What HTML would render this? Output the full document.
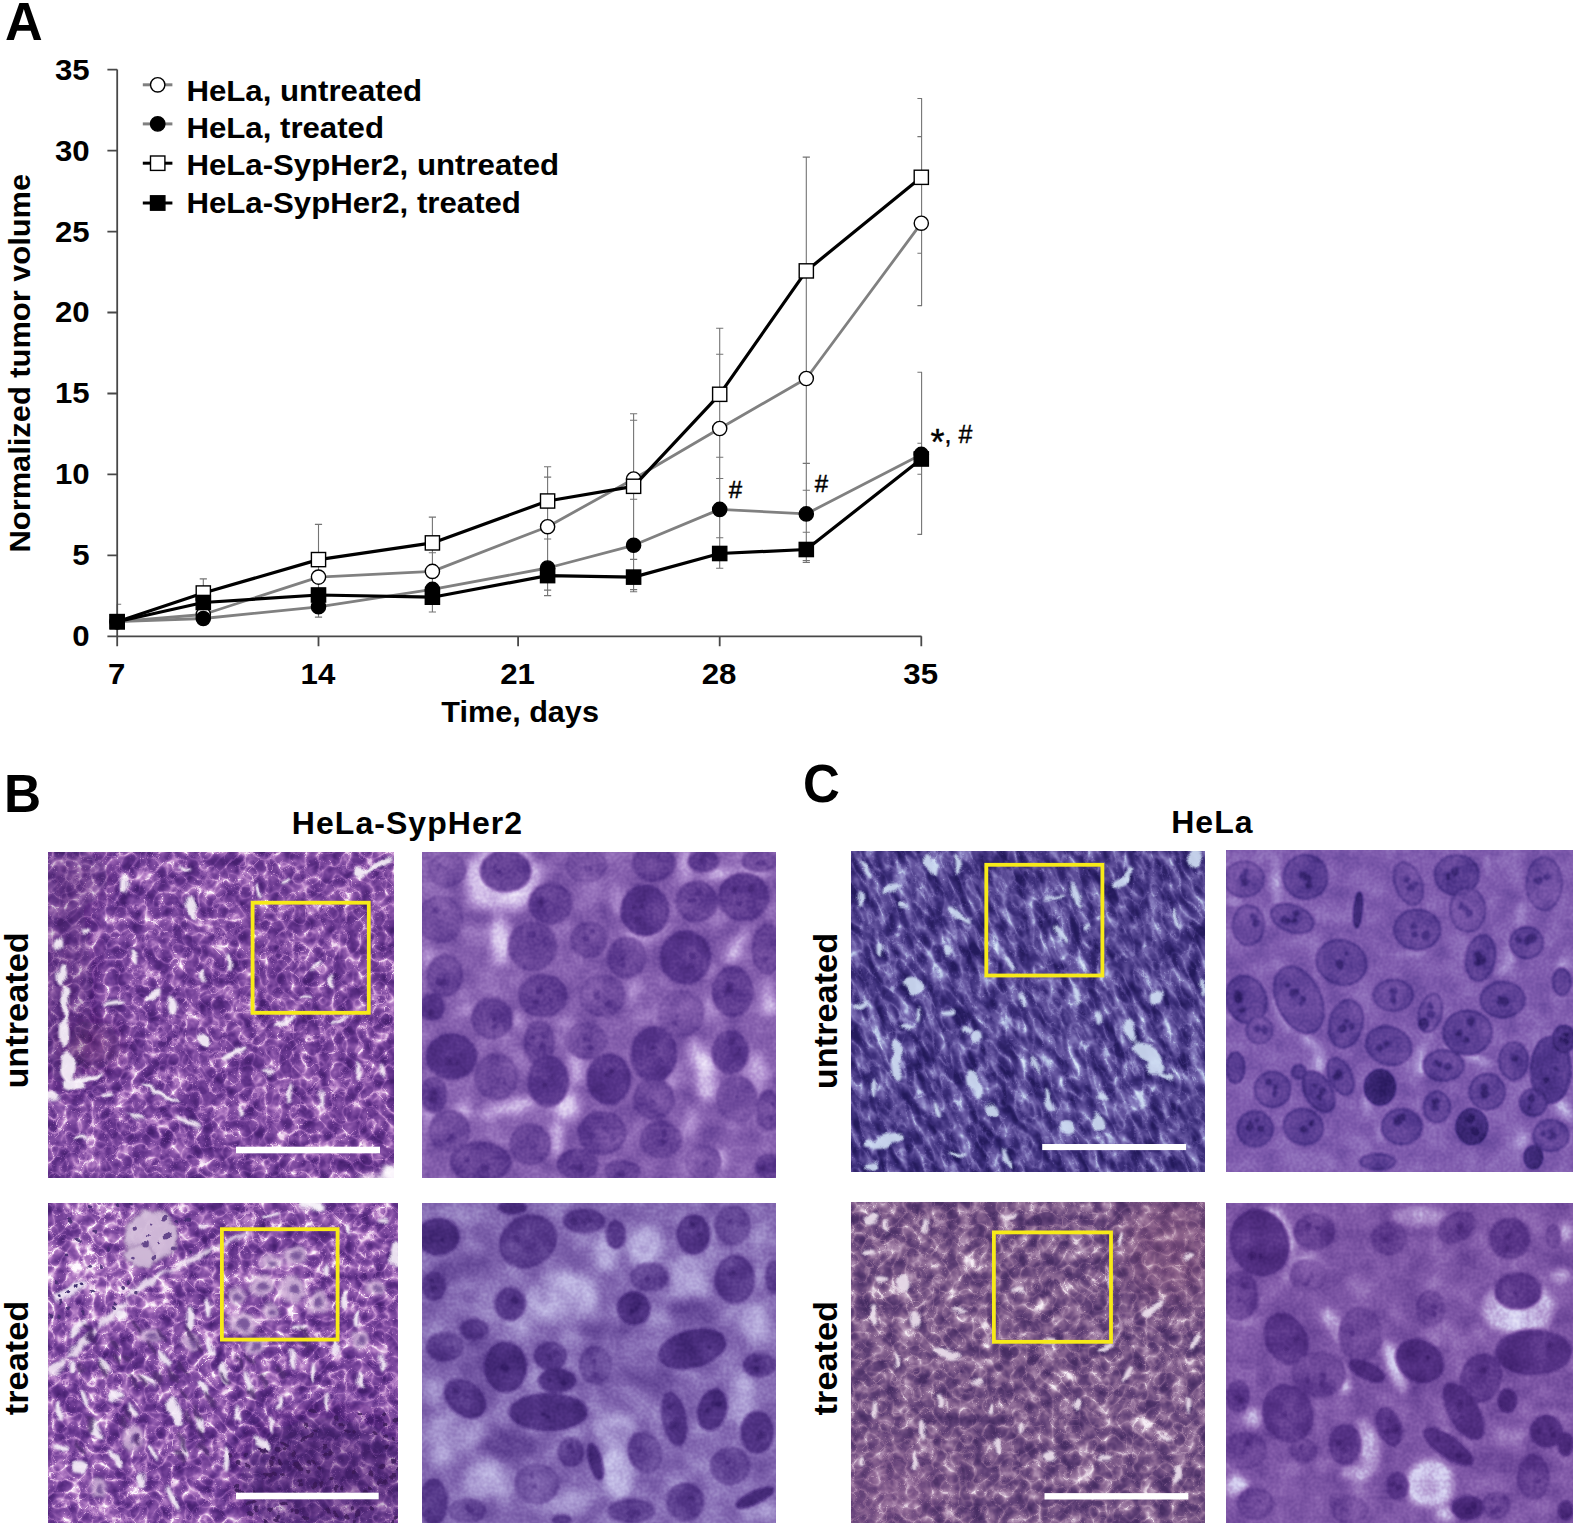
<!DOCTYPE html>
<html lang="en"><head><meta charset="utf-8"><title>Figure</title>
<style>html,body{margin:0;padding:0;background:#fff;}svg{display:block;}text{font-family:"Liberation Sans",Arial,Helvetica,sans-serif;fill:#000;}.b{font-weight:bold;}</style></head><body>
<svg width="1575" height="1527" viewBox="0 0 1575 1527">
<rect x="0" y="0" width="1575" height="1527" fill="#ffffff"/>
<defs>
<filter id="bl0_7" x="-50%" y="-50%" width="200%" height="200%"><feGaussianBlur stdDeviation="0.7"/></filter>
<filter id="bl1" x="-50%" y="-50%" width="200%" height="200%"><feGaussianBlur stdDeviation="1"/></filter>
<filter id="bl1_5" x="-50%" y="-50%" width="200%" height="200%"><feGaussianBlur stdDeviation="1.5"/></filter>
<filter id="bl2" x="-50%" y="-50%" width="200%" height="200%"><feGaussianBlur stdDeviation="2"/></filter>
<filter id="bl3" x="-50%" y="-50%" width="200%" height="200%"><feGaussianBlur stdDeviation="3"/></filter>
<filter id="bl4" x="-50%" y="-50%" width="200%" height="200%"><feGaussianBlur stdDeviation="4"/></filter>
<filter id="bl5" x="-50%" y="-50%" width="200%" height="200%"><feGaussianBlur stdDeviation="5"/></filter>
<filter id="bl6" x="-50%" y="-50%" width="200%" height="200%"><feGaussianBlur stdDeviation="6"/></filter>
<filter id="bl8" x="-50%" y="-50%" width="200%" height="200%"><feGaussianBlur stdDeviation="8"/></filter>
<filter id="bl10" x="-50%" y="-50%" width="200%" height="200%"><feGaussianBlur stdDeviation="10"/></filter>
<filter id="bl14" x="-50%" y="-50%" width="200%" height="200%"><feGaussianBlur stdDeviation="14"/></filter>
<filter id="bl20" x="-50%" y="-50%" width="200%" height="200%"><feGaussianBlur stdDeviation="20"/></filter>
<filter id="warp" x="-5%" y="-5%" width="110%" height="110%"><feTurbulence type="fractalNoise" baseFrequency="0.07" numOctaves="2" seed="4" result="w"/><feDisplacementMap in="SourceGraphic" in2="w" scale="9" xChannelSelector="R" yChannelSelector="G"/><feGaussianBlur stdDeviation="0.5"/></filter>
<filter id="fB1" filterUnits="userSpaceOnUse" x="48.5" y="852.0" width="345.5" height="326.0" color-interpolation-filters="sRGB"><feTurbulence type="turbulence" baseFrequency="0.075" numOctaves="1" seed="3" result="t0"/><feColorMatrix in="t0" type="matrix" values="1 0 0 0 0 1 0 0 0 0 1 0 0 0 0 0 0 0 0 1" result="g0"/><feComponentTransfer in="g0" result="n0"><feFuncR type="table" tableValues="1 0.35 0.05 0 0 0 0 0 0 0 0"/><feFuncG type="table" tableValues="1 0.35 0.05 0 0 0 0 0 0 0 0"/><feFuncB type="table" tableValues="1 0.35 0.05 0 0 0 0 0 0 0 0"/></feComponentTransfer><feComposite in="SourceGraphic" in2="n0" operator="arithmetic" k1="0" k2="1" k3="0.26" k4="0" result="c0"/><feTurbulence type="turbulence" baseFrequency="0.075" numOctaves="1" seed="9" result="t1"/><feColorMatrix in="t1" type="matrix" values="1 0 0 0 0 1 0 0 0 0 1 0 0 0 0 0 0 0 0 1" result="g1"/><feComponentTransfer in="g1" result="n1"><feFuncR type="table" tableValues="1 0.35 0.05 0 0 0 0 0 0 0 0"/><feFuncG type="table" tableValues="1 0.35 0.05 0 0 0 0 0 0 0 0"/><feFuncB type="table" tableValues="1 0.35 0.05 0 0 0 0 0 0 0 0"/></feComponentTransfer><feComposite in="c0" in2="n1" operator="arithmetic" k1="0" k2="1" k3="0.18" k4="0" result="c1"/><feTurbulence type="fractalNoise" baseFrequency="0.07" numOctaves="2" seed="5" result="t2"/><feColorMatrix in="t2" type="matrix" values="1.05 0 0 0 -0.025 1.05 0 0 0 -0.025 1.05 0 0 0 -0.025 0 0 0 0 1" result="n2"/><feComposite in="c1" in2="n2" operator="arithmetic" k1="0" k2="1" k3="1" k4="-0.5" result="c2"/><feTurbulence type="fractalNoise" baseFrequency="0.3" numOctaves="1" seed="7" result="t3"/><feColorMatrix in="t3" type="matrix" values="0.2 0 0 0 0.400 0.2 0 0 0 0.400 0.2 0 0 0 0.400 0 0 0 0 1" result="n3"/><feComposite in="c2" in2="n3" operator="arithmetic" k1="0" k2="1" k3="1" k4="-0.5" result="c3"/><feComponentTransfer in="c3"><feFuncR type="table" tableValues="0.275 0.298 0.322 0.345 0.369 0.392 0.424 0.455 0.486 0.518 0.549 0.598 0.647 0.696 0.745 0.800 0.855 0.910 0.940 0.970 1.000"/><feFuncG type="table" tableValues="0.125 0.141 0.157 0.173 0.188 0.204 0.231 0.257 0.284 0.311 0.337 0.386 0.435 0.484 0.533 0.617 0.701 0.784 0.850 0.915 0.980"/><feFuncB type="table" tableValues="0.439 0.461 0.483 0.505 0.527 0.549 0.573 0.596 0.620 0.643 0.667 0.700 0.733 0.767 0.800 0.839 0.878 0.918 0.945 0.973 1.000"/></feComponentTransfer></filter><clipPath id="cpB1"><rect x="48.5" y="852" width="345.5" height="326.0"/></clipPath>
<filter id="fB2" filterUnits="userSpaceOnUse" x="422.4" y="852.0" width="353.6" height="326.0" color-interpolation-filters="sRGB"><feTurbulence type="fractalNoise" baseFrequency="0.04" numOctaves="2" seed="11" result="t0"/><feColorMatrix in="t0" type="matrix" values="0.35 0 0 0 0.325 0.35 0 0 0 0.325 0.35 0 0 0 0.325 0 0 0 0 1" result="n0"/><feComposite in="SourceGraphic" in2="n0" operator="arithmetic" k1="0" k2="1" k3="1" k4="-0.5" result="c0"/><feTurbulence type="fractalNoise" baseFrequency="0.3" numOctaves="1" seed="5" result="t1"/><feColorMatrix in="t1" type="matrix" values="0.18 0 0 0 0.410 0.18 0 0 0 0.410 0.18 0 0 0 0.410 0 0 0 0 1" result="n1"/><feComposite in="c0" in2="n1" operator="arithmetic" k1="0" k2="1" k3="1" k4="-0.5" result="c1"/><feComponentTransfer in="c1"><feFuncR type="table" tableValues="0.220 0.243 0.267 0.290 0.314 0.337 0.375 0.413 0.450 0.488 0.525 0.565 0.604 0.643 0.682 0.729 0.776 0.824 0.863 0.902 0.941"/><feFuncG type="table" tableValues="0.110 0.129 0.147 0.166 0.185 0.204 0.238 0.273 0.307 0.342 0.376 0.420 0.463 0.506 0.549 0.614 0.680 0.745 0.800 0.855 0.910"/><feFuncB type="table" tableValues="0.408 0.435 0.461 0.488 0.515 0.541 0.569 0.598 0.626 0.654 0.682 0.714 0.745 0.776 0.808 0.842 0.876 0.910 0.933 0.957 0.980"/></feComponentTransfer></filter><clipPath id="cpB2"><rect x="422.4" y="852" width="353.6" height="326.0"/></clipPath>
<filter id="fB3" filterUnits="userSpaceOnUse" x="48.5" y="1203.0" width="349.5" height="320.0" color-interpolation-filters="sRGB"><feTurbulence type="turbulence" baseFrequency="0.075" numOctaves="1" seed="13" result="t0"/><feColorMatrix in="t0" type="matrix" values="1 0 0 0 0 1 0 0 0 0 1 0 0 0 0 0 0 0 0 1" result="g0"/><feComponentTransfer in="g0" result="n0"><feFuncR type="table" tableValues="1 0.35 0.05 0 0 0 0 0 0 0 0"/><feFuncG type="table" tableValues="1 0.35 0.05 0 0 0 0 0 0 0 0"/><feFuncB type="table" tableValues="1 0.35 0.05 0 0 0 0 0 0 0 0"/></feComponentTransfer><feComposite in="SourceGraphic" in2="n0" operator="arithmetic" k1="0" k2="1" k3="0.26" k4="0" result="c0"/><feTurbulence type="turbulence" baseFrequency="0.075" numOctaves="1" seed="19" result="t1"/><feColorMatrix in="t1" type="matrix" values="1 0 0 0 0 1 0 0 0 0 1 0 0 0 0 0 0 0 0 1" result="g1"/><feComponentTransfer in="g1" result="n1"><feFuncR type="table" tableValues="1 0.35 0.05 0 0 0 0 0 0 0 0"/><feFuncG type="table" tableValues="1 0.35 0.05 0 0 0 0 0 0 0 0"/><feFuncB type="table" tableValues="1 0.35 0.05 0 0 0 0 0 0 0 0"/></feComponentTransfer><feComposite in="c0" in2="n1" operator="arithmetic" k1="0" k2="1" k3="0.18" k4="0" result="c1"/><feTurbulence type="fractalNoise" baseFrequency="0.07" numOctaves="2" seed="15" result="t2"/><feColorMatrix in="t2" type="matrix" values="1.1 0 0 0 -0.050 1.1 0 0 0 -0.050 1.1 0 0 0 -0.050 0 0 0 0 1" result="n2"/><feComposite in="c1" in2="n2" operator="arithmetic" k1="0" k2="1" k3="1" k4="-0.5" result="c2"/><feTurbulence type="fractalNoise" baseFrequency="0.3" numOctaves="1" seed="17" result="t3"/><feColorMatrix in="t3" type="matrix" values="0.2 0 0 0 0.400 0.2 0 0 0 0.400 0.2 0 0 0 0.400 0 0 0 0 1" result="n3"/><feComposite in="c2" in2="n3" operator="arithmetic" k1="0" k2="1" k3="1" k4="-0.5" result="c3"/><feComponentTransfer in="c3"><feFuncR type="table" tableValues="0.275 0.298 0.322 0.345 0.369 0.392 0.424 0.455 0.486 0.518 0.549 0.598 0.647 0.696 0.745 0.800 0.855 0.910 0.940 0.970 1.000"/><feFuncG type="table" tableValues="0.125 0.141 0.157 0.173 0.188 0.204 0.231 0.257 0.284 0.311 0.337 0.386 0.435 0.484 0.533 0.617 0.701 0.784 0.850 0.915 0.980"/><feFuncB type="table" tableValues="0.439 0.461 0.483 0.505 0.527 0.549 0.573 0.596 0.620 0.643 0.667 0.700 0.733 0.767 0.800 0.839 0.878 0.918 0.945 0.973 1.000"/></feComponentTransfer></filter><clipPath id="cpB3"><rect x="48.5" y="1203" width="349.5" height="320.0"/></clipPath>
<filter id="fB4" filterUnits="userSpaceOnUse" x="422.4" y="1203.0" width="353.6" height="320.0" color-interpolation-filters="sRGB"><feTurbulence type="fractalNoise" baseFrequency="0.04" numOctaves="2" seed="21" result="t0"/><feColorMatrix in="t0" type="matrix" values="0.35 0 0 0 0.325 0.35 0 0 0 0.325 0.35 0 0 0 0.325 0 0 0 0 1" result="n0"/><feComposite in="SourceGraphic" in2="n0" operator="arithmetic" k1="0" k2="1" k3="1" k4="-0.5" result="c0"/><feTurbulence type="fractalNoise" baseFrequency="0.3" numOctaves="1" seed="25" result="t1"/><feColorMatrix in="t1" type="matrix" values="0.18 0 0 0 0.410 0.18 0 0 0 0.410 0.18 0 0 0 0.410 0 0 0 0 1" result="n1"/><feComposite in="c0" in2="n1" operator="arithmetic" k1="0" k2="1" k3="1" k4="-0.5" result="c1"/><feComponentTransfer in="c1"><feFuncR type="table" tableValues="0.204 0.229 0.254 0.279 0.304 0.329 0.364 0.398 0.433 0.467 0.502 0.541 0.580 0.620 0.659 0.698 0.737 0.776 0.813 0.850 0.886"/><feFuncG type="table" tableValues="0.110 0.130 0.151 0.171 0.191 0.212 0.248 0.284 0.320 0.356 0.392 0.443 0.494 0.545 0.596 0.648 0.701 0.753 0.797 0.842 0.886"/><feFuncB type="table" tableValues="0.400 0.427 0.453 0.480 0.507 0.533 0.563 0.593 0.623 0.653 0.682 0.716 0.749 0.782 0.816 0.847 0.878 0.910 0.928 0.946 0.965"/></feComponentTransfer></filter><clipPath id="cpB4"><rect x="422.4" y="1203" width="353.6" height="320.0"/></clipPath>
<filter id="fC1" filterUnits="userSpaceOnUse" x="752.4" y="752.0" width="551.6" height="518.7" color-interpolation-filters="sRGB"><feTurbulence type="turbulence" baseFrequency="0.1 0.045" numOctaves="1" seed="31" result="t0"/><feColorMatrix in="t0" type="matrix" values="1 0 0 0 0 1 0 0 0 0 1 0 0 0 0 0 0 0 0 1" result="g0"/><feComponentTransfer in="g0" result="n0"><feFuncR type="table" tableValues="1 0.35 0.05 0 0 0 0 0 0 0 0"/><feFuncG type="table" tableValues="1 0.35 0.05 0 0 0 0 0 0 0 0"/><feFuncB type="table" tableValues="1 0.35 0.05 0 0 0 0 0 0 0 0"/></feComponentTransfer><feComposite in="SourceGraphic" in2="n0" operator="arithmetic" k1="0" k2="1" k3="0.2" k4="0" result="c0"/><feTurbulence type="turbulence" baseFrequency="0.1 0.045" numOctaves="1" seed="39" result="t1"/><feColorMatrix in="t1" type="matrix" values="1 0 0 0 0 1 0 0 0 0 1 0 0 0 0 0 0 0 0 1" result="g1"/><feComponentTransfer in="g1" result="n1"><feFuncR type="table" tableValues="1 0.35 0.05 0 0 0 0 0 0 0 0"/><feFuncG type="table" tableValues="1 0.35 0.05 0 0 0 0 0 0 0 0"/><feFuncB type="table" tableValues="1 0.35 0.05 0 0 0 0 0 0 0 0"/></feComponentTransfer><feComposite in="c0" in2="n1" operator="arithmetic" k1="0" k2="1" k3="0.14" k4="0" result="c1"/><feTurbulence type="fractalNoise" baseFrequency="0.09 0.04" numOctaves="2" seed="35" result="t2"/><feColorMatrix in="t2" type="matrix" values="1.3 0 0 0 -0.150 1.3 0 0 0 -0.150 1.3 0 0 0 -0.150 0 0 0 0 1" result="n2"/><feComposite in="c1" in2="n2" operator="arithmetic" k1="0" k2="1" k3="1" k4="-0.5" result="c2"/><feTurbulence type="fractalNoise" baseFrequency="0.3" numOctaves="1" seed="37" result="t3"/><feColorMatrix in="t3" type="matrix" values="0.2 0 0 0 0.400 0.2 0 0 0 0.400 0.2 0 0 0 0.400 0 0 0 0 1" result="n3"/><feComposite in="c2" in2="n3" operator="arithmetic" k1="0" k2="1" k3="1" k4="-0.5" result="c3"/><feComponentTransfer in="c3"><feFuncR type="table" tableValues="0.141 0.162 0.182 0.202 0.223 0.243 0.276 0.309 0.342 0.375 0.408 0.447 0.486 0.525 0.565 0.617 0.669 0.722 0.766 0.810 0.855"/><feFuncG type="table" tableValues="0.102 0.119 0.136 0.154 0.171 0.188 0.220 0.251 0.282 0.314 0.345 0.392 0.439 0.486 0.533 0.612 0.690 0.769 0.813 0.858 0.902"/><feFuncB type="table" tableValues="0.361 0.386 0.411 0.436 0.461 0.486 0.516 0.546 0.576 0.605 0.635 0.671 0.706 0.741 0.776 0.818 0.860 0.902 0.925 0.949 0.973"/></feComponentTransfer></filter><clipPath id="cpC1"><rect x="851.4" y="851" width="353.6" height="320.7"/></clipPath>
<filter id="fC2" filterUnits="userSpaceOnUse" x="1226.6" y="850.7" width="345.6" height="320.8" color-interpolation-filters="sRGB"><feTurbulence type="fractalNoise" baseFrequency="0.04" numOctaves="2" seed="41" result="t0"/><feColorMatrix in="t0" type="matrix" values="0.3 0 0 0 0.350 0.3 0 0 0 0.350 0.3 0 0 0 0.350 0 0 0 0 1" result="n0"/><feComposite in="SourceGraphic" in2="n0" operator="arithmetic" k1="0" k2="1" k3="1" k4="-0.5" result="c0"/><feTurbulence type="fractalNoise" baseFrequency="0.3" numOctaves="1" seed="45" result="t1"/><feColorMatrix in="t1" type="matrix" values="0.18 0 0 0 0.410 0.18 0 0 0 0.410 0.18 0 0 0 0.410 0 0 0 0 1" result="n1"/><feComposite in="c0" in2="n1" operator="arithmetic" k1="0" k2="1" k3="1" k4="-0.5" result="c1"/><feComponentTransfer in="c1"><feFuncR type="table" tableValues="0.165 0.195 0.224 0.254 0.284 0.314 0.351 0.389 0.427 0.464 0.502 0.537 0.573 0.608 0.643 0.695 0.748 0.800 0.839 0.878 0.918"/><feFuncG type="table" tableValues="0.102 0.124 0.146 0.168 0.190 0.212 0.242 0.271 0.301 0.331 0.361 0.406 0.451 0.496 0.541 0.622 0.703 0.784 0.834 0.884 0.933"/><feFuncB type="table" tableValues="0.376 0.411 0.445 0.480 0.515 0.549 0.576 0.602 0.629 0.656 0.682 0.712 0.741 0.771 0.800 0.842 0.884 0.925 0.946 0.967 0.988"/></feComponentTransfer></filter><clipPath id="cpC2"><rect x="1226.6" y="850.7" width="345.6" height="320.8"/></clipPath>
<filter id="fC3" filterUnits="userSpaceOnUse" x="851.4" y="1202.6" width="353.6" height="320.4" color-interpolation-filters="sRGB"><feTurbulence type="turbulence" baseFrequency="0.075" numOctaves="1" seed="51" result="t0"/><feColorMatrix in="t0" type="matrix" values="1 0 0 0 0 1 0 0 0 0 1 0 0 0 0 0 0 0 0 1" result="g0"/><feComponentTransfer in="g0" result="n0"><feFuncR type="table" tableValues="1 0.35 0.05 0 0 0 0 0 0 0 0"/><feFuncG type="table" tableValues="1 0.35 0.05 0 0 0 0 0 0 0 0"/><feFuncB type="table" tableValues="1 0.35 0.05 0 0 0 0 0 0 0 0"/></feComponentTransfer><feComposite in="SourceGraphic" in2="n0" operator="arithmetic" k1="0" k2="1" k3="0.2" k4="0" result="c0"/><feTurbulence type="turbulence" baseFrequency="0.075" numOctaves="1" seed="59" result="t1"/><feColorMatrix in="t1" type="matrix" values="1 0 0 0 0 1 0 0 0 0 1 0 0 0 0 0 0 0 0 1" result="g1"/><feComponentTransfer in="g1" result="n1"><feFuncR type="table" tableValues="1 0.35 0.05 0 0 0 0 0 0 0 0"/><feFuncG type="table" tableValues="1 0.35 0.05 0 0 0 0 0 0 0 0"/><feFuncB type="table" tableValues="1 0.35 0.05 0 0 0 0 0 0 0 0"/></feComponentTransfer><feComposite in="c0" in2="n1" operator="arithmetic" k1="0" k2="1" k3="0.14" k4="0" result="c1"/><feTurbulence type="fractalNoise" baseFrequency="0.07" numOctaves="2" seed="55" result="t2"/><feColorMatrix in="t2" type="matrix" values="1.15 0 0 0 -0.075 1.15 0 0 0 -0.075 1.15 0 0 0 -0.075 0 0 0 0 1" result="n2"/><feComposite in="c1" in2="n2" operator="arithmetic" k1="0" k2="1" k3="1" k4="-0.5" result="c2"/><feTurbulence type="fractalNoise" baseFrequency="0.3" numOctaves="1" seed="57" result="t3"/><feColorMatrix in="t3" type="matrix" values="0.2 0 0 0 0.400 0.2 0 0 0 0.400 0.2 0 0 0 0.400 0 0 0 0 1" result="n3"/><feComposite in="c2" in2="n3" operator="arithmetic" k1="0" k2="1" k3="1" k4="-0.5" result="c3"/><feComponentTransfer in="c3"><feFuncR type="table" tableValues="0.282 0.303 0.323 0.344 0.364 0.384 0.416 0.447 0.478 0.510 0.541 0.578 0.616 0.653 0.690 0.745 0.800 0.855 0.892 0.928 0.965"/><feFuncG type="table" tableValues="0.180 0.196 0.212 0.227 0.243 0.259 0.287 0.315 0.344 0.372 0.400 0.441 0.482 0.524 0.565 0.635 0.706 0.776 0.829 0.881 0.933"/><feFuncB type="table" tableValues="0.392 0.408 0.424 0.439 0.455 0.471 0.491 0.511 0.532 0.552 0.573 0.604 0.635 0.667 0.698 0.748 0.797 0.847 0.886 0.925 0.965"/></feComponentTransfer></filter><clipPath id="cpC3"><rect x="851.4" y="1202.6" width="353.6" height="320.4"/></clipPath>
<filter id="fC4" filterUnits="userSpaceOnUse" x="1226.8" y="1203.3" width="345.7" height="319.2" color-interpolation-filters="sRGB"><feTurbulence type="fractalNoise" baseFrequency="0.04" numOctaves="2" seed="61" result="t0"/><feColorMatrix in="t0" type="matrix" values="0.35 0 0 0 0.325 0.35 0 0 0 0.325 0.35 0 0 0 0.325 0 0 0 0 1" result="n0"/><feComposite in="SourceGraphic" in2="n0" operator="arithmetic" k1="0" k2="1" k3="1" k4="-0.5" result="c0"/><feTurbulence type="fractalNoise" baseFrequency="0.3" numOctaves="1" seed="65" result="t1"/><feColorMatrix in="t1" type="matrix" values="0.18 0 0 0 0.410 0.18 0 0 0 0.410 0.18 0 0 0 0.410 0 0 0 0 1" result="n1"/><feComposite in="c0" in2="n1" operator="arithmetic" k1="0" k2="1" k3="1" k4="-0.5" result="c1"/><feComponentTransfer in="c1"><feFuncR type="table" tableValues="0.227 0.251 0.275 0.298 0.322 0.345 0.381 0.417 0.453 0.489 0.525 0.563 0.600 0.637 0.675 0.724 0.774 0.824 0.860 0.897 0.933"/><feFuncG type="table" tableValues="0.110 0.129 0.147 0.166 0.185 0.204 0.237 0.270 0.303 0.336 0.369 0.416 0.463 0.510 0.557 0.638 0.719 0.800 0.847 0.894 0.941"/><feFuncB type="table" tableValues="0.408 0.433 0.458 0.483 0.508 0.533 0.562 0.590 0.618 0.646 0.675 0.704 0.733 0.763 0.792 0.839 0.886 0.933 0.952 0.970 0.988"/></feComponentTransfer></filter><clipPath id="cpC4"><rect x="1226.8" y="1203.3" width="345.7" height="319.2"/></clipPath>
</defs>
<g id="chart">
<path d="M117.2 604.3V621M117.2 604.3H121.2" stroke="#747474" stroke-width="1.1" fill="none"/>
<path d="M203.3 578.9V626M199.70000000000002 578.9H206.9" stroke="#747474" stroke-width="1.1" fill="none"/>
<path d="M318.5 524.4V617.1M314.9 524.4H322.1M314.9 617.1H322.1" stroke="#747474" stroke-width="1.1" fill="none"/>
<path d="M432.4 517.1V612M428.79999999999995 517.1H436.0M428.79999999999995 552.8H436.0M428.79999999999995 612H436.0" stroke="#747474" stroke-width="1.1" fill="none"/>
<path d="M547.6 466.7V595.6M544.0 466.7H551.2M544.0 477.1H551.2M544.0 539H551.2M544.0 590.1H551.2M544.0 595.6H551.2" stroke="#747474" stroke-width="1.1" fill="none"/>
<path d="M633.6 413.7V591.7M630.0 413.7H637.2M630.0 420.3H637.2M630.0 499.3H637.2M630.0 559.4H637.2M630.0 589.6H637.2M630.0 591.7H637.2" stroke="#747474" stroke-width="1.1" fill="none"/>
<path d="M719.7 328.3V568.2M716.1 328.3H723.3000000000001M716.1 354.2H723.3000000000001M716.1 457.3H723.3000000000001M716.1 478.5H723.3000000000001M716.1 537.7H723.3000000000001M716.1 568.2H723.3000000000001" stroke="#747474" stroke-width="1.1" fill="none"/>
<path d="M806.3 157.1V562.5M802.6999999999999 157.1H809.9M802.6999999999999 463.4H809.9M802.6999999999999 490.3H809.9M802.6999999999999 532.3H809.9M802.6999999999999 560.6H809.9M802.6999999999999 562.5H809.9" stroke="#747474" stroke-width="1.1" fill="none"/>
<path d="M921.6 98.5V305.6M917.4 98.5H922.1M917.4 136.6H922.1M917.4 253.2H922.1M917.4 305.6H922.1" stroke="#747474" stroke-width="1.1" fill="none"/>
<path d="M921.6 372.3V534.4M917.4 372.3H922.1M917.4 443.3H922.1M917.4 474.2H922.1M917.4 534.4H922.1" stroke="#747474" stroke-width="1.1" fill="none"/>
<path d="M117.2 69.6V646.2M107.4 636.3H921.5" stroke="#484848" stroke-width="1.8" fill="none"/>
<path d="M107.4 69.6H117.2M107.4 150.6H117.2M107.4 231.6H117.2M107.4 312.5H117.2M107.4 393.5H117.2M107.4 474.4H117.2M107.4 555.4H117.2" stroke="#484848" stroke-width="1.8" fill="none"/>
<path d="M318.5 636.3V646.2M518.1 636.3V646.2M719.7 636.3V646.2M921.3 636.3V646.2" stroke="#484848" stroke-width="1.8" fill="none"/>
<text class="b" transform="translate(89.6 79.5) scale(1.03 1)" font-size="30.3" text-anchor="end">35</text>
<text class="b" transform="translate(89.6 160.5) scale(1.03 1)" font-size="30.3" text-anchor="end">30</text>
<text class="b" transform="translate(89.6 241.5) scale(1.03 1)" font-size="30.3" text-anchor="end">25</text>
<text class="b" transform="translate(89.6 322.4) scale(1.03 1)" font-size="30.3" text-anchor="end">20</text>
<text class="b" transform="translate(89.6 403.4) scale(1.03 1)" font-size="30.3" text-anchor="end">15</text>
<text class="b" transform="translate(89.6 484.3) scale(1.03 1)" font-size="30.3" text-anchor="end">10</text>
<text class="b" transform="translate(89.6 565.3) scale(1.03 1)" font-size="30.3" text-anchor="end">5</text>
<text class="b" transform="translate(89.6 646.2) scale(1.03 1)" font-size="30.3" text-anchor="end">0</text>
<text class="b" transform="translate(116.6 683.5) scale(1.03 1)" font-size="30.3" text-anchor="middle">7</text>
<text class="b" transform="translate(317.9 683.5) scale(1.03 1)" font-size="30.3" text-anchor="middle">14</text>
<text class="b" transform="translate(517.5 683.5) scale(1.03 1)" font-size="30.3" text-anchor="middle">21</text>
<text class="b" transform="translate(719.1 683.5) scale(1.03 1)" font-size="30.3" text-anchor="middle">28</text>
<text class="b" transform="translate(920.7 683.5) scale(1.03 1)" font-size="30.3" text-anchor="middle">35</text>
<text class="b" transform="translate(441.3 721.9) scale(1.02 1)" font-size="30">Time, days</text>
<text class="b" transform="translate(30.4 552.4) rotate(-90) scale(1.028 1)" font-size="30">Normalized tumor volume</text>
<text class="b" transform="translate(5.0 40.0) scale(0.985 1)" font-size="53">A</text>
<polyline points="117.2,621.7 203.3,614.5 318.5,577.1 432.4,571.4 547.6,526.7 633.6,479 719.7,428.5 806.3,378.5 921.3,223.2" fill="none" stroke="#808080" stroke-width="2.8" stroke-linejoin="round"/>
<circle cx="117.2" cy="621.7" r="7.1" fill="#fff" stroke="#000" stroke-width="1.4"/>
<circle cx="203.3" cy="614.5" r="7.1" fill="#fff" stroke="#000" stroke-width="1.4"/>
<circle cx="318.5" cy="577.1" r="7.1" fill="#fff" stroke="#000" stroke-width="1.4"/>
<circle cx="432.4" cy="571.4" r="7.1" fill="#fff" stroke="#000" stroke-width="1.4"/>
<circle cx="547.6" cy="526.7" r="7.1" fill="#fff" stroke="#000" stroke-width="1.4"/>
<circle cx="633.6" cy="479" r="7.1" fill="#fff" stroke="#000" stroke-width="1.4"/>
<circle cx="719.7" cy="428.5" r="7.1" fill="#fff" stroke="#000" stroke-width="1.4"/>
<circle cx="806.3" cy="378.5" r="7.1" fill="#fff" stroke="#000" stroke-width="1.4"/>
<circle cx="921.3" cy="223.2" r="7.1" fill="#fff" stroke="#000" stroke-width="1.4"/>
<polyline points="117.2,621.7 203.3,618.5 318.5,606.8 432.4,589.4 547.6,568 633.6,545.3 719.7,509.4 806.3,513.9 921.3,454.4" fill="none" stroke="#808080" stroke-width="2.8" stroke-linejoin="round"/>
<circle cx="117.2" cy="621.7" r="7.1" fill="#000" stroke="#000" stroke-width="1.4"/>
<circle cx="203.3" cy="618.5" r="7.1" fill="#000" stroke="#000" stroke-width="1.4"/>
<circle cx="318.5" cy="606.8" r="7.1" fill="#000" stroke="#000" stroke-width="1.4"/>
<circle cx="432.4" cy="589.4" r="7.1" fill="#000" stroke="#000" stroke-width="1.4"/>
<circle cx="547.6" cy="568" r="7.1" fill="#000" stroke="#000" stroke-width="1.4"/>
<circle cx="633.6" cy="545.3" r="7.1" fill="#000" stroke="#000" stroke-width="1.4"/>
<circle cx="719.7" cy="509.4" r="7.1" fill="#000" stroke="#000" stroke-width="1.4"/>
<circle cx="806.3" cy="513.9" r="7.1" fill="#000" stroke="#000" stroke-width="1.4"/>
<circle cx="921.3" cy="454.4" r="7.1" fill="#000" stroke="#000" stroke-width="1.4"/>
<polyline points="117.2,621.7 203.3,593 318.5,559.6 432.4,542.9 547.6,501 633.6,486.3 719.7,394.3 806.3,270.9 921.3,177.3" fill="none" stroke="#000" stroke-width="3.2" stroke-linejoin="round"/>
<rect x="110.1" y="614.6" width="14.2" height="14.2" fill="#fff" stroke="#000" stroke-width="1.4"/>
<rect x="196.2" y="585.9" width="14.2" height="14.2" fill="#fff" stroke="#000" stroke-width="1.4"/>
<rect x="311.4" y="552.5" width="14.2" height="14.2" fill="#fff" stroke="#000" stroke-width="1.4"/>
<rect x="425.3" y="535.8" width="14.2" height="14.2" fill="#fff" stroke="#000" stroke-width="1.4"/>
<rect x="540.5" y="493.9" width="14.2" height="14.2" fill="#fff" stroke="#000" stroke-width="1.4"/>
<rect x="626.5" y="479.2" width="14.2" height="14.2" fill="#fff" stroke="#000" stroke-width="1.4"/>
<rect x="712.6" y="387.2" width="14.2" height="14.2" fill="#fff" stroke="#000" stroke-width="1.4"/>
<rect x="799.2" y="263.8" width="14.2" height="14.2" fill="#fff" stroke="#000" stroke-width="1.4"/>
<rect x="914.2" y="170.2" width="14.2" height="14.2" fill="#fff" stroke="#000" stroke-width="1.4"/>
<polyline points="117.2,621.7 203.3,602.5 318.5,595 432.4,597.2 547.6,575.6 633.6,577.1 719.7,553.5 806.3,549.5 921.3,459" fill="none" stroke="#000" stroke-width="3.2" stroke-linejoin="round"/>
<rect x="110.1" y="614.6" width="14.2" height="14.2" fill="#000" stroke="#000" stroke-width="1.4"/>
<rect x="196.2" y="595.4" width="14.2" height="14.2" fill="#000" stroke="#000" stroke-width="1.4"/>
<rect x="311.4" y="587.9" width="14.2" height="14.2" fill="#000" stroke="#000" stroke-width="1.4"/>
<rect x="425.3" y="590.1" width="14.2" height="14.2" fill="#000" stroke="#000" stroke-width="1.4"/>
<rect x="540.5" y="568.5" width="14.2" height="14.2" fill="#000" stroke="#000" stroke-width="1.4"/>
<rect x="626.5" y="570.0" width="14.2" height="14.2" fill="#000" stroke="#000" stroke-width="1.4"/>
<rect x="712.6" y="546.4" width="14.2" height="14.2" fill="#000" stroke="#000" stroke-width="1.4"/>
<rect x="799.2" y="542.4" width="14.2" height="14.2" fill="#000" stroke="#000" stroke-width="1.4"/>
<rect x="914.2" y="451.9" width="14.2" height="14.2" fill="#000" stroke="#000" stroke-width="1.4"/>
<text x="728.8" y="498.3" font-size="24" stroke="#000" stroke-width="0.5">#</text>
<text x="814.8" y="491.7" font-size="24" stroke="#000" stroke-width="0.5">#</text>
<text x="930.6" y="443.4" font-size="25" stroke="#000" stroke-width="0.4"><tspan font-size="36" dy="11.3">*</tspan><tspan dy="-11.3">, #</tspan></text>
<path d="M142.8 84.8H172.4" stroke="#808080" stroke-width="3" fill="none"/>
<circle cx="157.7" cy="84.8" r="7.2" fill="#fff" stroke="#000" stroke-width="1.4"/>
<text class="b" transform="translate(186.4 100.6) scale(1.04 1)" font-size="30">HeLa, untreated</text>
<path d="M142.8 123.9H172.4" stroke="#808080" stroke-width="3" fill="none"/>
<circle cx="157.7" cy="123.9" r="7.2" fill="#000" stroke="#000" stroke-width="1.4"/>
<text class="b" transform="translate(186.4 137.9) scale(1.04 1)" font-size="30">HeLa, treated</text>
<path d="M142.8 163.2H172.4" stroke="#000" stroke-width="3" fill="none"/>
<rect x="150.5" y="156.0" width="14.4" height="14.4" fill="#fff" stroke="#000" stroke-width="1.4"/>
<text class="b" transform="translate(186.4 175.2) scale(1.04 1)" font-size="30">HeLa-SypHer2, untreated</text>
<path d="M142.8 203.0H172.4" stroke="#000" stroke-width="3" fill="none"/>
<rect x="150.5" y="195.8" width="14.4" height="14.4" fill="#000" stroke="#000" stroke-width="1.4"/>
<text class="b" transform="translate(186.4 212.5) scale(1.04 1)" font-size="30">HeLa-SypHer2, treated</text>
</g>
<text class="b" transform="translate(3.9 811.8) scale(0.97 1)" font-size="53">B</text>
<text class="b" transform="translate(803.0 801.5) scale(0.945 1)" font-size="54">C</text>
<text class="b" x="291.8" y="833.8" font-size="32" letter-spacing="1.05">HeLa-SypHer2</text>
<text class="b" x="1171.2" y="832.6" font-size="32" letter-spacing="1.05">HeLa</text>
<text class="b" transform="translate(28.3 1088.6) rotate(-90) scale(1.04 1)" font-size="33">untreated</text>
<text class="b" transform="translate(28.3 1415.2) rotate(-90) scale(1.04 1)" font-size="33">treated</text>
<text class="b" transform="translate(836.9 1089.2) rotate(-90) scale(1.04 1)" font-size="33">untreated</text>
<text class="b" transform="translate(836.9 1415.4) rotate(-90) scale(1.04 1)" font-size="33">treated</text>
<g clip-path="url(#cpB1)"><g filter="url(#fB1)"><rect x="46.5" y="850" width="349.5" height="330.0" fill="#474747"/><g filter="url(#bl14)"><ellipse cx="70.5" cy="1005.8" rx="26.4" ry="92.3" fill="#383838" opacity="0.5"/><ellipse cx="70.5" cy="885.0" rx="35.1" ry="33.0" fill="#474747" opacity="0.4"/><ellipse cx="323.1" cy="1126.6" rx="54.9" ry="33.0" fill="#595959" opacity="0.3"/><ellipse cx="224.2" cy="928.9" rx="43.9" ry="33.0" fill="#5c5c5c" opacity="0.3"/></g><g filter="url(#bl10)"><ellipse cx="96.8" cy="1043.1" rx="28.6" ry="26.4" fill="#333333" opacity="0.45"/></g><g filter="url(#bl8)"><ellipse cx="373.6" cy="1049.7" rx="13.2" ry="26.4" fill="#404040" opacity="0.4"/></g><g filter="url(#bl5)"><ellipse cx="184.7" cy="1122.2" rx="43.9" ry="6.6" fill="#333333" opacity="0.6" transform="rotate(25 184.7 1122.2)"/></g></g><g filter="url(#warp)"><g filter="url(#bl14)"><ellipse cx="66.1" cy="992.6" rx="25.3" ry="101.1" fill="#461e5f" opacity="0.32"/><ellipse cx="72.7" cy="876.2" rx="35.1" ry="28.6" fill="#461e5f" opacity="0.28"/></g><g filter="url(#bl10)"><ellipse cx="94.6" cy="1045.3" rx="26.4" ry="24.2" fill="#5a1e50" opacity="0.25"/></g><g filter="url(#bl2)"><ellipse cx="391.6" cy="1173.2" rx="10.1" ry="8.8" fill="#fffdff" opacity="0.95"/><ellipse cx="373.6" cy="1176.7" rx="13.2" ry="3.1" fill="#faf0fa" opacity="0.8"/></g><g filter="url(#bl1)"><ellipse cx="61.7" cy="975.0" rx="4.4" ry="11.0" fill="#faf4fb" opacity="0.92"/><ellipse cx="65.0" cy="1001.4" rx="4.0" ry="15.4" fill="#faf4fb" opacity="0.92"/><ellipse cx="63.9" cy="1032.1" rx="4.4" ry="17.6" fill="#faf4fb" opacity="0.92"/><ellipse cx="68.3" cy="1067.3" rx="7.7" ry="13.2" fill="#faf4fb" opacity="0.92"/><ellipse cx="73.8" cy="1084.9" rx="11.0" ry="6.2" fill="#faf4fb" opacity="0.92"/><ellipse cx="52.9" cy="1095.8" rx="6.6" ry="5.5" fill="#faf4fb" opacity="0.92"/><ellipse cx="88.0" cy="1078.3" rx="15.4" ry="3.1" fill="#faf4fb" opacity="0.92" transform="rotate(-15 88.0 1078.3)"/><ellipse cx="160.5" cy="1093.7" rx="22.0" ry="2.6" fill="#faf4fb" opacity="0.92" transform="rotate(30 160.5 1093.7)"/><ellipse cx="153.9" cy="994.8" rx="8.8" ry="4.0" fill="#faf4fb" opacity="0.92" transform="rotate(-30 153.9 994.8)"/><ellipse cx="114.4" cy="1002.5" rx="11.0" ry="2.2" fill="#faf4fb" opacity="0.92" transform="rotate(-10 114.4 1002.5)"/><ellipse cx="191.3" cy="906.9" rx="4.0" ry="13.2" fill="#faf4fb" opacity="0.92" transform="rotate(-15 191.3 906.9)"/><ellipse cx="203.4" cy="975.0" rx="2.6" ry="6.6" fill="#faf4fb" opacity="0.92"/><ellipse cx="233.0" cy="1054.1" rx="13.2" ry="3.1" fill="#faf4fb" opacity="0.92" transform="rotate(-25 233.0 1054.1)"/><ellipse cx="204.5" cy="1040.9" rx="5.5" ry="8.8" fill="#faf4fb" opacity="0.92" transform="rotate(-30 204.5 1040.9)"/><ellipse cx="285.8" cy="1021.2" rx="12.1" ry="2.6" fill="#faf4fb" opacity="0.92" transform="rotate(-25 285.8 1021.2)"/><ellipse cx="378.0" cy="865.2" rx="17.6" ry="3.5" fill="#faf4fb" opacity="0.92" transform="rotate(-25 378.0 865.2)"/><ellipse cx="358.3" cy="871.8" rx="6.6" ry="4.4" fill="#faf4fb" opacity="0.92"/><ellipse cx="315.4" cy="966.2" rx="6.6" ry="2.2" fill="#faf4fb" opacity="0.92" transform="rotate(-40 315.4 966.2)"/><ellipse cx="331.9" cy="981.6" rx="3.3" ry="7.7" fill="#faf4fb" opacity="0.92"/><ellipse cx="305.5" cy="997.0" rx="6.6" ry="1.8" fill="#faf4fb" opacity="0.92"/><ellipse cx="358.3" cy="1071.7" rx="2.2" ry="9.9" fill="#faf4fb" opacity="0.92"/><ellipse cx="85.8" cy="931.1" rx="6.6" ry="2.2" fill="#faf4fb" opacity="0.92"/><ellipse cx="57.3" cy="944.3" rx="4.0" ry="5.5" fill="#faf4fb" opacity="0.92"/><ellipse cx="134.2" cy="955.3" rx="2.6" ry="8.8" fill="#faf4fb" opacity="0.92" transform="rotate(-20 134.2 955.3)"/><ellipse cx="285.8" cy="880.6" rx="5.5" ry="2.2" fill="#faf4fb" opacity="0.92" transform="rotate(-30 285.8 880.6)"/><ellipse cx="189.1" cy="1122.2" rx="13.2" ry="2.2" fill="#faf4fb" opacity="0.92" transform="rotate(25 189.1 1122.2)"/><ellipse cx="107.8" cy="1093.7" rx="4.4" ry="2.2" fill="#faf4fb" opacity="0.92"/><ellipse cx="171.5" cy="1005.8" rx="5.5" ry="8.8" fill="#faf4fb" opacity="0.92"/><ellipse cx="252.8" cy="1005.8" rx="2.2" ry="8.8" fill="#faf4fb" opacity="0.92"/><ellipse cx="290.2" cy="1093.7" rx="2.2" ry="11.0" fill="#faf4fb" opacity="0.92" transform="rotate(10 290.2 1093.7)"/><ellipse cx="268.2" cy="1071.7" rx="6.6" ry="2.2" fill="#faf4fb" opacity="0.92"/><ellipse cx="125.4" cy="885.0" rx="3.3" ry="8.8" fill="#faf4fb" opacity="0.92"/><ellipse cx="228.6" cy="961.8" rx="2.6" ry="8.8" fill="#faf4fb" opacity="0.92"/><ellipse cx="340.7" cy="1019.0" rx="8.8" ry="1.8" fill="#faf4fb" opacity="0.92" transform="rotate(-30 340.7 1019.0)"/><ellipse cx="241.8" cy="1111.2" rx="2.2" ry="6.6" fill="#faf4fb" opacity="0.92"/><ellipse cx="320.9" cy="1100.2" rx="2.2" ry="8.8" fill="#faf4fb" opacity="0.92"/><ellipse cx="136.4" cy="1115.6" rx="8.8" ry="2.2" fill="#faf4fb" opacity="0.92" transform="rotate(20 136.4 1115.6)"/><ellipse cx="81.5" cy="1137.6" rx="8.8" ry="2.2" fill="#faf4fb" opacity="0.92"/><ellipse cx="382.4" cy="1071.7" rx="2.2" ry="6.6" fill="#faf4fb" opacity="0.92"/><ellipse cx="184.7" cy="869.6" rx="6.6" ry="2.2" fill="#faf4fb" opacity="0.92"/><ellipse cx="259.4" cy="891.5" rx="2.2" ry="8.8" fill="#faf4fb" opacity="0.92" transform="rotate(-20 259.4 891.5)"/></g></g><rect x="252.6" y="902.7" width="116.2" height="110.1" fill="none" stroke="#f7ea18" stroke-width="3.8"/><rect x="236.0" y="1146.7" width="144.0" height="6.6" fill="#ffffff"/></g>
<g clip-path="url(#cpB2)"><g filter="url(#fB2)"><rect x="420.4" y="850" width="357.6" height="330.0" fill="#808080"/><g filter="url(#bl5)"><ellipse cx="503.3" cy="879.0" rx="39.3" ry="33.7" fill="#e0e0e0" opacity="0.92"/><ellipse cx="501.1" cy="941.9" rx="10.1" ry="27.0" fill="#e6e6e6" opacity="0.92"/><ellipse cx="516.8" cy="1018.3" rx="7.9" ry="7.9" fill="#d9d9d9" opacity="0.92"/><ellipse cx="428.0" cy="957.6" rx="6.7" ry="10.1" fill="#d9d9d9" opacity="0.92"/><ellipse cx="467.4" cy="1010.5" rx="13.5" ry="3.4" fill="#d9d9d9" opacity="0.92" transform="rotate(-20 467.4 1010.5)"/><ellipse cx="507.8" cy="1108.2" rx="29.2" ry="7.2" fill="#ebebeb" opacity="0.92" transform="rotate(-15 507.8 1108.2)"/><ellipse cx="577.5" cy="1065.5" rx="7.2" ry="18.0" fill="#e6e6e6" opacity="0.92"/><ellipse cx="566.3" cy="1106.0" rx="13.5" ry="12.4" fill="#f5f5f5" opacity="0.92"/><ellipse cx="557.3" cy="1139.7" rx="7.2" ry="20.2" fill="#e6e6e6" opacity="0.92"/><ellipse cx="705.6" cy="1074.5" rx="10.1" ry="24.7" fill="#ebebeb" opacity="0.92"/><ellipse cx="694.4" cy="1049.8" rx="6.3" ry="13.5" fill="#d9d9d9" opacity="0.92"/><ellipse cx="716.8" cy="1159.9" rx="9.0" ry="11.2" fill="#ffffff" opacity="0.92"/><ellipse cx="737.1" cy="873.4" rx="33.7" ry="6.3" fill="#d9d9d9" opacity="0.92"/><ellipse cx="685.4" cy="865.5" rx="6.3" ry="18.0" fill="#d9d9d9" opacity="0.92"/><ellipse cx="737.1" cy="946.4" rx="6.3" ry="20.2" fill="#d9d9d9" opacity="0.92" transform="rotate(30 737.1 946.4)"/><ellipse cx="642.7" cy="935.2" rx="20.2" ry="4.0" fill="#e6e6e6" opacity="0.92"/><ellipse cx="710.1" cy="1004.8" rx="4.0" ry="13.5" fill="#e0e0e0" opacity="0.92"/><ellipse cx="769.7" cy="998.1" rx="6.3" ry="18.0" fill="#d9d9d9" opacity="0.92"/><ellipse cx="617.9" cy="901.4" rx="4.9" ry="13.5" fill="#cccccc" opacity="0.92"/><ellipse cx="669.6" cy="1079.0" rx="5.6" ry="13.5" fill="#cccccc" opacity="0.92"/><ellipse cx="478.6" cy="903.7" rx="13.5" ry="5.6" fill="#d1d1d1" opacity="0.92"/><ellipse cx="692.1" cy="1121.7" rx="4.5" ry="15.7" fill="#cccccc" opacity="0.92"/><ellipse cx="633.7" cy="991.4" rx="4.0" ry="11.2" fill="#d1d1d1" opacity="0.92" transform="rotate(20 633.7 991.4)"/><ellipse cx="566.3" cy="1022.8" rx="9.0" ry="5.6" fill="#cccccc" opacity="0.92"/><ellipse cx="462.9" cy="1112.7" rx="11.2" ry="6.7" fill="#d1d1d1" opacity="0.92"/><ellipse cx="755.1" cy="1076.8" rx="13.5" ry="27.0" fill="#b8b8b8" opacity="0.92"/><ellipse cx="429.1" cy="1112.7" rx="6.7" ry="13.5" fill="#d9d9d9" opacity="0.92"/></g><g filter="url(#bl1_5)"><ellipse cx="505.6" cy="871.1" rx="24.7" ry="20.3" fill="#454545" opacity="0.92" stroke="#2b2b2b" stroke-width="1.6"/><ellipse cx="447.1" cy="870.0" rx="18.5" ry="16.1" fill="#666666" opacity="0.92" stroke="#4d4d4d" stroke-width="1.6"/><ellipse cx="550.5" cy="903.7" rx="21.0" ry="19.8" fill="#525252" opacity="0.92" stroke="#383838" stroke-width="1.6"/><ellipse cx="440.4" cy="919.4" rx="22.3" ry="22.3" fill="#666666" opacity="0.92" stroke="#4d4d4d" stroke-width="1.6"/><ellipse cx="532.5" cy="946.4" rx="23.5" ry="23.5" fill="#525252" opacity="0.92" stroke="#383838" stroke-width="1.6"/><ellipse cx="444.9" cy="975.6" rx="17.3" ry="20.3" fill="#525252" opacity="0.92" stroke="#383838" stroke-width="1.6"/><ellipse cx="542.7" cy="995.9" rx="23.5" ry="21.0" fill="#4d4d4d" opacity="0.92" stroke="#333333" stroke-width="1.6"/><ellipse cx="644.9" cy="910.4" rx="23.5" ry="24.7" fill="#383838" opacity="0.92" stroke="#1f1f1f" stroke-width="1.6"/><ellipse cx="696.6" cy="901.4" rx="19.8" ry="19.8" fill="#4d4d4d" opacity="0.92" stroke="#333333" stroke-width="1.6"/><ellipse cx="743.8" cy="897.0" rx="24.7" ry="23.5" fill="#474747" opacity="0.92" stroke="#2e2e2e" stroke-width="1.6"/><ellipse cx="653.9" cy="863.2" rx="21.0" ry="17.3" fill="#4d4d4d" opacity="0.92" stroke="#333333" stroke-width="1.6"/><ellipse cx="586.5" cy="865.5" rx="19.8" ry="16.1" fill="#666666" opacity="0.92" stroke="#4d4d4d" stroke-width="1.6"/><ellipse cx="626.9" cy="957.6" rx="18.5" ry="19.8" fill="#525252" opacity="0.92" stroke="#383838" stroke-width="1.6"/><ellipse cx="685.4" cy="957.6" rx="24.7" ry="26.0" fill="#3d3d3d" opacity="0.92" stroke="#242424" stroke-width="1.6"/><ellipse cx="732.6" cy="991.4" rx="19.8" ry="24.7" fill="#4d4d4d" opacity="0.92" stroke="#333333" stroke-width="1.6"/><ellipse cx="767.4" cy="948.7" rx="14.8" ry="24.7" fill="#525252" opacity="0.92" stroke="#383838" stroke-width="1.6"/><ellipse cx="588.7" cy="939.7" rx="17.3" ry="17.3" fill="#525252" opacity="0.92" stroke="#383838" stroke-width="1.6"/><ellipse cx="602.2" cy="995.9" rx="22.3" ry="19.8" fill="#666666" opacity="0.92" stroke="#4d4d4d" stroke-width="1.6"/><ellipse cx="680.9" cy="1013.8" rx="22.3" ry="22.3" fill="#666666" opacity="0.92" stroke="#4d4d4d" stroke-width="1.6"/><ellipse cx="492.1" cy="1018.3" rx="19.8" ry="19.8" fill="#525252" opacity="0.92" stroke="#383838" stroke-width="1.6"/><ellipse cx="451.6" cy="1056.5" rx="24.7" ry="22.3" fill="#383838" opacity="0.92" stroke="#1f1f1f" stroke-width="1.6"/><ellipse cx="539.3" cy="1043.1" rx="14.8" ry="22.3" fill="#4d4d4d" opacity="0.92" stroke="#333333" stroke-width="1.6"/><ellipse cx="586.5" cy="1040.8" rx="19.8" ry="17.3" fill="#666666" opacity="0.92" stroke="#4d4d4d" stroke-width="1.6"/><ellipse cx="609.0" cy="1079.0" rx="21.0" ry="24.7" fill="#333333" opacity="0.92" stroke="#1a1a1a" stroke-width="1.6"/><ellipse cx="653.9" cy="1054.3" rx="22.3" ry="27.2" fill="#424242" opacity="0.92" stroke="#292929" stroke-width="1.6"/><ellipse cx="730.3" cy="1052.0" rx="17.3" ry="21.0" fill="#474747" opacity="0.92" stroke="#2e2e2e" stroke-width="1.6"/><ellipse cx="496.6" cy="1076.8" rx="21.0" ry="22.3" fill="#5c5c5c" opacity="0.92" stroke="#424242" stroke-width="1.6"/><ellipse cx="548.3" cy="1081.3" rx="19.8" ry="24.7" fill="#424242" opacity="0.92" stroke="#292929" stroke-width="1.6"/><ellipse cx="653.9" cy="1099.2" rx="19.8" ry="19.8" fill="#5c5c5c" opacity="0.92" stroke="#424242" stroke-width="1.6"/><ellipse cx="737.1" cy="1099.2" rx="19.8" ry="22.3" fill="#616161" opacity="0.92" stroke="#474747" stroke-width="1.6"/><ellipse cx="602.2" cy="1133.0" rx="23.5" ry="21.0" fill="#4d4d4d" opacity="0.92" stroke="#333333" stroke-width="1.6"/><ellipse cx="660.7" cy="1139.7" rx="19.8" ry="17.3" fill="#525252" opacity="0.92" stroke="#383838" stroke-width="1.6"/><ellipse cx="449.4" cy="1130.7" rx="19.8" ry="19.8" fill="#616161" opacity="0.92" stroke="#474747" stroke-width="1.6"/><ellipse cx="480.8" cy="1162.2" rx="29.7" ry="19.8" fill="#474747" opacity="0.92" stroke="#2e2e2e" stroke-width="1.6"/><ellipse cx="530.3" cy="1144.2" rx="19.8" ry="19.8" fill="#575757" opacity="0.92" stroke="#3d3d3d" stroke-width="1.6"/><ellipse cx="577.5" cy="1164.4" rx="19.8" ry="14.8" fill="#4d4d4d" opacity="0.92" stroke="#333333" stroke-width="1.6"/><ellipse cx="622.4" cy="1171.2" rx="17.3" ry="9.9" fill="#525252" opacity="0.92" stroke="#383838" stroke-width="1.6"/><ellipse cx="703.4" cy="1162.2" rx="17.3" ry="17.3" fill="#6b6b6b" opacity="0.92" stroke="#525252" stroke-width="1.6"/><ellipse cx="768.5" cy="1110.5" rx="11.1" ry="19.8" fill="#525252" opacity="0.92" stroke="#383838" stroke-width="1.6"/><ellipse cx="433.6" cy="1094.8" rx="12.4" ry="17.3" fill="#4d4d4d" opacity="0.92" stroke="#333333" stroke-width="1.6"/><ellipse cx="431.4" cy="1007.1" rx="12.4" ry="12.4" fill="#474747" opacity="0.92" stroke="#2e2e2e" stroke-width="1.6"/><ellipse cx="768.5" cy="1166.7" rx="12.4" ry="12.4" fill="#4d4d4d" opacity="0.92" stroke="#333333" stroke-width="1.6"/><ellipse cx="759.6" cy="861.0" rx="17.3" ry="9.9" fill="#525252" opacity="0.92" stroke="#383838" stroke-width="1.6"/><ellipse cx="703.4" cy="861.0" rx="14.8" ry="9.9" fill="#4d4d4d" opacity="0.92" stroke="#333333" stroke-width="1.6"/></g><g filter="url(#bl1)"><ellipse cx="495.2" cy="867.2" rx="1.9" ry="1.6" fill="#212121" opacity="0.9" transform="rotate(57 495.2 867.2)"/><ellipse cx="499.0" cy="872.1" rx="2.1" ry="2.2" fill="#212121" opacity="0.9" transform="rotate(49 499.0 872.1)"/><ellipse cx="440.7" cy="865.5" rx="2.9" ry="2.7" fill="#424242" opacity="0.9" transform="rotate(29 440.7 865.5)"/><ellipse cx="444.8" cy="868.7" rx="2.3" ry="1.9" fill="#424242" opacity="0.9" transform="rotate(83 444.8 868.7)"/><ellipse cx="437.8" cy="867.8" rx="2.4" ry="2.2" fill="#424242" opacity="0.9" transform="rotate(54 437.8 867.8)"/><ellipse cx="541.3" cy="902.2" rx="3.3" ry="3.6" fill="#2e2e2e" opacity="0.9" transform="rotate(44 541.3 902.2)"/><ellipse cx="436.0" cy="910.6" rx="3.3" ry="4.2" fill="#424242" opacity="0.9" transform="rotate(53 436.0 910.6)"/><ellipse cx="444.5" cy="912.8" rx="2.8" ry="2.5" fill="#424242" opacity="0.9" transform="rotate(37 444.5 912.8)"/><ellipse cx="532.0" cy="934.6" rx="3.4" ry="3.5" fill="#2e2e2e" opacity="0.9" transform="rotate(54 532.0 934.6)"/><ellipse cx="442.8" cy="982.6" rx="3.2" ry="3.9" fill="#2e2e2e" opacity="0.9" transform="rotate(64 442.8 982.6)"/><ellipse cx="438.3" cy="981.7" rx="2.6" ry="3.0" fill="#2e2e2e" opacity="0.9" transform="rotate(51 438.3 981.7)"/><ellipse cx="539.5" cy="991.1" rx="3.2" ry="3.8" fill="#292929" opacity="0.9" transform="rotate(47 539.5 991.1)"/><ellipse cx="550.7" cy="1000.2" rx="2.0" ry="1.7" fill="#292929" opacity="0.9" transform="rotate(50 550.7 1000.2)"/><ellipse cx="535.7" cy="1002.4" rx="2.6" ry="2.4" fill="#292929" opacity="0.9" transform="rotate(78 535.7 1002.4)"/><ellipse cx="642.4" cy="907.0" rx="2.2" ry="1.7" fill="#141414" opacity="0.9" transform="rotate(25 642.4 907.0)"/><ellipse cx="633.8" cy="907.5" rx="2.2" ry="2.3" fill="#141414" opacity="0.9" transform="rotate(73 633.8 907.5)"/><ellipse cx="637.7" cy="920.5" rx="2.9" ry="3.2" fill="#141414" opacity="0.9"/><ellipse cx="698.6" cy="892.4" rx="3.2" ry="3.8" fill="#292929" opacity="0.9" transform="rotate(16 698.6 892.4)"/><ellipse cx="689.7" cy="900.6" rx="2.5" ry="2.1" fill="#292929" opacity="0.9" transform="rotate(46 689.7 900.6)"/><ellipse cx="693.2" cy="899.8" rx="2.6" ry="2.7" fill="#292929" opacity="0.9" transform="rotate(45 693.2 899.8)"/><ellipse cx="739.0" cy="903.6" rx="2.8" ry="3.1" fill="#242424" opacity="0.9" transform="rotate(58 739.0 903.6)"/><ellipse cx="734.6" cy="890.6" rx="2.8" ry="3.0" fill="#242424" opacity="0.9" transform="rotate(23 734.6 890.6)"/><ellipse cx="751.1" cy="888.7" rx="3.1" ry="3.7" fill="#242424" opacity="0.9" transform="rotate(32 751.1 888.7)"/><ellipse cx="658.5" cy="857.4" rx="1.9" ry="1.6" fill="#292929" opacity="0.9" transform="rotate(1 658.5 857.4)"/><ellipse cx="586.5" cy="867.9" rx="2.8" ry="2.7" fill="#424242" opacity="0.9" transform="rotate(8 586.5 867.9)"/><ellipse cx="588.6" cy="868.5" rx="3.3" ry="3.7" fill="#424242" opacity="0.9" transform="rotate(82 588.6 868.5)"/><ellipse cx="622.6" cy="959.0" rx="2.6" ry="2.1" fill="#2e2e2e" opacity="0.9" transform="rotate(49 622.6 959.0)"/><ellipse cx="622.2" cy="965.2" rx="2.2" ry="2.1" fill="#2e2e2e" opacity="0.9" transform="rotate(65 622.2 965.2)"/><ellipse cx="692.5" cy="956.0" rx="3.4" ry="3.1" fill="#1a1a1a" opacity="0.9" transform="rotate(50 692.5 956.0)"/><ellipse cx="691.7" cy="966.4" rx="2.1" ry="2.4" fill="#1a1a1a" opacity="0.9" transform="rotate(86 691.7 966.4)"/><ellipse cx="728.8" cy="990.0" rx="3.4" ry="4.0" fill="#292929" opacity="0.9" transform="rotate(66 728.8 990.0)"/><ellipse cx="726.3" cy="993.9" rx="1.8" ry="2.1" fill="#292929" opacity="0.9" transform="rotate(41 726.3 993.9)"/><ellipse cx="729.5" cy="985.3" rx="3.0" ry="2.6" fill="#292929" opacity="0.9" transform="rotate(27 729.5 985.3)"/><ellipse cx="764.9" cy="959.9" rx="2.3" ry="2.9" fill="#2e2e2e" opacity="0.9" transform="rotate(20 764.9 959.9)"/><ellipse cx="586.2" cy="938.6" rx="2.7" ry="3.3" fill="#2e2e2e" opacity="0.9" transform="rotate(75 586.2 938.6)"/><ellipse cx="592.6" cy="931.3" rx="2.7" ry="2.4" fill="#2e2e2e" opacity="0.9" transform="rotate(90 592.6 931.3)"/><ellipse cx="587.3" cy="938.2" rx="2.1" ry="1.8" fill="#2e2e2e" opacity="0.9" transform="rotate(73 587.3 938.2)"/><ellipse cx="596.2" cy="992.4" rx="3.3" ry="3.3" fill="#424242" opacity="0.9" transform="rotate(64 596.2 992.4)"/><ellipse cx="596.7" cy="995.9" rx="3.2" ry="4.0" fill="#424242" opacity="0.9" transform="rotate(2 596.7 995.9)"/><ellipse cx="608.2" cy="1003.9" rx="3.1" ry="3.4" fill="#424242" opacity="0.9" transform="rotate(17 608.2 1003.9)"/><ellipse cx="676.5" cy="1015.9" rx="2.0" ry="1.9" fill="#424242" opacity="0.9" transform="rotate(70 676.5 1015.9)"/><ellipse cx="674.7" cy="1023.0" rx="2.9" ry="3.0" fill="#424242" opacity="0.9" transform="rotate(68 674.7 1023.0)"/><ellipse cx="494.2" cy="1019.3" rx="2.0" ry="1.8" fill="#2e2e2e" opacity="0.9" transform="rotate(68 494.2 1019.3)"/><ellipse cx="494.1" cy="1026.8" rx="2.8" ry="3.4" fill="#2e2e2e" opacity="0.9" transform="rotate(47 494.1 1026.8)"/><ellipse cx="448.6" cy="1060.9" rx="3.2" ry="3.5" fill="#141414" opacity="0.9" transform="rotate(62 448.6 1060.9)"/><ellipse cx="457.3" cy="1062.4" rx="2.0" ry="1.6" fill="#141414" opacity="0.9" transform="rotate(9 457.3 1062.4)"/><ellipse cx="543.8" cy="1035.5" rx="3.1" ry="3.0" fill="#292929" opacity="0.9" transform="rotate(78 543.8 1035.5)"/><ellipse cx="532.7" cy="1037.1" rx="1.9" ry="2.1" fill="#292929" opacity="0.9" transform="rotate(72 532.7 1037.1)"/><ellipse cx="542.1" cy="1045.5" rx="3.2" ry="3.5" fill="#292929" opacity="0.9" transform="rotate(14 542.1 1045.5)"/><ellipse cx="588.8" cy="1039.3" rx="1.9" ry="1.8" fill="#424242" opacity="0.9" transform="rotate(78 588.8 1039.3)"/><ellipse cx="585.1" cy="1038.7" rx="2.0" ry="2.5" fill="#424242" opacity="0.9" transform="rotate(5 585.1 1038.7)"/><ellipse cx="589.9" cy="1048.1" rx="2.7" ry="2.4" fill="#424242" opacity="0.9" transform="rotate(57 589.9 1048.1)"/><ellipse cx="607.4" cy="1075.2" rx="3.2" ry="3.2" fill="#0f0f0f" opacity="0.9" transform="rotate(48 607.4 1075.2)"/><ellipse cx="611.5" cy="1071.0" rx="3.1" ry="3.3" fill="#0f0f0f" opacity="0.9" transform="rotate(61 611.5 1071.0)"/><ellipse cx="661.0" cy="1060.6" rx="1.9" ry="1.5" fill="#1f1f1f" opacity="0.9" transform="rotate(37 661.0 1060.6)"/><ellipse cx="653.1" cy="1047.7" rx="2.4" ry="2.4" fill="#1f1f1f" opacity="0.9" transform="rotate(8 653.1 1047.7)"/><ellipse cx="739.5" cy="1049.9" rx="2.0" ry="1.8" fill="#242424" opacity="0.9" transform="rotate(79 739.5 1049.9)"/><ellipse cx="731.8" cy="1041.7" rx="3.2" ry="3.3" fill="#242424" opacity="0.9" transform="rotate(45 731.8 1041.7)"/><ellipse cx="498.2" cy="1080.7" rx="2.1" ry="2.1" fill="#383838" opacity="0.9" transform="rotate(35 498.2 1080.7)"/><ellipse cx="504.4" cy="1082.0" rx="1.9" ry="2.1" fill="#383838" opacity="0.9" transform="rotate(43 504.4 1082.0)"/><ellipse cx="544.6" cy="1085.0" rx="2.3" ry="2.2" fill="#1f1f1f" opacity="0.9" transform="rotate(74 544.6 1085.0)"/><ellipse cx="551.9" cy="1077.6" rx="2.3" ry="2.5" fill="#1f1f1f" opacity="0.9" transform="rotate(74 551.9 1077.6)"/><ellipse cx="654.0" cy="1101.4" rx="2.2" ry="1.8" fill="#383838" opacity="0.9" transform="rotate(70 654.0 1101.4)"/><ellipse cx="736.8" cy="1096.8" rx="1.8" ry="2.1" fill="#3d3d3d" opacity="0.9" transform="rotate(45 736.8 1096.8)"/><ellipse cx="591.0" cy="1135.0" rx="2.0" ry="2.3" fill="#292929" opacity="0.9" transform="rotate(41 591.0 1135.0)"/><ellipse cx="613.2" cy="1138.1" rx="2.1" ry="2.5" fill="#292929" opacity="0.9" transform="rotate(18 613.2 1138.1)"/><ellipse cx="604.7" cy="1128.3" rx="2.0" ry="2.1" fill="#292929" opacity="0.9" transform="rotate(77 604.7 1128.3)"/><ellipse cx="663.3" cy="1142.1" rx="2.7" ry="3.1" fill="#2e2e2e" opacity="0.9" transform="rotate(40 663.3 1142.1)"/><ellipse cx="663.9" cy="1133.8" rx="2.9" ry="3.1" fill="#2e2e2e" opacity="0.9" transform="rotate(88 663.9 1133.8)"/><ellipse cx="451.9" cy="1136.0" rx="2.1" ry="2.4" fill="#3d3d3d" opacity="0.9" transform="rotate(85 451.9 1136.0)"/><ellipse cx="449.5" cy="1139.6" rx="2.9" ry="3.0" fill="#3d3d3d" opacity="0.9" transform="rotate(55 449.5 1139.6)"/><ellipse cx="467.0" cy="1159.7" rx="2.5" ry="2.5" fill="#242424" opacity="0.9" transform="rotate(43 467.0 1159.7)"/><ellipse cx="485.3" cy="1167.7" rx="3.1" ry="3.9" fill="#242424" opacity="0.9" transform="rotate(73 485.3 1167.7)"/><ellipse cx="535.0" cy="1146.2" rx="2.0" ry="1.7" fill="#333333" opacity="0.9" transform="rotate(33 535.0 1146.2)"/><ellipse cx="573.0" cy="1166.9" rx="2.8" ry="2.5" fill="#292929" opacity="0.9"/><ellipse cx="579.6" cy="1167.7" rx="3.2" ry="4.1" fill="#292929" opacity="0.9" transform="rotate(87 579.6 1167.7)"/><ellipse cx="622.9" cy="1174.4" rx="2.6" ry="2.3" fill="#2e2e2e" opacity="0.9" transform="rotate(52 622.9 1174.4)"/><ellipse cx="619.1" cy="1174.3" rx="3.0" ry="3.3" fill="#2e2e2e" opacity="0.9" transform="rotate(82 619.1 1174.3)"/><ellipse cx="705.5" cy="1162.9" rx="2.6" ry="3.2" fill="#474747" opacity="0.9" transform="rotate(20 705.5 1162.9)"/><ellipse cx="695.5" cy="1161.6" rx="2.1" ry="2.0" fill="#474747" opacity="0.9" transform="rotate(38 695.5 1161.6)"/><ellipse cx="770.9" cy="1117.6" rx="2.5" ry="2.1" fill="#2e2e2e" opacity="0.9" transform="rotate(15 770.9 1117.6)"/><ellipse cx="773.3" cy="1104.1" rx="2.7" ry="2.4" fill="#2e2e2e" opacity="0.9" transform="rotate(32 773.3 1104.1)"/><ellipse cx="434.5" cy="1100.8" rx="3.0" ry="2.5" fill="#292929" opacity="0.9" transform="rotate(87 434.5 1100.8)"/><ellipse cx="429.9" cy="1098.9" rx="2.4" ry="3.0" fill="#292929" opacity="0.9" transform="rotate(69 429.9 1098.9)"/><ellipse cx="433.5" cy="1092.7" rx="3.4" ry="4.1" fill="#292929" opacity="0.9" transform="rotate(80 433.5 1092.7)"/><ellipse cx="430.7" cy="1013.4" rx="3.3" ry="2.9" fill="#242424" opacity="0.9" transform="rotate(78 430.7 1013.4)"/><ellipse cx="762.5" cy="1168.8" rx="3.4" ry="3.3" fill="#292929" opacity="0.9" transform="rotate(55 762.5 1168.8)"/><ellipse cx="761.7" cy="863.1" rx="2.0" ry="2.5" fill="#2e2e2e" opacity="0.9" transform="rotate(27 761.7 863.1)"/><ellipse cx="764.2" cy="863.5" rx="2.5" ry="2.1" fill="#2e2e2e" opacity="0.9" transform="rotate(37 764.2 863.5)"/><ellipse cx="758.7" cy="863.6" rx="2.7" ry="3.4" fill="#2e2e2e" opacity="0.9" transform="rotate(67 758.7 863.6)"/><ellipse cx="701.9" cy="860.5" rx="3.4" ry="3.1" fill="#292929" opacity="0.9" transform="rotate(33 701.9 860.5)"/><ellipse cx="704.3" cy="863.2" rx="2.7" ry="2.5" fill="#292929" opacity="0.9" transform="rotate(74 704.3 863.2)"/><ellipse cx="703.7" cy="856.3" rx="2.5" ry="3.1" fill="#292929" opacity="0.9" transform="rotate(21 703.7 856.3)"/></g></g></g>
<g clip-path="url(#cpB3)"><g filter="url(#fB3)"><rect x="46.5" y="1201" width="353.5" height="324.0" fill="#4f4f4f"/><g filter="url(#bl20)"><ellipse cx="326.3" cy="1469.7" rx="84.4" ry="57.8" fill="#1f1f1f" opacity="0.7"/><ellipse cx="181.8" cy="1380.8" rx="66.7" ry="44.4" fill="#6b6b6b" opacity="0.2"/></g><g filter="url(#bl14)"><ellipse cx="259.6" cy="1458.6" rx="33.3" ry="26.7" fill="#242424" opacity="0.5"/><ellipse cx="337.4" cy="1447.4" rx="44.4" ry="33.3" fill="#1a1a1a" opacity="0.5"/><ellipse cx="204.1" cy="1503.0" rx="24.4" ry="22.2" fill="#404040" opacity="0.4"/><ellipse cx="81.8" cy="1480.8" rx="33.3" ry="33.3" fill="#858585" opacity="0.3"/><ellipse cx="106.3" cy="1260.8" rx="75.6" ry="46.7" fill="#9e9e9e" opacity="0.55" transform="rotate(-35 106.3 1260.8)"/><ellipse cx="66.3" cy="1229.7" rx="26.7" ry="31.1" fill="#575757" opacity="0.3"/><ellipse cx="370.7" cy="1314.1" rx="26.7" ry="44.4" fill="#575757" opacity="0.3"/><ellipse cx="270.7" cy="1287.4" rx="44.4" ry="35.6" fill="#8f8f8f" opacity="0.4"/></g></g><g filter="url(#warp)"><g filter="url(#bl20)"><ellipse cx="328.5" cy="1478.6" rx="88.9" ry="60.0" fill="#3c1c5a" opacity="0.3"/></g><g filter="url(#bl2)"><ellipse cx="261.8" cy="1285.2" rx="12.9" ry="11.1" fill="#dec6e2" opacity="0.8"/><ellipse cx="292.9" cy="1289.7" rx="12.9" ry="12.9" fill="#dec6e2" opacity="0.8"/><ellipse cx="317.4" cy="1303.0" rx="10.7" ry="10.7" fill="#dec6e2" opacity="0.8"/><ellipse cx="241.8" cy="1323.0" rx="15.1" ry="11.1" fill="#dec6e2" opacity="0.8"/><ellipse cx="295.2" cy="1255.2" rx="12.2" ry="8.4" fill="#dec6e2" opacity="0.8"/><ellipse cx="270.7" cy="1261.2" rx="10.7" ry="6.2" fill="#dec6e2" opacity="0.8"/><ellipse cx="237.4" cy="1296.3" rx="8.4" ry="8.4" fill="#dec6e2" opacity="0.8"/><ellipse cx="270.7" cy="1310.8" rx="8.9" ry="8.9" fill="#dec6e2" opacity="0.8"/><ellipse cx="359.6" cy="1340.8" rx="8.0" ry="9.3" fill="#dec6e2" opacity="0.8"/><ellipse cx="375.2" cy="1287.4" rx="8.9" ry="6.7" fill="#dec6e2" opacity="0.8"/><ellipse cx="255.2" cy="1345.2" rx="11.1" ry="8.4" fill="#dec6e2" opacity="0.8"/><ellipse cx="190.7" cy="1340.8" rx="8.9" ry="8.4" fill="#dec6e2" opacity="0.8"/><ellipse cx="132.9" cy="1438.6" rx="10.2" ry="12.9" fill="#dec6e2" opacity="0.8"/><ellipse cx="99.6" cy="1487.4" rx="8.9" ry="8.9" fill="#dec6e2" opacity="0.8"/><ellipse cx="150.7" cy="1336.3" rx="11.1" ry="6.7" fill="#dec6e2" opacity="0.8"/></g><g filter="url(#bl1_5)"><ellipse cx="57.4" cy="1367.4" rx="13.3" ry="4.4" fill="#f0e4f2" opacity="0.92" transform="rotate(-40 57.4 1367.4)"/><ellipse cx="81.8" cy="1343.0" rx="20.0" ry="4.4" fill="#f0e4f2" opacity="0.92" transform="rotate(-45 81.8 1343.0)"/><ellipse cx="112.9" cy="1314.1" rx="20.0" ry="4.0" fill="#f0e4f2" opacity="0.92" transform="rotate(-42 112.9 1314.1)"/><ellipse cx="146.3" cy="1284.1" rx="24.4" ry="3.6" fill="#f0e4f2" opacity="0.92" transform="rotate(-30 146.3 1284.1)"/><ellipse cx="190.7" cy="1260.8" rx="26.7" ry="2.7" fill="#f0e4f2" opacity="0.92" transform="rotate(-27 190.7 1260.8)"/><ellipse cx="232.9" cy="1239.7" rx="20.0" ry="2.0" fill="#f0e4f2" opacity="0.92" transform="rotate(-25 232.9 1239.7)"/><ellipse cx="70.7" cy="1290.8" rx="18.9" ry="5.3" fill="#f0e8f5" opacity="0.92" transform="rotate(-28 70.7 1290.8)"/><ellipse cx="150.7" cy="1236.3" rx="26.2" ry="25.8" fill="#d2bcda" opacity="0.95" stroke="#8a62a2" stroke-width="2"/><ellipse cx="138.5" cy="1255.9" rx="15.1" ry="11.6" fill="#ceb8d6" opacity="0.95" stroke="#8a62a2" stroke-width="1.5"/><ellipse cx="310.7" cy="1205.7" rx="12.2" ry="4.9" fill="#fcfafd" opacity="0.95"/><ellipse cx="263.2" cy="1286.1" rx="5.8" ry="5.3" fill="#68448e" opacity="0.8"/><ellipse cx="294.3" cy="1290.6" rx="5.8" ry="6.2" fill="#68448e" opacity="0.8"/><ellipse cx="318.7" cy="1303.9" rx="4.8" ry="5.1" fill="#68448e" opacity="0.8"/><ellipse cx="243.2" cy="1323.9" rx="6.8" ry="5.3" fill="#68448e" opacity="0.8"/><ellipse cx="296.5" cy="1256.1" rx="5.5" ry="4.1" fill="#68448e" opacity="0.8"/><ellipse cx="272.1" cy="1262.1" rx="4.8" ry="3.0" fill="#68448e" opacity="0.8"/><ellipse cx="238.7" cy="1297.2" rx="3.8" ry="4.1" fill="#68448e" opacity="0.8"/><ellipse cx="272.1" cy="1311.7" rx="4.0" ry="4.3" fill="#68448e" opacity="0.8"/><ellipse cx="360.9" cy="1341.7" rx="3.6" ry="4.5" fill="#68448e" opacity="0.8"/><ellipse cx="376.5" cy="1288.3" rx="4.0" ry="3.2" fill="#68448e" opacity="0.8"/><ellipse cx="256.5" cy="1346.1" rx="5.0" ry="4.1" fill="#68448e" opacity="0.8"/><ellipse cx="192.1" cy="1341.7" rx="4.0" ry="4.1" fill="#68448e" opacity="0.8"/><ellipse cx="134.3" cy="1439.4" rx="4.6" ry="6.2" fill="#68448e" opacity="0.8"/><ellipse cx="100.9" cy="1488.3" rx="4.0" ry="4.3" fill="#68448e" opacity="0.8"/><ellipse cx="152.1" cy="1337.2" rx="5.0" ry="3.2" fill="#68448e" opacity="0.8"/></g><g filter="url(#bl1)"><ellipse cx="395.2" cy="1254.1" rx="4.4" ry="13.3" fill="#f6f0f9" opacity="0.92"/><ellipse cx="357.4" cy="1318.6" rx="3.1" ry="8.9" fill="#f6f0f9" opacity="0.92"/><ellipse cx="344.1" cy="1300.8" rx="3.1" ry="8.9" fill="#f6f0f9" opacity="0.92"/><ellipse cx="175.2" cy="1411.9" rx="5.6" ry="15.6" fill="#f6f0f9" opacity="0.92" transform="rotate(-20 175.2 1411.9)"/><ellipse cx="184.1" cy="1447.4" rx="3.3" ry="11.1" fill="#f6f0f9" opacity="0.92" transform="rotate(-25 184.1 1447.4)"/><ellipse cx="115.2" cy="1396.3" rx="8.9" ry="4.4" fill="#f6f0f9" opacity="0.92"/><ellipse cx="59.6" cy="1411.9" rx="3.3" ry="11.1" fill="#f6f0f9" opacity="0.92"/><ellipse cx="72.9" cy="1367.4" rx="3.3" ry="6.7" fill="#f6f0f9" opacity="0.92"/><ellipse cx="121.8" cy="1316.3" rx="5.6" ry="5.6" fill="#f6f0f9" opacity="0.92"/><ellipse cx="190.7" cy="1318.6" rx="4.4" ry="11.1" fill="#f6f0f9" opacity="0.92"/><ellipse cx="208.5" cy="1307.4" rx="3.3" ry="8.9" fill="#f6f0f9" opacity="0.92"/><ellipse cx="224.1" cy="1374.1" rx="4.4" ry="11.1" fill="#f6f0f9" opacity="0.92" transform="rotate(-20 224.1 1374.1)"/><ellipse cx="261.8" cy="1443.0" rx="11.1" ry="3.1" fill="#f6f0f9" opacity="0.92" transform="rotate(30 261.8 1443.0)"/><ellipse cx="279.6" cy="1403.0" rx="2.7" ry="8.9" fill="#f6f0f9" opacity="0.92"/><ellipse cx="312.9" cy="1371.9" rx="2.7" ry="11.1" fill="#f6f0f9" opacity="0.92"/><ellipse cx="326.3" cy="1403.0" rx="2.2" ry="8.9" fill="#f6f0f9" opacity="0.92"/><ellipse cx="204.1" cy="1387.4" rx="4.4" ry="8.9" fill="#f6f0f9" opacity="0.92" transform="rotate(-30 204.1 1387.4)"/><ellipse cx="148.5" cy="1380.8" rx="8.9" ry="3.1" fill="#f6f0f9" opacity="0.92" transform="rotate(40 148.5 1380.8)"/><ellipse cx="95.2" cy="1429.7" rx="4.4" ry="11.1" fill="#f6f0f9" opacity="0.92" transform="rotate(-30 95.2 1429.7)"/><ellipse cx="141.8" cy="1480.8" rx="3.3" ry="8.9" fill="#f6f0f9" opacity="0.92"/><ellipse cx="172.9" cy="1498.6" rx="3.3" ry="13.3" fill="#f6f0f9" opacity="0.92" transform="rotate(-20 172.9 1498.6)"/><ellipse cx="226.3" cy="1458.6" rx="3.3" ry="13.3" fill="#f6f0f9" opacity="0.92"/><ellipse cx="77.4" cy="1327.4" rx="13.3" ry="3.1" fill="#f6f0f9" opacity="0.92" transform="rotate(-45 77.4 1327.4)"/><ellipse cx="248.5" cy="1380.8" rx="2.7" ry="11.1" fill="#f6f0f9" opacity="0.92" transform="rotate(-15 248.5 1380.8)"/><ellipse cx="292.9" cy="1358.6" rx="2.7" ry="11.1" fill="#f6f0f9" opacity="0.92" transform="rotate(-10 292.9 1358.6)"/><ellipse cx="359.6" cy="1380.8" rx="2.7" ry="8.9" fill="#f6f0f9" opacity="0.92"/><ellipse cx="115.2" cy="1458.6" rx="3.1" ry="11.1" fill="#f6f0f9" opacity="0.92" transform="rotate(-30 115.2 1458.6)"/><ellipse cx="61.8" cy="1447.4" rx="6.7" ry="3.1" fill="#f6f0f9" opacity="0.92"/><ellipse cx="164.1" cy="1358.6" rx="3.1" ry="10.0" fill="#f6f0f9" opacity="0.92" transform="rotate(-30 164.1 1358.6)"/><ellipse cx="237.4" cy="1414.1" rx="2.7" ry="8.9" fill="#f6f0f9" opacity="0.92" transform="rotate(-20 237.4 1414.1)"/><ellipse cx="132.9" cy="1409.7" rx="2.7" ry="8.9" fill="#f6f0f9" opacity="0.92" transform="rotate(-35 132.9 1409.7)"/><ellipse cx="104.1" cy="1365.2" rx="2.7" ry="8.9" fill="#f6f0f9" opacity="0.92" transform="rotate(-40 104.1 1365.2)"/><ellipse cx="199.6" cy="1425.2" rx="2.7" ry="10.0" fill="#f6f0f9" opacity="0.92" transform="rotate(-25 199.6 1425.2)"/><ellipse cx="270.7" cy="1425.2" rx="2.2" ry="8.9" fill="#f6f0f9" opacity="0.92" transform="rotate(-15 270.7 1425.2)"/><ellipse cx="84.1" cy="1398.6" rx="2.7" ry="7.8" fill="#f6f0f9" opacity="0.92" transform="rotate(-30 84.1 1398.6)"/><ellipse cx="152.9" cy="1451.9" rx="2.7" ry="8.9" fill="#f6f0f9" opacity="0.92" transform="rotate(-30 152.9 1451.9)"/><ellipse cx="79.6" cy="1467.4" rx="8.0" ry="5.8" fill="#f6f0f9" opacity="0.92"/><ellipse cx="210.7" cy="1347.4" rx="2.7" ry="8.9" fill="#f6f0f9" opacity="0.92" transform="rotate(-20 210.7 1347.4)"/><ellipse cx="335.2" cy="1347.4" rx="2.7" ry="8.9" fill="#f6f0f9" opacity="0.92"/><ellipse cx="381.8" cy="1363.0" rx="2.7" ry="8.9" fill="#f6f0f9" opacity="0.92"/><ellipse cx="299.6" cy="1327.4" rx="8.9" ry="2.2" fill="#f6f0f9" opacity="0.92"/><ellipse cx="326.3" cy="1269.7" rx="2.7" ry="6.7" fill="#f6f0f9" opacity="0.92"/><ellipse cx="204.1" cy="1225.2" rx="6.7" ry="1.8" fill="#f6f0f9" opacity="0.92" transform="rotate(-25 204.1 1225.2)"/><ellipse cx="270.7" cy="1216.3" rx="8.9" ry="1.8" fill="#f6f0f9" opacity="0.92" transform="rotate(-10 270.7 1216.3)"/><ellipse cx="348.5" cy="1229.7" rx="2.7" ry="6.7" fill="#f6f0f9" opacity="0.92"/><ellipse cx="381.8" cy="1220.8" rx="6.7" ry="2.2" fill="#f6f0f9" opacity="0.92"/><ellipse cx="151.4" cy="1348.2" rx="8.5" ry="2.3" fill="#48266c" opacity="0.8" transform="rotate(60.86116810336054 151.4 1348.2)"/><ellipse cx="161.3" cy="1335.4" rx="8.0" ry="2.3" fill="#48266c" opacity="0.8" transform="rotate(58.40749640789726 161.3 1335.4)"/><ellipse cx="91.6" cy="1339.9" rx="7.7" ry="3.1" fill="#48266c" opacity="0.8" transform="rotate(50.97124706759149 91.6 1339.9)"/><ellipse cx="127.8" cy="1413.9" rx="9.6" ry="2.9" fill="#48266c" opacity="0.8" transform="rotate(57.520331391618726 127.8 1413.9)"/><ellipse cx="305.1" cy="1333.9" rx="9.3" ry="2.5" fill="#48266c" opacity="0.8" transform="rotate(51.4621220005785 305.1 1333.9)"/><ellipse cx="102.9" cy="1369.9" rx="9.1" ry="2.4" fill="#48266c" opacity="0.8" transform="rotate(61.95840392789919 102.9 1369.9)"/><ellipse cx="225.7" cy="1378.8" rx="8.2" ry="2.3" fill="#48266c" opacity="0.8" transform="rotate(49.43042807918958 225.7 1378.8)"/><ellipse cx="123.7" cy="1421.2" rx="7.7" ry="2.6" fill="#48266c" opacity="0.8" transform="rotate(62.05348472418333 123.7 1421.2)"/><ellipse cx="181.9" cy="1368.7" rx="9.0" ry="3.0" fill="#48266c" opacity="0.8" transform="rotate(53.858316257331666 181.9 1368.7)"/><ellipse cx="210.5" cy="1399.8" rx="9.3" ry="3.0" fill="#48266c" opacity="0.8" transform="rotate(54.910506357364476 210.5 1399.8)"/><ellipse cx="306.1" cy="1343.7" rx="7.7" ry="3.1" fill="#48266c" opacity="0.8" transform="rotate(51.64762883185212 306.1 1343.7)"/><ellipse cx="190.3" cy="1332.8" rx="8.6" ry="3.1" fill="#48266c" opacity="0.8" transform="rotate(61.752622566657216 190.3 1332.8)"/><ellipse cx="281.4" cy="1370.7" rx="8.7" ry="2.9" fill="#48266c" opacity="0.8" transform="rotate(61.91748490277981 281.4 1370.7)"/><ellipse cx="182.6" cy="1443.2" rx="9.6" ry="2.7" fill="#48266c" opacity="0.8" transform="rotate(63.93965293139219 182.6 1443.2)"/><ellipse cx="89.5" cy="1424.1" rx="8.5" ry="3.3" fill="#48266c" opacity="0.8" transform="rotate(67.72619487863315 89.5 1424.1)"/><ellipse cx="142.2" cy="1380.6" rx="8.6" ry="2.2" fill="#48266c" opacity="0.8" transform="rotate(59.08068687119438 142.2 1380.6)"/><ellipse cx="114.8" cy="1343.6" rx="6.4" ry="3.1" fill="#48266c" opacity="0.8" transform="rotate(51.104165328448424 114.8 1343.6)"/><ellipse cx="133.5" cy="1381.3" rx="9.3" ry="2.3" fill="#48266c" opacity="0.8" transform="rotate(58.78049762278394 133.5 1381.3)"/><ellipse cx="204.6" cy="1449.2" rx="9.1" ry="3.2" fill="#48266c" opacity="0.8" transform="rotate(54.68210554833353 204.6 1449.2)"/><ellipse cx="173.0" cy="1376.9" rx="9.4" ry="3.3" fill="#48266c" opacity="0.8" transform="rotate(51.622101738986615 173.0 1376.9)"/><ellipse cx="116.7" cy="1359.4" rx="7.1" ry="2.8" fill="#48266c" opacity="0.8" transform="rotate(62.13896408957413 116.7 1359.4)"/><ellipse cx="137.1" cy="1328.0" rx="7.7" ry="2.6" fill="#48266c" opacity="0.8" transform="rotate(61.592189368953406 137.1 1328.0)"/><ellipse cx="196.6" cy="1412.5" rx="8.6" ry="2.3" fill="#48266c" opacity="0.8" transform="rotate(69.58879224139085 196.6 1412.5)"/><ellipse cx="263.1" cy="1381.5" rx="7.6" ry="2.3" fill="#48266c" opacity="0.8" transform="rotate(63.22294957645702 263.1 1381.5)"/><ellipse cx="89.8" cy="1336.7" rx="7.0" ry="2.4" fill="#48266c" opacity="0.8" transform="rotate(56.16128765357624 89.8 1336.7)"/><ellipse cx="87.6" cy="1327.5" rx="6.8" ry="2.3" fill="#48266c" opacity="0.8" transform="rotate(56.726638128829705 87.6 1327.5)"/><ellipse cx="81.2" cy="1447.9" rx="8.4" ry="2.4" fill="#48266c" opacity="0.8" transform="rotate(54.054186157369855 81.2 1447.9)"/><ellipse cx="157.0" cy="1377.6" rx="6.7" ry="3.2" fill="#48266c" opacity="0.8" transform="rotate(71.83446532091313 157.0 1377.6)"/><ellipse cx="184.9" cy="1394.1" rx="6.5" ry="2.3" fill="#48266c" opacity="0.8" transform="rotate(56.22326011783204 184.9 1394.1)"/><ellipse cx="137.5" cy="1441.6" rx="6.8" ry="2.2" fill="#48266c" opacity="0.8" transform="rotate(70.82365374899285 137.5 1441.6)"/><ellipse cx="199.6" cy="1347.6" rx="8.2" ry="2.3" fill="#48266c" opacity="0.8" transform="rotate(60.67462658251935 199.6 1347.6)"/><ellipse cx="239.2" cy="1363.4" rx="7.5" ry="2.4" fill="#48266c" opacity="0.8" transform="rotate(66.52650980164876 239.2 1363.4)"/><ellipse cx="200.6" cy="1434.8" rx="7.4" ry="2.5" fill="#48266c" opacity="0.8" transform="rotate(67.47626992256627 200.6 1434.8)"/><ellipse cx="249.4" cy="1358.7" rx="8.1" ry="2.6" fill="#48266c" opacity="0.8" transform="rotate(48.69552361779277 249.4 1358.7)"/><ellipse cx="81.7" cy="1365.9" rx="7.1" ry="3.0" fill="#48266c" opacity="0.8" transform="rotate(70.9563618321921 81.7 1365.9)"/><ellipse cx="180.5" cy="1456.5" rx="9.7" ry="3.3" fill="#48266c" opacity="0.8" transform="rotate(56.751261248684784 180.5 1456.5)"/><ellipse cx="127.1" cy="1358.7" rx="6.9" ry="2.4" fill="#48266c" opacity="0.8" transform="rotate(62.977593538507634 127.1 1358.7)"/><ellipse cx="188.1" cy="1417.4" rx="9.1" ry="2.3" fill="#48266c" opacity="0.8" transform="rotate(63.85405560491746 188.1 1417.4)"/><ellipse cx="251.9" cy="1393.3" rx="6.9" ry="3.1" fill="#48266c" opacity="0.8" transform="rotate(55.98041279675064 251.9 1393.3)"/></g><g filter="url(#bl0_7)"><ellipse cx="60.7" cy="1295.9" rx="2.0" ry="2.0" fill="#3a286c" opacity="0.95"/><ellipse cx="68.1" cy="1292.3" rx="2.0" ry="2.0" fill="#3a286c" opacity="0.95"/><ellipse cx="75.6" cy="1287.9" rx="2.0" ry="2.0" fill="#3a286c" opacity="0.95"/><ellipse cx="81.8" cy="1284.3" rx="2.0" ry="2.0" fill="#3a286c" opacity="0.95"/><ellipse cx="164.1" cy="1219.7" rx="2.9" ry="2.9" fill="#604288" opacity="0.95"/><ellipse cx="167.6" cy="1234.6" rx="2.9" ry="2.9" fill="#604288" opacity="0.95"/><ellipse cx="144.1" cy="1244.8" rx="2.7" ry="2.7" fill="#604288" opacity="0.95"/><ellipse cx="136.3" cy="1227.0" rx="2.7" ry="2.7" fill="#604288" opacity="0.95"/><ellipse cx="152.9" cy="1256.3" rx="2.4" ry="2.4" fill="#604288" opacity="0.95"/><ellipse cx="172.9" cy="1248.6" rx="2.0" ry="2.0" fill="#604288" opacity="0.95"/><ellipse cx="149.6" cy="1225.2" rx="1.6" ry="1.6" fill="#604288" opacity="0.95"/><ellipse cx="146.3" cy="1236.3" rx="1.3" ry="1.3" fill="#604288" opacity="0.95"/><ellipse cx="159.6" cy="1243.0" rx="1.3" ry="1.3" fill="#604288" opacity="0.95"/><ellipse cx="132.9" cy="1259.7" rx="2.0" ry="2.0" fill="#604288" opacity="0.95"/><ellipse cx="110.1" cy="1249.4" rx="2.4" ry="2.0" fill="#3e286c" opacity="0.85" transform="rotate(15.300329397470593 110.1 1249.4)"/><ellipse cx="68.3" cy="1220.5" rx="2.4" ry="2.1" fill="#3e286c" opacity="0.85" transform="rotate(13.155687786948674 68.3 1220.5)"/><ellipse cx="50.7" cy="1315.2" rx="2.2" ry="1.9" fill="#3e286c" opacity="0.85" transform="rotate(84.02623245516841 50.7 1315.2)"/><ellipse cx="116.0" cy="1303.7" rx="2.3" ry="1.7" fill="#3e286c" opacity="0.85" transform="rotate(22.665133022890846 116.0 1303.7)"/><ellipse cx="94.1" cy="1230.8" rx="2.2" ry="1.7" fill="#3e286c" opacity="0.85" transform="rotate(37.71112974790893 94.1 1230.8)"/><ellipse cx="68.9" cy="1308.2" rx="2.0" ry="1.9" fill="#3e286c" opacity="0.85" transform="rotate(52.5013894837665 68.9 1308.2)"/><ellipse cx="189.2" cy="1251.6" rx="2.4" ry="1.9" fill="#3e286c" opacity="0.85" transform="rotate(47.864246619234045 189.2 1251.6)"/><ellipse cx="129.9" cy="1205.2" rx="2.1" ry="1.7" fill="#3e286c" opacity="0.85" transform="rotate(0.3539233643077788 129.9 1205.2)"/><ellipse cx="122.2" cy="1286.8" rx="2.1" ry="1.8" fill="#3e286c" opacity="0.85" transform="rotate(46.65138414327332 122.2 1286.8)"/><ellipse cx="134.9" cy="1293.6" rx="1.8" ry="1.9" fill="#3e286c" opacity="0.85" transform="rotate(22.3644888938781 134.9 1293.6)"/><ellipse cx="91.6" cy="1292.2" rx="2.1" ry="1.9" fill="#3e286c" opacity="0.85" transform="rotate(68.3993828331015 91.6 1292.2)"/><ellipse cx="128.2" cy="1283.0" rx="2.1" ry="1.9" fill="#3e286c" opacity="0.85" transform="rotate(43.023268622887635 128.2 1283.0)"/><ellipse cx="88.9" cy="1267.7" rx="2.4" ry="2.1" fill="#3e286c" opacity="0.85" transform="rotate(12.342099230716633 88.9 1267.7)"/><ellipse cx="67.4" cy="1254.1" rx="1.8" ry="1.7" fill="#3e286c" opacity="0.85" transform="rotate(6.58086902754069 67.4 1254.1)"/><ellipse cx="188.0" cy="1220.8" rx="2.3" ry="2.0" fill="#3e286c" opacity="0.85" transform="rotate(12.868109813181347 188.0 1220.8)"/><ellipse cx="82.7" cy="1313.1" rx="2.0" ry="1.9" fill="#3e286c" opacity="0.85" transform="rotate(89.08843092698578 82.7 1313.1)"/><ellipse cx="178.0" cy="1221.7" rx="2.1" ry="1.9" fill="#3e286c" opacity="0.85" transform="rotate(30.520452990493787 178.0 1221.7)"/><ellipse cx="78.9" cy="1239.8" rx="2.3" ry="1.6" fill="#3e286c" opacity="0.85" transform="rotate(49.86452230274952 78.9 1239.8)"/><ellipse cx="117.0" cy="1205.1" rx="2.0" ry="2.0" fill="#3e286c" opacity="0.85" transform="rotate(46.103605601711 117.0 1205.1)"/><ellipse cx="58.5" cy="1316.8" rx="2.3" ry="2.2" fill="#3e286c" opacity="0.85" transform="rotate(9.430163484554841 58.5 1316.8)"/><ellipse cx="89.8" cy="1207.6" rx="2.3" ry="1.7" fill="#3e286c" opacity="0.85" transform="rotate(11.660000337510958 89.8 1207.6)"/><ellipse cx="114.2" cy="1308.3" rx="2.3" ry="1.7" fill="#3e286c" opacity="0.85" transform="rotate(13.44311526636704 114.2 1308.3)"/><ellipse cx="57.4" cy="1282.5" rx="2.1" ry="1.6" fill="#3e286c" opacity="0.85" transform="rotate(84.45147381361465 57.4 1282.5)"/><ellipse cx="61.5" cy="1301.9" rx="1.8" ry="2.1" fill="#3e286c" opacity="0.85" transform="rotate(40.83961688756324 61.5 1301.9)"/><ellipse cx="101.3" cy="1266.9" rx="2.4" ry="1.7" fill="#3e286c" opacity="0.85" transform="rotate(11.630231990579599 101.3 1266.9)"/><ellipse cx="283.1" cy="1444.2" rx="2.7" ry="2.0" fill="#381a56" opacity="0.8" transform="rotate(45.00797398756555 283.1 1444.2)"/><ellipse cx="260.6" cy="1449.0" rx="2.0" ry="2.0" fill="#381a56" opacity="0.8" transform="rotate(1.3811505709517713 260.6 1449.0)"/><ellipse cx="353.7" cy="1472.1" rx="2.2" ry="2.2" fill="#381a56" opacity="0.8" transform="rotate(84.11785558041184 353.7 1472.1)"/><ellipse cx="248.6" cy="1502.5" rx="2.4" ry="2.2" fill="#381a56" opacity="0.8" transform="rotate(75.11525399972004 248.6 1502.5)"/><ellipse cx="296.7" cy="1467.1" rx="2.6" ry="2.7" fill="#381a56" opacity="0.8" transform="rotate(30.843416287572705 296.7 1467.1)"/><ellipse cx="370.4" cy="1489.8" rx="2.6" ry="2.1" fill="#381a56" opacity="0.8" transform="rotate(31.279696213970883 370.4 1489.8)"/><ellipse cx="242.6" cy="1493.6" rx="2.2" ry="1.9" fill="#381a56" opacity="0.8" transform="rotate(7.603638543713763 242.6 1493.6)"/><ellipse cx="371.9" cy="1508.3" rx="2.6" ry="2.0" fill="#381a56" opacity="0.8" transform="rotate(21.79916405932379 371.9 1508.3)"/><ellipse cx="279.9" cy="1461.7" rx="2.1" ry="2.2" fill="#381a56" opacity="0.8" transform="rotate(23.69187602976502 279.9 1461.7)"/><ellipse cx="392.1" cy="1519.9" rx="2.5" ry="2.0" fill="#381a56" opacity="0.8" transform="rotate(86.91000930529066 392.1 1519.9)"/><ellipse cx="282.7" cy="1450.1" rx="2.0" ry="2.1" fill="#381a56" opacity="0.8" transform="rotate(42.71792646574674 282.7 1450.1)"/><ellipse cx="315.1" cy="1432.4" rx="2.4" ry="1.8" fill="#381a56" opacity="0.8" transform="rotate(23.77518172214914 315.1 1432.4)"/><ellipse cx="245.8" cy="1454.9" rx="2.0" ry="1.8" fill="#381a56" opacity="0.8" transform="rotate(27.382010420190458 245.8 1454.9)"/><ellipse cx="269.8" cy="1476.0" rx="2.5" ry="2.4" fill="#381a56" opacity="0.8" transform="rotate(59.178930598140546 269.8 1476.0)"/><ellipse cx="350.9" cy="1509.3" rx="2.3" ry="2.1" fill="#381a56" opacity="0.8" transform="rotate(88.62561765668666 350.9 1509.3)"/><ellipse cx="255.8" cy="1491.7" rx="2.6" ry="1.8" fill="#381a56" opacity="0.8" transform="rotate(75.17605889105043 255.8 1491.7)"/><ellipse cx="380.4" cy="1480.8" rx="2.7" ry="2.5" fill="#381a56" opacity="0.8" transform="rotate(12.53768490172839 380.4 1480.8)"/><ellipse cx="318.6" cy="1466.8" rx="2.7" ry="2.5" fill="#381a56" opacity="0.8" transform="rotate(74.37682093517822 318.6 1466.8)"/><ellipse cx="328.7" cy="1510.9" rx="2.6" ry="2.4" fill="#381a56" opacity="0.8" transform="rotate(20.694664848284816 328.7 1510.9)"/><ellipse cx="371.0" cy="1473.0" rx="2.6" ry="2.3" fill="#381a56" opacity="0.8" transform="rotate(61.25977584727385 371.0 1473.0)"/><ellipse cx="312.8" cy="1410.0" rx="2.7" ry="2.4" fill="#381a56" opacity="0.8" transform="rotate(45.26739471262084 312.8 1410.0)"/><ellipse cx="320.5" cy="1484.4" rx="2.1" ry="2.4" fill="#381a56" opacity="0.8" transform="rotate(22.697417831642106 320.5 1484.4)"/><ellipse cx="353.1" cy="1432.9" rx="2.7" ry="2.6" fill="#381a56" opacity="0.8" transform="rotate(44.45539009643951 353.1 1432.9)"/><ellipse cx="294.9" cy="1464.0" rx="2.6" ry="2.5" fill="#381a56" opacity="0.8" transform="rotate(55.52766142004248 294.9 1464.0)"/><ellipse cx="338.6" cy="1418.4" rx="2.1" ry="2.0" fill="#381a56" opacity="0.8" transform="rotate(66.88955316215615 338.6 1418.4)"/><ellipse cx="281.8" cy="1474.0" rx="2.0" ry="1.8" fill="#381a56" opacity="0.8" transform="rotate(24.189548921032323 281.8 1474.0)"/><ellipse cx="343.5" cy="1488.1" rx="2.6" ry="2.0" fill="#381a56" opacity="0.8" transform="rotate(46.48821246399669 343.5 1488.1)"/><ellipse cx="308.7" cy="1462.5" rx="2.1" ry="2.6" fill="#381a56" opacity="0.8" transform="rotate(17.93250268735527 308.7 1462.5)"/><ellipse cx="394.8" cy="1515.8" rx="2.0" ry="2.2" fill="#381a56" opacity="0.8" transform="rotate(73.79079234298814 394.8 1515.8)"/><ellipse cx="393.1" cy="1460.6" rx="2.2" ry="2.0" fill="#381a56" opacity="0.8" transform="rotate(85.10285492053809 393.1 1460.6)"/><ellipse cx="266.1" cy="1475.6" rx="2.1" ry="2.2" fill="#381a56" opacity="0.8" transform="rotate(85.74663029879198 266.1 1475.6)"/><ellipse cx="253.0" cy="1502.6" rx="2.5" ry="2.6" fill="#381a56" opacity="0.8" transform="rotate(63.300333491466695 253.0 1502.6)"/><ellipse cx="269.5" cy="1511.4" rx="2.4" ry="1.8" fill="#381a56" opacity="0.8" transform="rotate(0.32314245027572297 269.5 1511.4)"/><ellipse cx="313.2" cy="1460.8" rx="2.3" ry="1.9" fill="#381a56" opacity="0.8" transform="rotate(30.956413178515085 313.2 1460.8)"/><ellipse cx="283.8" cy="1504.9" rx="2.0" ry="2.4" fill="#381a56" opacity="0.8" transform="rotate(75.51997151854157 283.8 1504.9)"/><ellipse cx="250.9" cy="1514.7" rx="2.6" ry="2.6" fill="#381a56" opacity="0.8" transform="rotate(26.084966307797277 250.9 1514.7)"/><ellipse cx="293.2" cy="1454.2" rx="2.9" ry="2.3" fill="#381a56" opacity="0.8" transform="rotate(32.46383915310646 293.2 1454.2)"/><ellipse cx="302.5" cy="1440.9" rx="2.0" ry="1.9" fill="#381a56" opacity="0.8" transform="rotate(75.12083954794731 302.5 1440.9)"/><ellipse cx="278.6" cy="1515.7" rx="2.2" ry="2.0" fill="#381a56" opacity="0.8" transform="rotate(45.98666890266629 278.6 1515.7)"/><ellipse cx="262.6" cy="1452.0" rx="2.8" ry="2.6" fill="#381a56" opacity="0.8" transform="rotate(73.0766040723695 262.6 1452.0)"/><ellipse cx="336.6" cy="1513.2" rx="2.8" ry="2.3" fill="#381a56" opacity="0.8" transform="rotate(64.76153237560332 336.6 1513.2)"/><ellipse cx="239.0" cy="1492.7" rx="2.4" ry="2.4" fill="#381a56" opacity="0.8" transform="rotate(58.004163937666235 239.0 1492.7)"/><ellipse cx="386.2" cy="1424.1" rx="2.4" ry="2.1" fill="#381a56" opacity="0.8" transform="rotate(26.799467899030816 386.2 1424.1)"/><ellipse cx="354.7" cy="1520.3" rx="2.2" ry="2.4" fill="#381a56" opacity="0.8" transform="rotate(27.07526619349704 354.7 1520.3)"/><ellipse cx="324.2" cy="1454.4" rx="2.1" ry="1.9" fill="#381a56" opacity="0.8" transform="rotate(18.708526902306303 324.2 1454.4)"/><ellipse cx="382.7" cy="1466.0" rx="2.2" ry="2.6" fill="#381a56" opacity="0.8" transform="rotate(89.68276022622219 382.7 1466.0)"/><ellipse cx="306.2" cy="1425.5" rx="2.2" ry="1.9" fill="#381a56" opacity="0.8" transform="rotate(30.775971040343247 306.2 1425.5)"/><ellipse cx="274.1" cy="1474.2" rx="2.8" ry="2.4" fill="#381a56" opacity="0.8" transform="rotate(37.15034927767075 274.1 1474.2)"/><ellipse cx="300.2" cy="1469.1" rx="2.3" ry="2.1" fill="#381a56" opacity="0.8" transform="rotate(5.585356614240485 300.2 1469.1)"/><ellipse cx="277.3" cy="1519.3" rx="2.1" ry="2.2" fill="#381a56" opacity="0.8" transform="rotate(56.666421526134535 277.3 1519.3)"/><ellipse cx="375.5" cy="1434.1" rx="2.2" ry="2.0" fill="#381a56" opacity="0.8" transform="rotate(35.97814230711202 375.5 1434.1)"/><ellipse cx="305.5" cy="1517.8" rx="2.8" ry="2.6" fill="#381a56" opacity="0.8" transform="rotate(1.9629459191279996 305.5 1517.8)"/><ellipse cx="236.1" cy="1490.1" rx="2.8" ry="2.2" fill="#381a56" opacity="0.8" transform="rotate(52.845884144933464 236.1 1490.1)"/><ellipse cx="230.8" cy="1454.0" rx="2.8" ry="2.5" fill="#381a56" opacity="0.8" transform="rotate(76.99164064328095 230.8 1454.0)"/><ellipse cx="393.8" cy="1437.8" rx="2.1" ry="1.9" fill="#381a56" opacity="0.8" transform="rotate(47.01290464006272 393.8 1437.8)"/><ellipse cx="345.2" cy="1516.4" rx="2.6" ry="2.4" fill="#381a56" opacity="0.8" transform="rotate(68.83204929932818 345.2 1516.4)"/><ellipse cx="307.5" cy="1472.2" rx="2.0" ry="2.5" fill="#381a56" opacity="0.8" transform="rotate(20.931914607021252 307.5 1472.2)"/><ellipse cx="385.1" cy="1482.8" rx="2.3" ry="1.9" fill="#381a56" opacity="0.8" transform="rotate(22.661455255320536 385.1 1482.8)"/><ellipse cx="337.5" cy="1488.8" rx="2.1" ry="1.8" fill="#381a56" opacity="0.8" transform="rotate(47.19930138378323 337.5 1488.8)"/><ellipse cx="328.5" cy="1453.6" rx="2.2" ry="2.3" fill="#381a56" opacity="0.8" transform="rotate(0.9415475902920101 328.5 1453.6)"/><ellipse cx="281.3" cy="1461.9" rx="2.9" ry="2.4" fill="#381a56" opacity="0.8" transform="rotate(79.53966261306542 281.3 1461.9)"/><ellipse cx="310.5" cy="1436.3" rx="2.2" ry="2.6" fill="#381a56" opacity="0.8" transform="rotate(63.4188296531774 310.5 1436.3)"/><ellipse cx="314.3" cy="1486.1" rx="2.4" ry="2.0" fill="#381a56" opacity="0.8" transform="rotate(60.06195439539116 314.3 1486.1)"/><ellipse cx="385.9" cy="1435.4" rx="2.0" ry="2.1" fill="#381a56" opacity="0.8" transform="rotate(37.850116138225715 385.9 1435.4)"/><ellipse cx="345.2" cy="1432.1" rx="2.7" ry="2.4" fill="#381a56" opacity="0.8" transform="rotate(45.43905486217827 345.2 1432.1)"/><ellipse cx="265.2" cy="1519.6" rx="2.3" ry="2.5" fill="#381a56" opacity="0.8" transform="rotate(20.772793157847723 265.2 1519.6)"/><ellipse cx="267.9" cy="1495.9" rx="2.3" ry="2.6" fill="#381a56" opacity="0.8" transform="rotate(44.61882565102612 267.9 1495.9)"/><ellipse cx="300.7" cy="1485.1" rx="2.8" ry="1.9" fill="#381a56" opacity="0.8" transform="rotate(35.4113978512008 300.7 1485.1)"/><ellipse cx="266.5" cy="1520.1" rx="2.1" ry="1.8" fill="#381a56" opacity="0.8" transform="rotate(5.412172873090456 266.5 1520.1)"/><ellipse cx="296.7" cy="1511.5" rx="2.8" ry="2.4" fill="#381a56" opacity="0.8" transform="rotate(89.77768247680744 296.7 1511.5)"/><ellipse cx="387.0" cy="1447.0" rx="2.2" ry="2.6" fill="#381a56" opacity="0.8" transform="rotate(67.16775977675188 387.0 1447.0)"/><ellipse cx="236.1" cy="1485.0" rx="2.3" ry="2.1" fill="#381a56" opacity="0.8" transform="rotate(29.85277406736585 236.1 1485.0)"/><ellipse cx="277.7" cy="1449.5" rx="2.8" ry="1.9" fill="#381a56" opacity="0.8" transform="rotate(86.78440942088102 277.7 1449.5)"/><ellipse cx="265.5" cy="1450.1" rx="2.7" ry="2.5" fill="#381a56" opacity="0.8" transform="rotate(38.92044006212371 265.5 1450.1)"/><ellipse cx="239.0" cy="1463.3" rx="2.3" ry="2.6" fill="#381a56" opacity="0.8" transform="rotate(17.372356870009202 239.0 1463.3)"/><ellipse cx="291.8" cy="1511.3" rx="2.0" ry="2.1" fill="#381a56" opacity="0.8" transform="rotate(73.06420748149415 291.8 1511.3)"/><ellipse cx="359.4" cy="1414.3" rx="2.0" ry="1.8" fill="#381a56" opacity="0.8" transform="rotate(82.80690487906598 359.4 1414.3)"/><ellipse cx="273.8" cy="1494.4" rx="2.8" ry="2.1" fill="#381a56" opacity="0.8" transform="rotate(24.50831964721815 273.8 1494.4)"/><ellipse cx="391.4" cy="1479.6" rx="2.2" ry="2.4" fill="#381a56" opacity="0.8" transform="rotate(28.483526804898133 391.4 1479.6)"/><ellipse cx="357.5" cy="1513.5" rx="2.6" ry="2.6" fill="#381a56" opacity="0.8" transform="rotate(2.183103444737559 357.5 1513.5)"/><ellipse cx="270.0" cy="1463.5" rx="2.9" ry="2.6" fill="#381a56" opacity="0.8" transform="rotate(34.786330991103476 270.0 1463.5)"/><ellipse cx="272.8" cy="1458.4" rx="2.4" ry="2.6" fill="#381a56" opacity="0.8" transform="rotate(16.4645308314522 272.8 1458.4)"/><ellipse cx="365.4" cy="1493.4" rx="2.7" ry="2.5" fill="#381a56" opacity="0.8" transform="rotate(54.65288081208486 365.4 1493.4)"/><ellipse cx="285.7" cy="1445.9" rx="2.3" ry="2.5" fill="#381a56" opacity="0.8" transform="rotate(7.11133842222117 285.7 1445.9)"/><ellipse cx="263.8" cy="1495.0" rx="2.2" ry="1.8" fill="#381a56" opacity="0.8" transform="rotate(3.0477347474701033 263.8 1495.0)"/><ellipse cx="323.4" cy="1446.6" rx="2.9" ry="2.6" fill="#381a56" opacity="0.8" transform="rotate(88.90414466332535 323.4 1446.6)"/><ellipse cx="246.9" cy="1466.2" rx="2.6" ry="2.2" fill="#381a56" opacity="0.8" transform="rotate(21.077666893331738 246.9 1466.2)"/><ellipse cx="300.7" cy="1480.0" rx="2.6" ry="2.4" fill="#381a56" opacity="0.8" transform="rotate(76.22883669770238 300.7 1480.0)"/><ellipse cx="342.2" cy="1423.4" rx="2.7" ry="2.0" fill="#381a56" opacity="0.8" transform="rotate(51.019578606560295 342.2 1423.4)"/><ellipse cx="293.3" cy="1493.3" rx="2.2" ry="2.0" fill="#381a56" opacity="0.8" transform="rotate(22.08062672015548 293.3 1493.3)"/><ellipse cx="256.4" cy="1509.9" rx="2.5" ry="2.1" fill="#381a56" opacity="0.8" transform="rotate(35.64626360422996 256.4 1509.9)"/><ellipse cx="397.2" cy="1467.2" rx="2.2" ry="2.5" fill="#381a56" opacity="0.8" transform="rotate(58.799389688316076 397.2 1467.2)"/><ellipse cx="397.0" cy="1421.3" rx="2.4" ry="2.5" fill="#381a56" opacity="0.8" transform="rotate(75.65007277091401 397.0 1421.3)"/><ellipse cx="384.1" cy="1414.2" rx="2.3" ry="1.9" fill="#381a56" opacity="0.8" transform="rotate(17.061586261126376 384.1 1414.2)"/><ellipse cx="394.0" cy="1475.8" rx="2.8" ry="2.1" fill="#381a56" opacity="0.8" transform="rotate(77.95145955680542 394.0 1475.8)"/><ellipse cx="306.1" cy="1439.1" rx="2.7" ry="2.6" fill="#381a56" opacity="0.8" transform="rotate(9.52020561226573 306.1 1439.1)"/><ellipse cx="330.7" cy="1479.9" rx="2.2" ry="2.1" fill="#381a56" opacity="0.8" transform="rotate(12.723253622464737 330.7 1479.9)"/></g></g><rect x="221.9" y="1229.2" width="115.7" height="110.4" fill="none" stroke="#f7ea18" stroke-width="3.8"/><rect x="236.0" y="1492.7" width="142.7" height="6.6" fill="#ffffff"/></g>
<g clip-path="url(#cpB4)"><g filter="url(#fB4)"><rect x="420.4" y="1201" width="357.6" height="324.0" fill="#878787"/><g filter="url(#bl5)"><ellipse cx="561.8" cy="1297.4" rx="36.4" ry="26.3" fill="#bfbfbf" opacity="0.9"/><ellipse cx="606.7" cy="1254.7" rx="14.2" ry="16.2" fill="#cccccc" opacity="0.9"/><ellipse cx="644.9" cy="1245.7" rx="16.2" ry="20.2" fill="#cccccc" opacity="0.9"/><ellipse cx="687.6" cy="1277.2" rx="18.2" ry="24.3" fill="#bfbfbf" opacity="0.9"/><ellipse cx="519.1" cy="1319.9" rx="16.2" ry="12.1" fill="#bababa" opacity="0.9"/><ellipse cx="456.1" cy="1427.8" rx="26.3" ry="24.3" fill="#ababab" opacity="0.9"/><ellipse cx="489.8" cy="1479.5" rx="26.3" ry="20.2" fill="#bfbfbf" opacity="0.9"/><ellipse cx="613.5" cy="1430.0" rx="22.3" ry="16.2" fill="#bfbfbf" opacity="0.9"/><ellipse cx="617.9" cy="1472.7" rx="16.2" ry="26.3" fill="#cccccc" opacity="0.9"/><ellipse cx="566.3" cy="1501.9" rx="20.2" ry="12.1" fill="#bfbfbf" opacity="0.9"/><ellipse cx="743.8" cy="1405.3" rx="12.1" ry="30.3" fill="#bfbfbf" opacity="0.9"/><ellipse cx="755.1" cy="1322.1" rx="14.2" ry="20.2" fill="#c4c4c4" opacity="0.9"/><ellipse cx="759.6" cy="1513.2" rx="16.2" ry="8.1" fill="#cccccc" opacity="0.9"/><ellipse cx="435.9" cy="1394.1" rx="8.1" ry="12.1" fill="#bfbfbf" opacity="0.9"/><ellipse cx="712.4" cy="1236.7" rx="6.1" ry="20.2" fill="#b2b2b2" opacity="0.9"/><ellipse cx="759.6" cy="1259.2" rx="6.1" ry="30.3" fill="#ababab" opacity="0.9"/><ellipse cx="656.2" cy="1319.9" rx="8.1" ry="10.1" fill="#b2b2b2" opacity="0.9"/><ellipse cx="534.8" cy="1369.3" rx="6.1" ry="12.1" fill="#b2b2b2" opacity="0.9"/><ellipse cx="575.2" cy="1337.9" rx="12.1" ry="6.1" fill="#a6a6a6" opacity="0.9"/><ellipse cx="471.8" cy="1241.2" rx="8.1" ry="12.1" fill="#999999" opacity="0.9"/><ellipse cx="701.1" cy="1427.8" rx="12.1" ry="8.1" fill="#a6a6a6" opacity="0.9"/><ellipse cx="676.4" cy="1484.0" rx="10.1" ry="10.1" fill="#a6a6a6" opacity="0.9"/><ellipse cx="440.4" cy="1457.0" rx="10.1" ry="10.1" fill="#d4d4d4" opacity="0.9"/><ellipse cx="714.6" cy="1378.3" rx="16.2" ry="8.1" fill="#999999" opacity="0.9"/><ellipse cx="579.7" cy="1427.8" rx="12.1" ry="6.1" fill="#a6a6a6" opacity="0.9"/><ellipse cx="456.1" cy="1270.4" rx="33.7" ry="13.5" fill="#5c5c5c" opacity="0.85" transform="rotate(-20 456.1 1270.4)"/><ellipse cx="647.2" cy="1378.3" rx="45.0" ry="11.2" fill="#666666" opacity="0.85" transform="rotate(10 647.2 1378.3)"/><ellipse cx="602.2" cy="1328.9" rx="33.7" ry="9.0" fill="#5c5c5c" opacity="0.85"/><ellipse cx="507.8" cy="1445.8" rx="27.0" ry="15.7" fill="#4c4c4c" opacity="0.85"/><ellipse cx="692.1" cy="1310.9" rx="22.5" ry="13.5" fill="#525252" opacity="0.85"/><ellipse cx="478.6" cy="1360.3" rx="18.0" ry="33.7" fill="#666666" opacity="0.85"/></g><g filter="url(#bl1_5)"><ellipse cx="438.1" cy="1236.7" rx="20.2" ry="18.0" fill="#292929" opacity="0.92" stroke="#0f0f0f" stroke-width="1.6"/><ellipse cx="512.3" cy="1207.5" rx="13.5" ry="5.6" fill="#242424" opacity="0.92" stroke="#0a0a0a" stroke-width="1.6"/><ellipse cx="528.0" cy="1241.2" rx="29.2" ry="24.7" fill="#424242" opacity="0.92" transform="rotate(-30 528.0 1241.2)" stroke="#292929" stroke-width="1.6"/><ellipse cx="584.2" cy="1221.0" rx="20.2" ry="11.2" fill="#383838" opacity="0.92" stroke="#1f1f1f" stroke-width="1.6"/><ellipse cx="615.7" cy="1234.5" rx="9.0" ry="13.5" fill="#383838" opacity="0.92" stroke="#1f1f1f" stroke-width="1.6"/><ellipse cx="693.2" cy="1234.5" rx="15.7" ry="19.1" fill="#303030" opacity="0.92" stroke="#171717" stroke-width="1.6"/><ellipse cx="732.6" cy="1225.5" rx="16.9" ry="19.1" fill="#575757" opacity="0.92" stroke="#3d3d3d" stroke-width="1.6"/><ellipse cx="734.8" cy="1279.4" rx="19.1" ry="23.6" fill="#3d3d3d" opacity="0.92" stroke="#242424" stroke-width="1.6"/><ellipse cx="773.0" cy="1277.2" rx="6.7" ry="15.7" fill="#4a4a4a" opacity="0.92" stroke="#303030" stroke-width="1.6"/><ellipse cx="510.1" cy="1304.1" rx="14.6" ry="15.7" fill="#424242" opacity="0.92" stroke="#292929" stroke-width="1.6"/><ellipse cx="633.7" cy="1308.6" rx="15.7" ry="15.7" fill="#1f1f1f" opacity="0.92" stroke="#050505" stroke-width="1.6"/><ellipse cx="433.6" cy="1286.2" rx="11.2" ry="13.5" fill="#3d3d3d" opacity="0.92" stroke="#242424" stroke-width="1.6"/><ellipse cx="649.4" cy="1277.2" rx="18.0" ry="13.5" fill="#575757" opacity="0.92" stroke="#3d3d3d" stroke-width="1.6"/><ellipse cx="692.1" cy="1349.1" rx="33.7" ry="18.0" fill="#292929" opacity="0.92" transform="rotate(-15 692.1 1349.1)" stroke="#0f0f0f" stroke-width="1.6"/><ellipse cx="505.6" cy="1367.1" rx="20.2" ry="24.7" fill="#292929" opacity="0.92" stroke="#0f0f0f" stroke-width="1.6"/><ellipse cx="550.5" cy="1355.8" rx="15.7" ry="13.5" fill="#3d3d3d" opacity="0.92" stroke="#242424" stroke-width="1.6"/><ellipse cx="557.3" cy="1380.6" rx="18.0" ry="11.2" fill="#292929" opacity="0.92" stroke="#0f0f0f" stroke-width="1.6"/><ellipse cx="595.5" cy="1364.8" rx="15.7" ry="18.0" fill="#575757" opacity="0.92" stroke="#3d3d3d" stroke-width="1.6"/><ellipse cx="465.1" cy="1398.5" rx="22.5" ry="15.7" fill="#303030" opacity="0.92" transform="rotate(40 465.1 1398.5)" stroke="#171717" stroke-width="1.6"/><ellipse cx="548.3" cy="1412.0" rx="38.2" ry="18.0" fill="#292929" opacity="0.92" stroke="#0f0f0f" stroke-width="1.6"/><ellipse cx="444.9" cy="1346.9" rx="18.0" ry="13.5" fill="#4a4a4a" opacity="0.92" stroke="#303030" stroke-width="1.6"/><ellipse cx="474.1" cy="1328.9" rx="13.5" ry="9.0" fill="#3d3d3d" opacity="0.92" stroke="#242424" stroke-width="1.6"/><ellipse cx="712.4" cy="1409.8" rx="13.5" ry="20.2" fill="#242424" opacity="0.92" transform="rotate(15 712.4 1409.8)" stroke="#0a0a0a" stroke-width="1.6"/><ellipse cx="674.1" cy="1418.8" rx="11.2" ry="27.0" fill="#383838" opacity="0.92" transform="rotate(-10 674.1 1418.8)" stroke="#1f1f1f" stroke-width="1.6"/><ellipse cx="757.3" cy="1432.3" rx="15.7" ry="20.2" fill="#303030" opacity="0.92" stroke="#171717" stroke-width="1.6"/><ellipse cx="730.3" cy="1466.0" rx="19.1" ry="18.0" fill="#525252" opacity="0.92" stroke="#383838" stroke-width="1.6"/><ellipse cx="644.9" cy="1452.5" rx="15.7" ry="20.2" fill="#575757" opacity="0.92" transform="rotate(-20 644.9 1452.5)" stroke="#3d3d3d" stroke-width="1.6"/><ellipse cx="570.7" cy="1452.5" rx="12.4" ry="13.5" fill="#4a4a4a" opacity="0.92" stroke="#303030" stroke-width="1.6"/><ellipse cx="595.5" cy="1461.5" rx="5.6" ry="18.0" fill="#1f1f1f" opacity="0.92" transform="rotate(-15 595.5 1461.5)" stroke="#050505" stroke-width="1.6"/><ellipse cx="537.0" cy="1484.0" rx="21.4" ry="19.1" fill="#636363" opacity="0.92" stroke="#4a4a4a" stroke-width="1.6"/><ellipse cx="433.6" cy="1501.9" rx="13.5" ry="22.5" fill="#424242" opacity="0.92" stroke="#292929" stroke-width="1.6"/><ellipse cx="685.4" cy="1501.9" rx="18.0" ry="18.0" fill="#4a4a4a" opacity="0.92" stroke="#303030" stroke-width="1.6"/><ellipse cx="755.1" cy="1497.4" rx="20.2" ry="5.6" fill="#1a1a1a" opacity="0.92" transform="rotate(-25 755.1 1497.4)" stroke="#000000" stroke-width="1.6"/><ellipse cx="631.4" cy="1510.9" rx="22.5" ry="11.2" fill="#4a4a4a" opacity="0.92" stroke="#303030" stroke-width="1.6"/><ellipse cx="561.8" cy="1519.9" rx="9.0" ry="4.5" fill="#303030" opacity="0.92" stroke="#171717" stroke-width="1.6"/><ellipse cx="467.4" cy="1510.9" rx="18.0" ry="11.2" fill="#575757" opacity="0.92" stroke="#3d3d3d" stroke-width="1.6"/><ellipse cx="759.6" cy="1364.8" rx="15.7" ry="11.2" fill="#424242" opacity="0.92" stroke="#292929" stroke-width="1.6"/></g><g filter="url(#bl1)"><ellipse cx="442.6" cy="1239.3" rx="2.1" ry="2.5" fill="#050505" opacity="0.9" transform="rotate(39 442.6 1239.3)"/><ellipse cx="517.8" cy="1240.6" rx="2.7" ry="2.4" fill="#1f1f1f" opacity="0.9" transform="rotate(55 517.8 1240.6)"/><ellipse cx="516.1" cy="1238.0" rx="3.2" ry="3.3" fill="#1f1f1f" opacity="0.9" transform="rotate(47 516.1 1238.0)"/><ellipse cx="574.0" cy="1220.9" rx="3.2" ry="3.1" fill="#141414" opacity="0.9" transform="rotate(40 574.0 1220.9)"/><ellipse cx="589.2" cy="1219.2" rx="3.2" ry="2.8" fill="#141414" opacity="0.9" transform="rotate(22 589.2 1219.2)"/><ellipse cx="584.4" cy="1222.2" rx="2.3" ry="2.0" fill="#141414" opacity="0.9" transform="rotate(65 584.4 1222.2)"/><ellipse cx="699.6" cy="1234.4" rx="2.1" ry="2.6" fill="#0d0d0d" opacity="0.9" transform="rotate(53 699.6 1234.4)"/><ellipse cx="692.5" cy="1224.8" rx="3.0" ry="3.6" fill="#0d0d0d" opacity="0.9" transform="rotate(45 692.5 1224.8)"/><ellipse cx="741.5" cy="1224.3" rx="2.1" ry="2.4" fill="#333333" opacity="0.9" transform="rotate(59 741.5 1224.3)"/><ellipse cx="730.6" cy="1222.1" rx="2.2" ry="2.4" fill="#333333" opacity="0.9" transform="rotate(65 730.6 1222.1)"/><ellipse cx="731.8" cy="1273.3" rx="3.2" ry="3.2" fill="#1a1a1a" opacity="0.9" transform="rotate(71 731.8 1273.3)"/><ellipse cx="733.8" cy="1272.0" rx="2.2" ry="2.1" fill="#1a1a1a" opacity="0.9" transform="rotate(89 733.8 1272.0)"/><ellipse cx="514.0" cy="1300.0" rx="3.0" ry="3.2" fill="#1f1f1f" opacity="0.9" transform="rotate(38 514.0 1300.0)"/><ellipse cx="515.9" cy="1302.4" rx="2.6" ry="2.8" fill="#1f1f1f" opacity="0.9" transform="rotate(83 515.9 1302.4)"/><ellipse cx="632.5" cy="1311.5" rx="2.6" ry="3.3" fill="#000000" opacity="0.9" transform="rotate(79 632.5 1311.5)"/><ellipse cx="638.9" cy="1303.8" rx="2.3" ry="1.9" fill="#000000" opacity="0.9" transform="rotate(24 638.9 1303.8)"/><ellipse cx="636.0" cy="1308.6" rx="2.7" ry="2.2" fill="#000000" opacity="0.9" transform="rotate(75 636.0 1308.6)"/><ellipse cx="431.3" cy="1279.9" rx="3.0" ry="2.6" fill="#1a1a1a" opacity="0.9" transform="rotate(34 431.3 1279.9)"/><ellipse cx="433.7" cy="1288.8" rx="3.2" ry="3.2" fill="#1a1a1a" opacity="0.9" transform="rotate(4 433.7 1288.8)"/><ellipse cx="647.3" cy="1279.0" rx="2.9" ry="2.4" fill="#333333" opacity="0.9" transform="rotate(8 647.3 1279.0)"/><ellipse cx="708.9" cy="1347.0" rx="2.4" ry="2.1" fill="#050505" opacity="0.9" transform="rotate(20 708.9 1347.0)"/><ellipse cx="503.5" cy="1366.7" rx="2.7" ry="3.3" fill="#050505" opacity="0.9" transform="rotate(31 503.5 1366.7)"/><ellipse cx="506.9" cy="1369.4" rx="2.4" ry="2.6" fill="#050505" opacity="0.9" transform="rotate(14 506.9 1369.4)"/><ellipse cx="549.6" cy="1357.2" rx="2.5" ry="3.0" fill="#1a1a1a" opacity="0.9" transform="rotate(5 549.6 1357.2)"/><ellipse cx="556.2" cy="1352.4" rx="3.2" ry="3.7" fill="#1a1a1a" opacity="0.9" transform="rotate(60 556.2 1352.4)"/><ellipse cx="563.4" cy="1383.1" rx="3.1" ry="2.6" fill="#050505" opacity="0.9" transform="rotate(16 563.4 1383.1)"/><ellipse cx="549.2" cy="1380.0" rx="2.6" ry="2.5" fill="#050505" opacity="0.9" transform="rotate(43 549.2 1380.0)"/><ellipse cx="594.8" cy="1374.5" rx="2.8" ry="3.3" fill="#333333" opacity="0.9" transform="rotate(17 594.8 1374.5)"/><ellipse cx="593.9" cy="1361.5" rx="2.0" ry="1.8" fill="#333333" opacity="0.9" transform="rotate(58 593.9 1361.5)"/><ellipse cx="456.1" cy="1390.4" rx="3.3" ry="4.3" fill="#0d0d0d" opacity="0.9" transform="rotate(29 456.1 1390.4)"/><ellipse cx="465.9" cy="1396.6" rx="1.9" ry="1.8" fill="#0d0d0d" opacity="0.9" transform="rotate(79 465.9 1396.6)"/><ellipse cx="547.8" cy="1417.3" rx="2.6" ry="2.1" fill="#050505" opacity="0.9" transform="rotate(4 547.8 1417.3)"/><ellipse cx="543.3" cy="1414.1" rx="2.6" ry="2.2" fill="#050505" opacity="0.9" transform="rotate(13 543.3 1414.1)"/><ellipse cx="452.7" cy="1347.6" rx="2.0" ry="1.6" fill="#262626" opacity="0.9" transform="rotate(85 452.7 1347.6)"/><ellipse cx="707.6" cy="1410.6" rx="2.4" ry="2.8" fill="#000000" opacity="0.9" transform="rotate(26 707.6 1410.6)"/><ellipse cx="713.4" cy="1403.9" rx="2.6" ry="2.9" fill="#000000" opacity="0.9" transform="rotate(6 713.4 1403.9)"/><ellipse cx="719.2" cy="1404.3" rx="2.7" ry="3.4" fill="#000000" opacity="0.9" transform="rotate(84 719.2 1404.3)"/><ellipse cx="672.8" cy="1425.8" rx="3.3" ry="3.6" fill="#141414" opacity="0.9" transform="rotate(37 672.8 1425.8)"/><ellipse cx="669.8" cy="1406.3" rx="2.3" ry="2.8" fill="#141414" opacity="0.9" transform="rotate(52 669.8 1406.3)"/><ellipse cx="676.9" cy="1422.2" rx="3.1" ry="3.6" fill="#141414" opacity="0.9" transform="rotate(2 676.9 1422.2)"/><ellipse cx="763.0" cy="1435.1" rx="2.5" ry="3.2" fill="#0d0d0d" opacity="0.9" transform="rotate(78 763.0 1435.1)"/><ellipse cx="760.5" cy="1434.3" rx="2.4" ry="3.0" fill="#0d0d0d" opacity="0.9" transform="rotate(9 760.5 1434.3)"/><ellipse cx="758.3" cy="1438.6" rx="2.0" ry="2.0" fill="#0d0d0d" opacity="0.9" transform="rotate(59 758.3 1438.6)"/><ellipse cx="730.5" cy="1461.0" rx="2.0" ry="1.7" fill="#2e2e2e" opacity="0.9" transform="rotate(10 730.5 1461.0)"/><ellipse cx="726.8" cy="1463.0" rx="2.4" ry="2.2" fill="#2e2e2e" opacity="0.9" transform="rotate(13 726.8 1463.0)"/><ellipse cx="640.1" cy="1449.7" rx="1.9" ry="2.2" fill="#333333" opacity="0.9" transform="rotate(37 640.1 1449.7)"/><ellipse cx="572.7" cy="1451.9" rx="2.4" ry="2.5" fill="#262626" opacity="0.9" transform="rotate(61 572.7 1451.9)"/><ellipse cx="569.7" cy="1446.8" rx="2.5" ry="2.6" fill="#262626" opacity="0.9" transform="rotate(87 569.7 1446.8)"/><ellipse cx="534.2" cy="1486.0" rx="2.8" ry="3.0" fill="#404040" opacity="0.9" transform="rotate(89 534.2 1486.0)"/><ellipse cx="532.3" cy="1475.1" rx="2.7" ry="3.3" fill="#404040" opacity="0.9" transform="rotate(12 532.3 1475.1)"/><ellipse cx="429.1" cy="1511.6" rx="2.0" ry="2.1" fill="#1f1f1f" opacity="0.9" transform="rotate(8 429.1 1511.6)"/><ellipse cx="691.6" cy="1498.1" rx="3.1" ry="2.5" fill="#262626" opacity="0.9" transform="rotate(37 691.6 1498.1)"/><ellipse cx="632.5" cy="1515.4" rx="2.9" ry="2.9" fill="#262626" opacity="0.9" transform="rotate(67 632.5 1515.4)"/><ellipse cx="630.6" cy="1512.8" rx="3.4" ry="4.3" fill="#262626" opacity="0.9" transform="rotate(54 630.6 1512.8)"/><ellipse cx="637.6" cy="1513.1" rx="2.9" ry="2.7" fill="#262626" opacity="0.9" transform="rotate(20 637.6 1513.1)"/><ellipse cx="470.8" cy="1510.2" rx="3.2" ry="3.1" fill="#333333" opacity="0.9" transform="rotate(73 470.8 1510.2)"/><ellipse cx="466.6" cy="1507.5" rx="3.0" ry="3.6" fill="#333333" opacity="0.9" transform="rotate(49 466.6 1507.5)"/><ellipse cx="469.8" cy="1509.6" rx="2.6" ry="2.7" fill="#333333" opacity="0.9" transform="rotate(51 469.8 1509.6)"/><ellipse cx="757.5" cy="1359.2" rx="2.9" ry="3.0" fill="#1f1f1f" opacity="0.9" transform="rotate(70 757.5 1359.2)"/><ellipse cx="756.2" cy="1369.1" rx="2.9" ry="3.4" fill="#1f1f1f" opacity="0.9" transform="rotate(28 756.2 1369.1)"/></g></g></g>
<g clip-path="url(#cpC1)"><g transform="rotate(-24 1028.2 1011.4)" filter="url(#fC1)"><g transform="rotate(24 1028.2 1011.4)"><rect x="674.6" y="674.2" width="707.2" height="674.3" fill="#404040"/><g filter="url(#bl20)"><ellipse cx="896.4" cy="1008.3" rx="49.4" ry="157.3" fill="#4c4c4c" opacity="0.3"/><ellipse cx="1064.9" cy="1030.8" rx="45.0" ry="134.9" fill="#808080" opacity="0.3" transform="rotate(-20 1064.9 1030.8)"/><ellipse cx="1177.3" cy="1008.3" rx="33.7" ry="134.9" fill="#575757" opacity="0.3"/></g></g></g><g filter="url(#warp)"><g filter="url(#bl1)"><ellipse cx="1130.1" cy="1030.8" rx="5.6" ry="13.5" fill="#cedcf2" opacity="0.92" transform="rotate(-20 1130.1 1030.8)"/><ellipse cx="1148.1" cy="1053.3" rx="15.7" ry="8.5" fill="#cedcf2" opacity="0.92" transform="rotate(30 1148.1 1053.3)"/><ellipse cx="1154.8" cy="1066.8" rx="9.0" ry="6.3" fill="#cedcf2" opacity="0.92"/><ellipse cx="1166.1" cy="1075.8" rx="9.0" ry="2.7" fill="#cedcf2" opacity="0.92" transform="rotate(35 1166.1 1075.8)"/><ellipse cx="975.0" cy="1084.8" rx="6.3" ry="15.7" fill="#cedcf2" opacity="0.92" transform="rotate(-20 975.0 1084.8)"/><ellipse cx="990.8" cy="1109.5" rx="9.0" ry="5.4" fill="#cedcf2" opacity="0.92" transform="rotate(35 990.8 1109.5)"/><ellipse cx="896.4" cy="1060.0" rx="5.4" ry="21.4" fill="#cedcf2" opacity="0.92"/><ellipse cx="885.1" cy="1141.0" rx="20.2" ry="5.4" fill="#cedcf2" opacity="0.92" transform="rotate(-15 885.1 1141.0)"/><ellipse cx="914.3" cy="985.9" rx="11.2" ry="7.2" fill="#cedcf2" opacity="0.92" transform="rotate(30 914.3 985.9)"/><ellipse cx="860.4" cy="1003.8" rx="9.0" ry="2.7" fill="#cedcf2" opacity="0.92" transform="rotate(-30 860.4 1003.8)"/><ellipse cx="948.1" cy="1012.8" rx="6.7" ry="3.1" fill="#cedcf2" opacity="0.92"/><ellipse cx="959.3" cy="916.2" rx="13.5" ry="3.1" fill="#cedcf2" opacity="0.92" transform="rotate(40 959.3 916.2)"/><ellipse cx="891.9" cy="888.1" rx="9.0" ry="4.0" fill="#cedcf2" opacity="0.92" transform="rotate(-20 891.9 888.1)"/><ellipse cx="903.1" cy="904.9" rx="4.5" ry="3.1" fill="#cedcf2" opacity="0.92"/><ellipse cx="1121.1" cy="882.5" rx="11.2" ry="4.0" fill="#cedcf2" opacity="0.92" transform="rotate(-30 1121.1 882.5)"/><ellipse cx="1127.9" cy="875.7" rx="3.1" ry="9.0" fill="#cedcf2" opacity="0.92" transform="rotate(20 1127.9 875.7)"/><ellipse cx="1076.2" cy="896.0" rx="3.1" ry="13.5" fill="#cedcf2" opacity="0.92" transform="rotate(-20 1076.2 896.0)"/><ellipse cx="1060.4" cy="934.2" rx="3.1" ry="11.2" fill="#cedcf2" opacity="0.92" transform="rotate(-30 1060.4 934.2)"/><ellipse cx="1087.4" cy="927.4" rx="5.6" ry="2.2" fill="#cedcf2" opacity="0.92" transform="rotate(-20 1087.4 927.4)"/><ellipse cx="1053.7" cy="898.2" rx="11.2" ry="1.8" fill="#cedcf2" opacity="0.92" transform="rotate(-15 1053.7 898.2)"/><ellipse cx="930.1" cy="864.5" rx="4.0" ry="11.2" fill="#cedcf2" opacity="0.92" transform="rotate(-20 930.1 864.5)"/><ellipse cx="957.0" cy="864.5" rx="3.1" ry="11.2" fill="#cedcf2" opacity="0.92" transform="rotate(-10 957.0 864.5)"/><ellipse cx="860.4" cy="900.4" rx="2.7" ry="9.0" fill="#cedcf2" opacity="0.92"/><ellipse cx="864.9" cy="869.0" rx="2.7" ry="11.2" fill="#cedcf2" opacity="0.92" transform="rotate(-30 864.9 869.0)"/><ellipse cx="1157.1" cy="997.1" rx="5.6" ry="6.7" fill="#cedcf2" opacity="0.92"/><ellipse cx="1195.3" cy="857.7" rx="6.7" ry="9.0" fill="#cedcf2" opacity="0.92" transform="rotate(-30 1195.3 857.7)"/><ellipse cx="977.3" cy="1037.6" rx="5.6" ry="6.7" fill="#cedcf2" opacity="0.92"/><ellipse cx="968.3" cy="1030.8" rx="4.5" ry="3.1" fill="#cedcf2" opacity="0.92"/><ellipse cx="1141.4" cy="1100.5" rx="2.7" ry="9.0" fill="#cedcf2" opacity="0.92"/><ellipse cx="1103.1" cy="1096.0" rx="5.6" ry="4.5" fill="#cedcf2" opacity="0.92"/><ellipse cx="1067.2" cy="1127.5" rx="9.0" ry="6.7" fill="#cedcf2" opacity="0.92"/><ellipse cx="1098.6" cy="1123.0" rx="6.7" ry="9.0" fill="#cedcf2" opacity="0.92"/><ellipse cx="948.1" cy="949.9" rx="4.5" ry="4.5" fill="#cedcf2" opacity="0.92"/><ellipse cx="880.6" cy="949.9" rx="3.1" ry="6.7" fill="#cedcf2" opacity="0.92"/><ellipse cx="1006.5" cy="1158.9" rx="2.7" ry="11.2" fill="#cedcf2" opacity="0.92" transform="rotate(-20 1006.5 1158.9)"/><ellipse cx="957.0" cy="1154.4" rx="9.0" ry="2.7" fill="#cedcf2" opacity="0.92"/><ellipse cx="1049.2" cy="1100.5" rx="3.1" ry="11.2" fill="#cedcf2" opacity="0.92" transform="rotate(-20 1049.2 1100.5)"/><ellipse cx="1098.6" cy="1017.3" rx="2.7" ry="6.7" fill="#cedcf2" opacity="0.92"/><ellipse cx="907.6" cy="1026.3" rx="6.7" ry="2.7" fill="#cedcf2" opacity="0.92"/><ellipse cx="918.8" cy="1015.1" rx="2.2" ry="6.7" fill="#cedcf2" opacity="0.92"/><ellipse cx="1076.2" cy="994.9" rx="2.7" ry="9.0" fill="#cedcf2" opacity="0.92" transform="rotate(-20 1076.2 994.9)"/><ellipse cx="1022.2" cy="999.3" rx="2.7" ry="9.0" fill="#cedcf2" opacity="0.92" transform="rotate(-30 1022.2 999.3)"/><ellipse cx="871.6" cy="1165.7" rx="6.7" ry="4.5" fill="#cedcf2" opacity="0.92"/><ellipse cx="1202.0" cy="985.9" rx="2.2" ry="9.0" fill="#cedcf2" opacity="0.92"/><ellipse cx="1008.7" cy="963.4" rx="2.2" ry="9.0" fill="#cedcf2" opacity="0.92" transform="rotate(-30 1008.7 963.4)"/><ellipse cx="1177.3" cy="918.4" rx="2.2" ry="11.2" fill="#cedcf2" opacity="0.92" transform="rotate(-20 1177.3 918.4)"/><ellipse cx="1035.7" cy="1064.5" rx="2.2" ry="9.0" fill="#cedcf2" opacity="0.92" transform="rotate(-25 1035.7 1064.5)"/><ellipse cx="936.8" cy="1109.5" rx="2.7" ry="9.0" fill="#cedcf2" opacity="0.92" transform="rotate(-20 936.8 1109.5)"/><ellipse cx="873.9" cy="1087.0" rx="2.7" ry="9.0" fill="#cedcf2" opacity="0.92"/></g></g><rect x="986.3" y="864.8" width="116.1" height="110.7" fill="none" stroke="#f7ea18" stroke-width="3.8"/><rect x="1042.2" y="1144.0" width="143.9" height="6.1" fill="#ffffff"/></g>
<g clip-path="url(#cpC2)"><g filter="url(#fC2)"><rect x="1224.6" y="848.7" width="349.6" height="324.8" fill="#808080"/><g filter="url(#bl3)"><ellipse cx="1275.9" cy="879.2" rx="3.9" ry="26.3" fill="#cccccc" opacity="0.9"/><ellipse cx="1233.2" cy="901.1" rx="8.8" ry="4.4" fill="#bfbfbf" opacity="0.9"/><ellipse cx="1281.4" cy="1012.8" rx="4.8" ry="19.7" fill="#c7c7c7" opacity="0.9" transform="rotate(-25 1281.4 1012.8)"/><ellipse cx="1309.8" cy="1041.3" rx="9.9" ry="3.9" fill="#cccccc" opacity="0.9" transform="rotate(30 1309.8 1041.3)"/><ellipse cx="1318.6" cy="1061.0" rx="5.5" ry="15.3" fill="#cccccc" opacity="0.9"/><ellipse cx="1421.6" cy="1061.0" rx="6.6" ry="15.3" fill="#d1d1d1" opacity="0.9"/><ellipse cx="1467.6" cy="1055.5" rx="28.5" ry="3.1" fill="#d9d9d9" opacity="0.9" transform="rotate(20 1467.6 1055.5)"/><ellipse cx="1505.9" cy="966.8" rx="13.1" ry="3.1" fill="#cccccc" opacity="0.9" transform="rotate(-40 1505.9 966.8)"/><ellipse cx="1520.1" cy="916.4" rx="3.3" ry="17.5" fill="#bfbfbf" opacity="0.9"/><ellipse cx="1487.3" cy="863.8" rx="3.3" ry="11.0" fill="#bfbfbf" opacity="0.9"/><ellipse cx="1366.8" cy="1098.2" rx="3.3" ry="15.3" fill="#cccccc" opacity="0.9"/><ellipse cx="1379.9" cy="1133.3" rx="4.4" ry="8.8" fill="#bfbfbf" opacity="0.9"/><ellipse cx="1563.9" cy="1109.2" rx="6.6" ry="13.1" fill="#d9d9d9" opacity="0.9" transform="rotate(-30 1563.9 1109.2)"/><ellipse cx="1561.8" cy="964.6" rx="6.6" ry="6.6" fill="#bfbfbf" opacity="0.9"/><ellipse cx="1522.3" cy="1139.9" rx="6.6" ry="11.0" fill="#b8b8b8" opacity="0.9"/><ellipse cx="1417.2" cy="953.7" rx="17.5" ry="2.6" fill="#b2b2b2" opacity="0.9"/><ellipse cx="1231.0" cy="1017.2" rx="4.4" ry="6.6" fill="#b2b2b2" opacity="0.9"/><ellipse cx="1509.2" cy="953.7" rx="4.4" ry="13.1" fill="#b8b8b8" opacity="0.9"/></g><g filter="url(#bl1)"><ellipse cx="1305.5" cy="877.0" rx="21.9" ry="21.9" fill="#545454" opacity="0.92" stroke="#212121" stroke-width="1.8"/><ellipse cx="1302.6" cy="875.1" rx="4.4" ry="4.6" fill="#1c1c1c" opacity="0.9" transform="rotate(74 1302.6 875.1)"/><ellipse cx="1307.6" cy="877.9" rx="4.2" ry="3.9" fill="#1c1c1c" opacity="0.9" transform="rotate(29 1307.6 877.9)"/><ellipse cx="1308.8" cy="885.6" rx="3.5" ry="3.8" fill="#1c1c1c" opacity="0.9" transform="rotate(50 1308.8 885.6)"/><ellipse cx="1244.1" cy="879.2" rx="19.7" ry="17.5" fill="#616161" opacity="0.92" stroke="#2e2e2e" stroke-width="1.8"/><ellipse cx="1244.5" cy="882.1" rx="4.4" ry="4.4" fill="#292929" opacity="0.9" transform="rotate(1 1244.5 882.1)"/><ellipse cx="1242.9" cy="877.2" rx="4.0" ry="4.4" fill="#292929" opacity="0.9" transform="rotate(38 1242.9 877.2)"/><ellipse cx="1245.9" cy="871.1" rx="2.8" ry="3.1" fill="#292929" opacity="0.9" transform="rotate(49 1245.9 871.1)"/><ellipse cx="1292.3" cy="918.6" rx="21.9" ry="13.1" fill="#545454" opacity="0.92" transform="rotate(20 1292.3 918.6)" stroke="#212121" stroke-width="1.8"/><ellipse cx="1283.6" cy="919.4" rx="3.3" ry="4.1" fill="#1c1c1c" opacity="0.9" transform="rotate(46 1283.6 919.4)"/><ellipse cx="1294.6" cy="920.7" rx="2.7" ry="3.5" fill="#1c1c1c" opacity="0.9" transform="rotate(55 1294.6 920.7)"/><ellipse cx="1296.3" cy="913.4" rx="3.2" ry="3.9" fill="#1c1c1c" opacity="0.9" transform="rotate(73 1296.3 913.4)"/><ellipse cx="1286.6" cy="920.6" rx="3.6" ry="4.5" fill="#1c1c1c" opacity="0.9" transform="rotate(87 1286.6 920.6)"/><ellipse cx="1248.5" cy="925.2" rx="15.3" ry="19.7" fill="#616161" opacity="0.92" stroke="#2e2e2e" stroke-width="1.8"/><ellipse cx="1253.7" cy="916.7" rx="3.8" ry="3.4" fill="#292929" opacity="0.9" transform="rotate(41 1253.7 916.7)"/><ellipse cx="1256.1" cy="923.0" rx="3.6" ry="4.1" fill="#292929" opacity="0.9" transform="rotate(27 1256.1 923.0)"/><ellipse cx="1341.6" cy="962.4" rx="25.2" ry="21.9" fill="#545454" opacity="0.92" transform="rotate(20 1341.6 962.4)" stroke="#212121" stroke-width="1.8"/><ellipse cx="1340.0" cy="964.8" rx="4.2" ry="5.5" fill="#1c1c1c" opacity="0.9" transform="rotate(11 1340.0 964.8)"/><ellipse cx="1339.1" cy="964.0" rx="4.4" ry="3.5" fill="#1c1c1c" opacity="0.9" transform="rotate(54 1339.1 964.0)"/><ellipse cx="1346.6" cy="952.8" rx="2.3" ry="2.6" fill="#1c1c1c" opacity="0.9" transform="rotate(5 1346.6 952.8)"/><ellipse cx="1298.9" cy="999.7" rx="21.9" ry="35.0" fill="#545454" opacity="0.92" transform="rotate(-25 1298.9 999.7)" stroke="#212121" stroke-width="1.8"/><ellipse cx="1294.3" cy="992.4" rx="4.3" ry="5.6" fill="#1c1c1c" opacity="0.9" transform="rotate(64 1294.3 992.4)"/><ellipse cx="1300.8" cy="1003.2" rx="2.2" ry="1.9" fill="#1c1c1c" opacity="0.9" transform="rotate(68 1300.8 1003.2)"/><ellipse cx="1303.1" cy="999.1" rx="3.2" ry="3.5" fill="#1c1c1c" opacity="0.9" transform="rotate(19 1303.1 999.1)"/><ellipse cx="1287.5" cy="985.5" rx="3.0" ry="3.0" fill="#1c1c1c" opacity="0.9" transform="rotate(17 1287.5 985.5)"/><ellipse cx="1246.3" cy="999.7" rx="19.7" ry="24.1" fill="#4f4f4f" opacity="0.92" transform="rotate(-20 1246.3 999.7)" stroke="#1c1c1c" stroke-width="1.8"/><ellipse cx="1242.6" cy="1009.8" rx="3.1" ry="3.9" fill="#171717" opacity="0.9" transform="rotate(87 1242.6 1009.8)"/><ellipse cx="1238.6" cy="998.9" rx="4.5" ry="4.7" fill="#171717" opacity="0.9" transform="rotate(55 1238.6 998.9)"/><ellipse cx="1238.5" cy="994.4" rx="4.4" ry="4.5" fill="#171717" opacity="0.9" transform="rotate(33 1238.5 994.4)"/><ellipse cx="1239.6" cy="1000.9" rx="2.2" ry="2.2" fill="#171717" opacity="0.9" transform="rotate(74 1239.6 1000.9)"/><ellipse cx="1346.0" cy="1023.8" rx="16.4" ry="24.1" fill="#545454" opacity="0.92" transform="rotate(15 1346.0 1023.8)" stroke="#212121" stroke-width="1.8"/><ellipse cx="1351.6" cy="1026.4" rx="3.7" ry="3.1" fill="#1c1c1c" opacity="0.9" transform="rotate(80 1351.6 1026.4)"/><ellipse cx="1342.6" cy="1028.4" rx="4.4" ry="4.9" fill="#1c1c1c" opacity="0.9" transform="rotate(35 1342.6 1028.4)"/><ellipse cx="1346.5" cy="1021.2" rx="2.3" ry="2.7" fill="#1c1c1c" opacity="0.9" transform="rotate(47 1346.5 1021.2)"/><ellipse cx="1417.2" cy="929.6" rx="23.0" ry="19.7" fill="#545454" opacity="0.92" stroke="#212121" stroke-width="1.8"/><ellipse cx="1413.4" cy="926.2" rx="3.6" ry="3.2" fill="#1c1c1c" opacity="0.9" transform="rotate(23 1413.4 926.2)"/><ellipse cx="1414.8" cy="934.4" rx="3.6" ry="3.4" fill="#1c1c1c" opacity="0.9" transform="rotate(48 1414.8 934.4)"/><ellipse cx="1425.7" cy="935.2" rx="4.5" ry="5.2" fill="#1c1c1c" opacity="0.9" transform="rotate(16 1425.7 935.2)"/><ellipse cx="1456.6" cy="874.8" rx="21.9" ry="19.7" fill="#4f4f4f" opacity="0.92" stroke="#1c1c1c" stroke-width="1.8"/><ellipse cx="1448.0" cy="874.8" rx="2.8" ry="2.7" fill="#171717" opacity="0.9" transform="rotate(86 1448.0 874.8)"/><ellipse cx="1448.3" cy="878.0" rx="2.4" ry="2.3" fill="#171717" opacity="0.9" transform="rotate(42 1448.3 878.0)"/><ellipse cx="1454.6" cy="871.3" rx="4.1" ry="5.3" fill="#171717" opacity="0.9" transform="rotate(10 1454.6 871.3)"/><ellipse cx="1408.4" cy="883.6" rx="13.1" ry="21.9" fill="#616161" opacity="0.92" transform="rotate(-20 1408.4 883.6)" stroke="#2e2e2e" stroke-width="1.8"/><ellipse cx="1406.8" cy="879.5" rx="3.6" ry="3.3" fill="#292929" opacity="0.9" transform="rotate(15 1406.8 879.5)"/><ellipse cx="1415.7" cy="883.5" rx="3.0" ry="3.6" fill="#292929" opacity="0.9" transform="rotate(73 1415.7 883.5)"/><ellipse cx="1411.1" cy="887.4" rx="4.1" ry="4.6" fill="#292929" opacity="0.9" transform="rotate(79 1411.1 887.4)"/><ellipse cx="1480.7" cy="958.0" rx="14.2" ry="23.0" fill="#545454" opacity="0.92" transform="rotate(10 1480.7 958.0)" stroke="#212121" stroke-width="1.8"/><ellipse cx="1477.9" cy="953.9" rx="3.4" ry="4.2" fill="#1c1c1c" opacity="0.9" transform="rotate(59 1477.9 953.9)"/><ellipse cx="1477.5" cy="963.0" rx="3.2" ry="3.2" fill="#1c1c1c" opacity="0.9" transform="rotate(52 1477.5 963.0)"/><ellipse cx="1481.2" cy="960.1" rx="4.5" ry="5.5" fill="#1c1c1c" opacity="0.9" transform="rotate(65 1481.2 960.1)"/><ellipse cx="1526.7" cy="942.7" rx="16.4" ry="15.3" fill="#545454" opacity="0.92" stroke="#212121" stroke-width="1.8"/><ellipse cx="1518.4" cy="939.7" rx="3.9" ry="3.2" fill="#1c1c1c" opacity="0.9" transform="rotate(58 1518.4 939.7)"/><ellipse cx="1530.1" cy="937.5" rx="3.4" ry="3.3" fill="#1c1c1c" opacity="0.9" transform="rotate(43 1530.1 937.5)"/><ellipse cx="1532.9" cy="937.9" rx="4.3" ry="5.5" fill="#1c1c1c" opacity="0.9" transform="rotate(15 1532.9 937.9)"/><ellipse cx="1527.4" cy="941.0" rx="4.4" ry="5.0" fill="#1c1c1c" opacity="0.9" transform="rotate(25 1527.4 941.0)"/><ellipse cx="1502.6" cy="999.7" rx="21.9" ry="17.5" fill="#545454" opacity="0.92" stroke="#212121" stroke-width="1.8"/><ellipse cx="1500.6" cy="998.8" rx="4.0" ry="3.5" fill="#1c1c1c" opacity="0.9" transform="rotate(38 1500.6 998.8)"/><ellipse cx="1502.8" cy="1001.6" rx="3.5" ry="2.9" fill="#1c1c1c" opacity="0.9" transform="rotate(78 1502.8 1001.6)"/><ellipse cx="1505.2" cy="1001.5" rx="4.5" ry="4.9" fill="#1c1c1c" opacity="0.9" transform="rotate(7 1505.2 1001.5)"/><ellipse cx="1500.1" cy="1002.3" rx="3.5" ry="4.2" fill="#1c1c1c" opacity="0.9" transform="rotate(21 1500.1 1002.3)"/><ellipse cx="1467.6" cy="1032.5" rx="24.1" ry="21.9" fill="#4f4f4f" opacity="0.92" stroke="#1c1c1c" stroke-width="1.8"/><ellipse cx="1470.8" cy="1021.6" rx="4.1" ry="5.0" fill="#171717" opacity="0.9"/><ellipse cx="1459.0" cy="1033.1" rx="3.2" ry="3.7" fill="#171717" opacity="0.9" transform="rotate(31 1459.0 1033.1)"/><ellipse cx="1466.6" cy="1039.9" rx="3.2" ry="3.3" fill="#171717" opacity="0.9"/><ellipse cx="1513.6" cy="1061.0" rx="14.2" ry="18.6" fill="#545454" opacity="0.92" stroke="#212121" stroke-width="1.8"/><ellipse cx="1513.8" cy="1058.8" rx="2.3" ry="2.4" fill="#1c1c1c" opacity="0.9" transform="rotate(4 1513.8 1058.8)"/><ellipse cx="1514.8" cy="1058.9" rx="3.4" ry="3.3" fill="#1c1c1c" opacity="0.9" transform="rotate(40 1514.8 1058.9)"/><ellipse cx="1550.8" cy="1069.8" rx="19.7" ry="32.9" fill="#3b3b3b" opacity="0.92" stroke="#080808" stroke-width="1.8"/><ellipse cx="1546.2" cy="1080.1" rx="3.6" ry="3.5" fill="#030303" opacity="0.9" transform="rotate(24 1546.2 1080.1)"/><ellipse cx="1556.6" cy="1069.0" rx="2.5" ry="2.0" fill="#030303" opacity="0.9" transform="rotate(48 1556.6 1069.0)"/><ellipse cx="1388.7" cy="1045.7" rx="23.0" ry="18.6" fill="#4f4f4f" opacity="0.92" transform="rotate(20 1388.7 1045.7)" stroke="#1c1c1c" stroke-width="1.8"/><ellipse cx="1386.7" cy="1044.0" rx="3.3" ry="3.7" fill="#171717" opacity="0.9" transform="rotate(69 1386.7 1044.0)"/><ellipse cx="1379.4" cy="1048.5" rx="3.7" ry="3.8" fill="#171717" opacity="0.9" transform="rotate(47 1379.4 1048.5)"/><ellipse cx="1393.1" cy="995.3" rx="19.7" ry="15.3" fill="#616161" opacity="0.92" stroke="#2e2e2e" stroke-width="1.8"/><ellipse cx="1393.4" cy="991.6" rx="4.5" ry="4.5" fill="#292929" opacity="0.9" transform="rotate(2 1393.4 991.6)"/><ellipse cx="1393.3" cy="1000.5" rx="3.9" ry="3.2" fill="#292929" opacity="0.9" transform="rotate(54 1393.3 1000.5)"/><ellipse cx="1393.6" cy="997.7" rx="2.3" ry="2.2" fill="#292929" opacity="0.9" transform="rotate(71 1393.6 997.7)"/><ellipse cx="1394.2" cy="992.0" rx="3.3" ry="2.9" fill="#292929" opacity="0.9" transform="rotate(84 1394.2 992.0)"/><ellipse cx="1430.3" cy="1012.8" rx="11.0" ry="19.7" fill="#616161" opacity="0.92" transform="rotate(15 1430.3 1012.8)" stroke="#2e2e2e" stroke-width="1.8"/><ellipse cx="1430.0" cy="1005.1" rx="3.6" ry="3.0" fill="#292929" opacity="0.9" transform="rotate(75 1430.0 1005.1)"/><ellipse cx="1431.2" cy="1006.8" rx="2.8" ry="2.8" fill="#292929" opacity="0.9" transform="rotate(67 1431.2 1006.8)"/><ellipse cx="1431.2" cy="1014.6" rx="4.3" ry="3.8" fill="#292929" opacity="0.9" transform="rotate(3 1431.2 1014.6)"/><ellipse cx="1425.5" cy="1019.8" rx="2.3" ry="1.9" fill="#292929" opacity="0.9" transform="rotate(61 1425.5 1019.8)"/><ellipse cx="1443.5" cy="1065.4" rx="19.7" ry="15.3" fill="#545454" opacity="0.92" stroke="#212121" stroke-width="1.8"/><ellipse cx="1435.5" cy="1062.0" rx="2.3" ry="2.7" fill="#1c1c1c" opacity="0.9" transform="rotate(65 1435.5 1062.0)"/><ellipse cx="1439.4" cy="1064.8" rx="3.5" ry="3.0" fill="#1c1c1c" opacity="0.9" transform="rotate(70 1439.4 1064.8)"/><ellipse cx="1448.0" cy="1066.8" rx="3.6" ry="4.3" fill="#1c1c1c" opacity="0.9" transform="rotate(30 1448.0 1066.8)"/><ellipse cx="1487.3" cy="1091.7" rx="17.5" ry="17.5" fill="#545454" opacity="0.92" stroke="#212121" stroke-width="1.8"/><ellipse cx="1484.0" cy="1087.4" rx="3.9" ry="4.9" fill="#1c1c1c" opacity="0.9" transform="rotate(32 1484.0 1087.4)"/><ellipse cx="1484.0" cy="1095.3" rx="3.0" ry="3.1" fill="#1c1c1c" opacity="0.9" transform="rotate(10 1484.0 1095.3)"/><ellipse cx="1484.7" cy="1094.2" rx="4.4" ry="5.4" fill="#1c1c1c" opacity="0.9" transform="rotate(20 1484.7 1094.2)"/><ellipse cx="1379.9" cy="1087.3" rx="15.3" ry="17.5" fill="#141414" opacity="0.92" stroke="#000000" stroke-width="1.8"/><ellipse cx="1471.9" cy="1126.7" rx="15.3" ry="17.5" fill="#262626" opacity="0.92" stroke="#000000" stroke-width="1.8"/><ellipse cx="1469.5" cy="1119.5" rx="3.8" ry="4.0" fill="#000000" opacity="0.9" transform="rotate(61 1469.5 1119.5)"/><ellipse cx="1474.3" cy="1130.8" rx="4.3" ry="3.8" fill="#000000" opacity="0.9" transform="rotate(63 1474.3 1130.8)"/><ellipse cx="1471.9" cy="1117.7" rx="3.4" ry="3.5" fill="#000000" opacity="0.9" transform="rotate(23 1471.9 1117.7)"/><ellipse cx="1476.4" cy="1132.5" rx="2.6" ry="2.7" fill="#000000" opacity="0.9" transform="rotate(29 1476.4 1132.5)"/><ellipse cx="1272.6" cy="1089.5" rx="17.5" ry="17.5" fill="#545454" opacity="0.92" stroke="#212121" stroke-width="1.8"/><ellipse cx="1268.6" cy="1082.0" rx="3.6" ry="4.0" fill="#1c1c1c" opacity="0.9" transform="rotate(34 1268.6 1082.0)"/><ellipse cx="1275.8" cy="1086.8" rx="2.8" ry="3.4" fill="#1c1c1c" opacity="0.9" transform="rotate(25 1275.8 1086.8)"/><ellipse cx="1274.8" cy="1093.5" rx="3.0" ry="3.5" fill="#1c1c1c" opacity="0.9" transform="rotate(18 1274.8 1093.5)"/><ellipse cx="1255.1" cy="1128.9" rx="17.5" ry="17.5" fill="#4f4f4f" opacity="0.92" stroke="#1c1c1c" stroke-width="1.8"/><ellipse cx="1260.6" cy="1128.6" rx="3.6" ry="3.8" fill="#171717" opacity="0.9" transform="rotate(83 1260.6 1128.6)"/><ellipse cx="1249.9" cy="1127.0" rx="3.9" ry="4.8" fill="#171717" opacity="0.9" transform="rotate(51 1249.9 1127.0)"/><ellipse cx="1256.9" cy="1120.4" rx="2.3" ry="2.9" fill="#171717" opacity="0.9" transform="rotate(30 1256.9 1120.4)"/><ellipse cx="1250.4" cy="1122.6" rx="2.4" ry="2.2" fill="#171717" opacity="0.9" transform="rotate(32 1250.4 1122.6)"/><ellipse cx="1303.3" cy="1126.7" rx="19.7" ry="17.5" fill="#4f4f4f" opacity="0.92" transform="rotate(20 1303.3 1126.7)" stroke="#1c1c1c" stroke-width="1.8"/><ellipse cx="1311.4" cy="1124.3" rx="2.5" ry="2.8" fill="#171717" opacity="0.9" transform="rotate(86 1311.4 1124.3)"/><ellipse cx="1311.5" cy="1122.4" rx="2.8" ry="3.5" fill="#171717" opacity="0.9" transform="rotate(40 1311.5 1122.4)"/><ellipse cx="1303.6" cy="1129.2" rx="4.1" ry="3.5" fill="#171717" opacity="0.9" transform="rotate(33 1303.6 1129.2)"/><ellipse cx="1318.6" cy="1091.7" rx="13.1" ry="21.9" fill="#4f4f4f" opacity="0.92" transform="rotate(-30 1318.6 1091.7)" stroke="#1c1c1c" stroke-width="1.8"/><ellipse cx="1322.7" cy="1091.0" rx="4.0" ry="3.8" fill="#171717" opacity="0.9" transform="rotate(3 1322.7 1091.0)"/><ellipse cx="1319.7" cy="1097.5" rx="3.4" ry="3.0" fill="#171717" opacity="0.9" transform="rotate(74 1319.7 1097.5)"/><ellipse cx="1314.9" cy="1085.7" rx="2.5" ry="2.4" fill="#171717" opacity="0.9" transform="rotate(35 1314.9 1085.7)"/><ellipse cx="1340.5" cy="1076.3" rx="11.0" ry="19.7" fill="#545454" opacity="0.92" transform="rotate(-25 1340.5 1076.3)" stroke="#212121" stroke-width="1.8"/><ellipse cx="1338.7" cy="1074.4" rx="4.3" ry="5.4" fill="#1c1c1c" opacity="0.9" transform="rotate(12 1338.7 1074.4)"/><ellipse cx="1335.9" cy="1076.9" rx="3.8" ry="3.8" fill="#1c1c1c" opacity="0.9" transform="rotate(57 1335.9 1076.9)"/><ellipse cx="1401.8" cy="1126.7" rx="19.7" ry="17.5" fill="#4f4f4f" opacity="0.92" stroke="#1c1c1c" stroke-width="1.8"/><ellipse cx="1397.7" cy="1120.7" rx="4.5" ry="5.4" fill="#171717" opacity="0.9" transform="rotate(13 1397.7 1120.7)"/><ellipse cx="1402.1" cy="1117.4" rx="3.8" ry="4.1" fill="#171717" opacity="0.9" transform="rotate(14 1402.1 1117.4)"/><ellipse cx="1398.6" cy="1121.7" rx="2.3" ry="2.2" fill="#171717" opacity="0.9" transform="rotate(72 1398.6 1121.7)"/><ellipse cx="1436.9" cy="1107.0" rx="13.1" ry="15.3" fill="#545454" opacity="0.92" stroke="#212121" stroke-width="1.8"/><ellipse cx="1433.5" cy="1101.8" rx="2.6" ry="2.5" fill="#1c1c1c" opacity="0.9" transform="rotate(83 1433.5 1101.8)"/><ellipse cx="1435.0" cy="1107.6" rx="3.5" ry="4.5" fill="#1c1c1c" opacity="0.9" transform="rotate(82 1435.0 1107.6)"/><ellipse cx="1436.0" cy="1101.4" rx="3.5" ry="4.0" fill="#1c1c1c" opacity="0.9" transform="rotate(58 1436.0 1101.4)"/><ellipse cx="1550.8" cy="1135.5" rx="17.5" ry="15.3" fill="#545454" opacity="0.92" stroke="#212121" stroke-width="1.8"/><ellipse cx="1549.6" cy="1138.0" rx="2.4" ry="2.7" fill="#1c1c1c" opacity="0.9" transform="rotate(70 1549.6 1138.0)"/><ellipse cx="1543.5" cy="1133.7" rx="3.1" ry="2.9" fill="#1c1c1c" opacity="0.9" transform="rotate(49 1543.5 1133.7)"/><ellipse cx="1553.5" cy="1136.3" rx="3.3" ry="3.1" fill="#1c1c1c" opacity="0.9" transform="rotate(89 1553.5 1136.3)"/><ellipse cx="1551.3" cy="1131.5" rx="3.0" ry="3.0" fill="#1c1c1c" opacity="0.9" transform="rotate(69 1551.3 1131.5)"/><ellipse cx="1377.8" cy="1161.8" rx="17.5" ry="7.7" fill="#4f4f4f" opacity="0.92" stroke="#1c1c1c" stroke-width="1.8"/><ellipse cx="1235.4" cy="1067.6" rx="8.8" ry="15.3" fill="#3b3b3b" opacity="0.92" stroke="#080808" stroke-width="1.8"/><ellipse cx="1358.0" cy="909.8" rx="3.9" ry="17.5" fill="#0d0d0d" opacity="0.92" transform="rotate(5 1358.0 909.8)" stroke="#000000" stroke-width="1.8"/><ellipse cx="1533.3" cy="1102.6" rx="13.1" ry="13.1" fill="#474747" opacity="0.92" stroke="#141414" stroke-width="1.8"/><ellipse cx="1529.5" cy="1107.7" rx="2.5" ry="2.3" fill="#0f0f0f" opacity="0.9" transform="rotate(12 1529.5 1107.7)"/><ellipse cx="1531.3" cy="1098.4" rx="4.4" ry="3.8" fill="#0f0f0f" opacity="0.9" transform="rotate(89 1531.3 1098.4)"/><ellipse cx="1467.6" cy="909.8" rx="17.5" ry="21.9" fill="#636363" opacity="0.92" stroke="#303030" stroke-width="1.8"/><ellipse cx="1461.1" cy="906.2" rx="3.1" ry="4.1" fill="#2b2b2b" opacity="0.9" transform="rotate(16 1461.1 906.2)"/><ellipse cx="1465.1" cy="907.9" rx="3.2" ry="2.8" fill="#2b2b2b" opacity="0.9" transform="rotate(67 1465.1 907.9)"/><ellipse cx="1469.1" cy="913.3" rx="4.3" ry="4.2" fill="#2b2b2b" opacity="0.9" transform="rotate(37 1469.1 913.3)"/><ellipse cx="1544.2" cy="883.6" rx="17.5" ry="26.3" fill="#696969" opacity="0.92" stroke="#363636" stroke-width="1.8"/><ellipse cx="1547.1" cy="877.0" rx="3.2" ry="3.8" fill="#303030" opacity="0.9" transform="rotate(40 1547.1 877.0)"/><ellipse cx="1538.2" cy="880.5" rx="3.7" ry="4.8" fill="#303030" opacity="0.9" transform="rotate(87 1538.2 880.5)"/><ellipse cx="1259.5" cy="1030.3" rx="13.1" ry="13.1" fill="#636363" opacity="0.92" stroke="#303030" stroke-width="1.8"/><ellipse cx="1263.6" cy="1027.1" rx="2.3" ry="2.0" fill="#2b2b2b" opacity="0.9" transform="rotate(81 1263.6 1027.1)"/><ellipse cx="1265.3" cy="1030.4" rx="3.8" ry="4.0" fill="#2b2b2b" opacity="0.9" transform="rotate(67 1265.3 1030.4)"/><ellipse cx="1257.7" cy="1028.6" rx="4.1" ry="3.7" fill="#2b2b2b" opacity="0.9" transform="rotate(64 1257.7 1028.6)"/><ellipse cx="1298.9" cy="1071.9" rx="6.6" ry="6.6" fill="#474747" opacity="0.92" stroke="#141414" stroke-width="1.8"/><ellipse cx="1561.8" cy="982.1" rx="8.8" ry="13.1" fill="#545454" opacity="0.92" stroke="#212121" stroke-width="1.8"/><ellipse cx="1423.8" cy="1023.8" rx="4.4" ry="5.5" fill="#1c1c1c" opacity="0.92" stroke="#000000" stroke-width="1.8"/><ellipse cx="1533.3" cy="1157.4" rx="8.8" ry="11.0" fill="#2e2e2e" opacity="0.92" stroke="#000000" stroke-width="1.8"/><ellipse cx="1563.9" cy="1039.1" rx="11.0" ry="13.1" fill="#2e2e2e" opacity="0.92" stroke="#000000" stroke-width="1.8"/><ellipse cx="1565.9" cy="1041.0" rx="3.8" ry="3.3" fill="#000000" opacity="0.9" transform="rotate(59 1565.9 1041.0)"/><ellipse cx="1565.0" cy="1034.3" rx="2.3" ry="2.3" fill="#000000" opacity="0.9" transform="rotate(29 1565.0 1034.3)"/><ellipse cx="1560.4" cy="1038.9" rx="2.2" ry="2.2" fill="#000000" opacity="0.9" transform="rotate(42 1560.4 1038.9)"/><ellipse cx="1567.1" cy="1035.1" rx="2.5" ry="3.1" fill="#000000" opacity="0.9" transform="rotate(76 1567.1 1035.1)"/></g></g></g>
<g clip-path="url(#cpC3)"><g filter="url(#fC3)"><rect x="849.4" y="1200.6" width="357.6" height="324.4" fill="#474747"/><g filter="url(#bl20)"><ellipse cx="1170.6" cy="1252.0" rx="45.0" ry="53.9" fill="#575757" opacity="0.4"/><ellipse cx="896.4" cy="1483.6" rx="56.2" ry="49.4" fill="#6b6b6b" opacity="0.3"/><ellipse cx="918.8" cy="1303.7" rx="56.2" ry="56.2" fill="#8f8f8f" opacity="0.25"/><ellipse cx="1143.6" cy="1382.4" rx="56.2" ry="67.4" fill="#575757" opacity="0.25"/></g><g filter="url(#bl2)"><ellipse cx="963.8" cy="1270.0" rx="5.6" ry="16.9" fill="#bdbdbd" opacity="0.85" transform="rotate(30 963.8 1270.0)"/><ellipse cx="977.3" cy="1254.3" rx="9.0" ry="5.6" fill="#bdbdbd" opacity="0.85"/><ellipse cx="986.3" cy="1335.2" rx="6.7" ry="15.7" fill="#c2c2c2" opacity="0.85"/><ellipse cx="1085.2" cy="1472.3" rx="11.2" ry="9.0" fill="#bdbdbd" opacity="0.85"/><ellipse cx="1141.4" cy="1425.1" rx="11.2" ry="9.0" fill="#b2b2b2" opacity="0.85"/><ellipse cx="1071.7" cy="1375.7" rx="9.0" ry="5.6" fill="#bdbdbd" opacity="0.85"/><ellipse cx="1053.7" cy="1382.4" rx="6.7" ry="9.0" fill="#b8b8b8" opacity="0.85"/><ellipse cx="1076.2" cy="1256.5" rx="11.2" ry="4.5" fill="#bdbdbd" opacity="0.85" transform="rotate(-15 1076.2 1256.5)"/><ellipse cx="1071.7" cy="1285.8" rx="9.0" ry="5.6" fill="#bdbdbd" opacity="0.85"/><ellipse cx="1044.7" cy="1303.7" rx="6.7" ry="6.7" fill="#b8b8b8" opacity="0.85"/></g></g><g filter="url(#warp)"><g filter="url(#bl20)"><ellipse cx="1172.8" cy="1247.6" rx="51.7" ry="56.2" fill="#965a78" opacity="0.28"/><ellipse cx="885.1" cy="1494.8" rx="58.4" ry="45.0" fill="#966496" opacity="0.2"/></g><g filter="url(#bl1)"><ellipse cx="871.6" cy="1218.3" rx="9.0" ry="4.5" fill="#eee2ee" opacity="0.92" transform="rotate(-30 871.6 1218.3)"/><ellipse cx="903.1" cy="1283.5" rx="6.7" ry="9.0" fill="#eee2ee" opacity="0.92"/><ellipse cx="880.6" cy="1279.0" rx="6.7" ry="3.1" fill="#eee2ee" opacity="0.92"/><ellipse cx="945.8" cy="1353.2" rx="13.5" ry="4.5" fill="#eee2ee" opacity="0.92" transform="rotate(15 945.8 1353.2)"/><ellipse cx="873.9" cy="1315.0" rx="4.0" ry="9.0" fill="#eee2ee" opacity="0.92"/><ellipse cx="914.3" cy="1319.5" rx="4.9" ry="9.0" fill="#eee2ee" opacity="0.92"/><ellipse cx="1152.6" cy="1308.2" rx="13.5" ry="4.0" fill="#eee2ee" opacity="0.92" transform="rotate(-35 1152.6 1308.2)"/><ellipse cx="1017.7" cy="1290.3" rx="6.7" ry="3.1" fill="#eee2ee" opacity="0.92"/><ellipse cx="1177.3" cy="1474.6" rx="4.0" ry="9.0" fill="#eee2ee" opacity="0.92"/><ellipse cx="1076.2" cy="1404.9" rx="4.5" ry="4.5" fill="#eee2ee" opacity="0.92"/><ellipse cx="1188.6" cy="1404.9" rx="2.7" ry="9.0" fill="#eee2ee" opacity="0.92"/><ellipse cx="1195.3" cy="1342.0" rx="3.1" ry="11.2" fill="#eee2ee" opacity="0.92" transform="rotate(20 1195.3 1342.0)"/><ellipse cx="997.5" cy="1445.4" rx="4.0" ry="9.0" fill="#eee2ee" opacity="0.92"/><ellipse cx="923.3" cy="1429.6" rx="2.7" ry="11.2" fill="#eee2ee" opacity="0.92"/><ellipse cx="873.9" cy="1409.4" rx="2.7" ry="9.0" fill="#eee2ee" opacity="0.92"/><ellipse cx="869.4" cy="1252.0" rx="6.7" ry="2.7" fill="#eee2ee" opacity="0.92"/><ellipse cx="925.6" cy="1225.1" rx="2.7" ry="9.0" fill="#eee2ee" opacity="0.92"/><ellipse cx="1008.7" cy="1216.1" rx="9.0" ry="2.7" fill="#eee2ee" opacity="0.92"/><ellipse cx="1105.4" cy="1346.5" rx="9.0" ry="2.7" fill="#eee2ee" opacity="0.92" transform="rotate(-30 1105.4 1346.5)"/><ellipse cx="1127.9" cy="1373.4" rx="2.7" ry="9.0" fill="#eee2ee" opacity="0.92" transform="rotate(30 1127.9 1373.4)"/><ellipse cx="1105.4" cy="1456.6" rx="6.7" ry="2.7" fill="#eee2ee" opacity="0.92"/><ellipse cx="1049.2" cy="1456.6" rx="6.7" ry="4.9" fill="#eee2ee" opacity="0.92"/><ellipse cx="862.6" cy="1461.1" rx="2.7" ry="6.7" fill="#eee2ee" opacity="0.92"/><ellipse cx="914.3" cy="1461.1" rx="3.1" ry="9.0" fill="#eee2ee" opacity="0.92"/><ellipse cx="1121.1" cy="1238.6" rx="2.7" ry="6.7" fill="#eee2ee" opacity="0.92"/><ellipse cx="1188.6" cy="1256.5" rx="4.5" ry="2.7" fill="#eee2ee" opacity="0.92"/><ellipse cx="990.8" cy="1409.4" rx="3.1" ry="5.6" fill="#eee2ee" opacity="0.92"/><ellipse cx="959.3" cy="1310.5" rx="9.0" ry="2.2" fill="#eee2ee" opacity="0.92"/><ellipse cx="1022.2" cy="1427.4" rx="2.7" ry="6.7" fill="#eee2ee" opacity="0.92"/><ellipse cx="1166.1" cy="1438.6" rx="6.7" ry="2.7" fill="#eee2ee" opacity="0.92"/><ellipse cx="896.4" cy="1359.9" rx="2.7" ry="9.0" fill="#eee2ee" opacity="0.92"/><ellipse cx="977.3" cy="1382.4" rx="6.7" ry="2.7" fill="#eee2ee" opacity="0.92"/><ellipse cx="1109.9" cy="1281.3" rx="2.7" ry="6.7" fill="#eee2ee" opacity="0.92"/><ellipse cx="1049.2" cy="1342.0" rx="6.7" ry="2.2" fill="#eee2ee" opacity="0.92"/><ellipse cx="941.3" cy="1400.4" rx="3.1" ry="6.7" fill="#eee2ee" opacity="0.92"/><ellipse cx="885.1" cy="1225.1" rx="2.7" ry="6.7" fill="#eee2ee" opacity="0.92"/></g></g><rect x="993.9" y="1232.4" width="117.1" height="109.4" fill="none" stroke="#f7ea18" stroke-width="3.8"/><rect x="1044.5" y="1493.1" width="143.8" height="6.4" fill="#ffffff"/></g>
<g clip-path="url(#cpC4)"><g filter="url(#fC4)"><rect x="1224.8" y="1201.3" width="349.7" height="323.2" fill="#757575"/><g filter="url(#bl3)"><ellipse cx="1279.4" cy="1229.6" rx="11.1" ry="26.2" fill="#d9d9d9" opacity="0.9" transform="rotate(-30 1279.4 1229.6)"/><ellipse cx="1518.1" cy="1308.4" rx="37.3" ry="26.2" fill="#d9d9d9" opacity="0.9"/><ellipse cx="1395.5" cy="1367.6" rx="8.5" ry="28.2" fill="#d9d9d9" opacity="0.9" transform="rotate(-20 1395.5 1367.6)"/><ellipse cx="1336.3" cy="1328.2" rx="9.1" ry="22.2" fill="#bfbfbf" opacity="0.9" transform="rotate(-35 1336.3 1328.2)"/><ellipse cx="1430.5" cy="1483.7" rx="25.2" ry="24.2" fill="#dedede" opacity="0.9"/><ellipse cx="1368.1" cy="1444.3" rx="10.1" ry="28.2" fill="#c4c4c4" opacity="0.9" transform="rotate(-15 1368.1 1444.3)"/><ellipse cx="1356.0" cy="1472.7" rx="16.1" ry="8.1" fill="#bfbfbf" opacity="0.9"/><ellipse cx="1235.6" cy="1485.9" rx="13.1" ry="10.1" fill="#d9d9d9" opacity="0.9"/><ellipse cx="1253.1" cy="1419.1" rx="10.1" ry="10.1" fill="#bfbfbf" opacity="0.9"/><ellipse cx="1565.2" cy="1231.8" rx="8.1" ry="10.1" fill="#d9d9d9" opacity="0.9"/><ellipse cx="1560.9" cy="1275.6" rx="10.1" ry="8.1" fill="#d9d9d9" opacity="0.9"/><ellipse cx="1417.4" cy="1216.4" rx="26.2" ry="10.1" fill="#ababab" opacity="0.9"/><ellipse cx="1299.1" cy="1260.3" rx="14.1" ry="8.1" fill="#ababab" opacity="0.9"/><ellipse cx="1288.1" cy="1275.6" rx="8.1" ry="8.1" fill="#a6a6a6" opacity="0.9"/><ellipse cx="1345.1" cy="1385.1" rx="6.0" ry="8.1" fill="#cccccc" opacity="0.9"/><ellipse cx="1345.1" cy="1369.8" rx="4.0" ry="6.0" fill="#bfbfbf" opacity="0.9"/><ellipse cx="1511.6" cy="1433.3" rx="16.1" ry="8.1" fill="#a6a6a6" opacity="0.9"/><ellipse cx="1474.3" cy="1396.1" rx="3.0" ry="12.1" fill="#bfbfbf" opacity="0.9" transform="rotate(-25 1474.3 1396.1)"/><ellipse cx="1248.7" cy="1321.6" rx="12.1" ry="8.1" fill="#999999" opacity="0.9"/><ellipse cx="1261.8" cy="1299.7" rx="4.0" ry="12.1" fill="#999999" opacity="0.9"/><ellipse cx="1443.7" cy="1433.3" rx="5.0" ry="5.0" fill="#bfbfbf" opacity="0.9"/><ellipse cx="1546.6" cy="1413.6" rx="8.1" ry="4.0" fill="#a6a6a6" opacity="0.9"/><ellipse cx="1445.9" cy="1334.7" rx="16.1" ry="12.1" fill="#919191" opacity="0.9"/><ellipse cx="1253.1" cy="1382.9" rx="8.1" ry="12.1" fill="#919191" opacity="0.9"/><ellipse cx="1299.1" cy="1466.2" rx="8.1" ry="8.1" fill="#8c8c8c" opacity="0.9"/><ellipse cx="1564.1" cy="1466.2" rx="6.0" ry="12.1" fill="#8c8c8c" opacity="0.9"/><ellipse cx="1445.9" cy="1514.4" rx="12.1" ry="8.1" fill="#cccccc" opacity="0.9"/></g><g filter="url(#bl1_5)"><ellipse cx="1259.7" cy="1242.7" rx="28.5" ry="32.9" fill="#303030" opacity="0.92" transform="rotate(-20 1259.7 1242.7)" stroke="#171717" stroke-width="1.6"/><ellipse cx="1239.9" cy="1295.3" rx="17.5" ry="24.1" fill="#4a4a4a" opacity="0.92" stroke="#303030" stroke-width="1.6"/><ellipse cx="1314.4" cy="1231.8" rx="19.7" ry="17.5" fill="#4a4a4a" opacity="0.92" stroke="#303030" stroke-width="1.6"/><ellipse cx="1307.9" cy="1275.6" rx="17.5" ry="15.3" fill="#666666" opacity="0.92" stroke="#4c4c4c" stroke-width="1.6"/><ellipse cx="1360.4" cy="1334.7" rx="20.8" ry="26.3" fill="#575757" opacity="0.92" stroke="#3d3d3d" stroke-width="1.6"/><ellipse cx="1367.0" cy="1370.9" rx="18.6" ry="7.7" fill="#242424" opacity="0.92" transform="rotate(25 1367.0 1370.9)" stroke="#0a0a0a" stroke-width="1.6"/><ellipse cx="1285.9" cy="1339.1" rx="19.7" ry="26.3" fill="#383838" opacity="0.92" transform="rotate(-30 1285.9 1339.1)" stroke="#1f1f1f" stroke-width="1.6"/><ellipse cx="1419.6" cy="1361.0" rx="24.1" ry="19.7" fill="#292929" opacity="0.92" transform="rotate(30 1419.6 1361.0)" stroke="#0f0f0f" stroke-width="1.6"/><ellipse cx="1518.1" cy="1290.9" rx="23.0" ry="17.5" fill="#383838" opacity="0.92" stroke="#1f1f1f" stroke-width="1.6"/><ellipse cx="1533.5" cy="1352.3" rx="37.2" ry="21.9" fill="#303030" opacity="0.92" stroke="#171717" stroke-width="1.6"/><ellipse cx="1509.4" cy="1238.3" rx="19.7" ry="19.7" fill="#424242" opacity="0.92" stroke="#292929" stroke-width="1.6"/><ellipse cx="1456.8" cy="1227.4" rx="19.7" ry="13.1" fill="#575757" opacity="0.92" transform="rotate(-30 1456.8 1227.4)" stroke="#3d3d3d" stroke-width="1.6"/><ellipse cx="1388.9" cy="1238.3" rx="17.5" ry="15.3" fill="#575757" opacity="0.92" stroke="#3d3d3d" stroke-width="1.6"/><ellipse cx="1480.9" cy="1378.5" rx="19.7" ry="24.1" fill="#3d3d3d" opacity="0.92" transform="rotate(20 1480.9 1378.5)" stroke="#242424" stroke-width="1.6"/><ellipse cx="1463.4" cy="1411.4" rx="14.2" ry="30.7" fill="#2e2e2e" opacity="0.92" transform="rotate(-30 1463.4 1411.4)" stroke="#141414" stroke-width="1.6"/><ellipse cx="1448.0" cy="1446.5" rx="28.5" ry="9.9" fill="#242424" opacity="0.92" transform="rotate(35 1448.0 1446.5)" stroke="#0a0a0a" stroke-width="1.6"/><ellipse cx="1288.1" cy="1413.6" rx="24.1" ry="28.5" fill="#3d3d3d" opacity="0.92" transform="rotate(-20 1288.1 1413.6)" stroke="#242424" stroke-width="1.6"/><ellipse cx="1345.1" cy="1444.3" rx="15.3" ry="19.7" fill="#424242" opacity="0.92" stroke="#292929" stroke-width="1.6"/><ellipse cx="1388.9" cy="1426.7" rx="11.0" ry="19.7" fill="#303030" opacity="0.92" transform="rotate(-20 1388.9 1426.7)" stroke="#171717" stroke-width="1.6"/><ellipse cx="1237.8" cy="1396.1" rx="11.0" ry="15.3" fill="#4a4a4a" opacity="0.92" stroke="#303030" stroke-width="1.6"/><ellipse cx="1546.6" cy="1431.1" rx="15.3" ry="15.3" fill="#292929" opacity="0.92" stroke="#0f0f0f" stroke-width="1.6"/><ellipse cx="1533.5" cy="1477.1" rx="15.3" ry="21.9" fill="#4a4a4a" opacity="0.92" stroke="#303030" stroke-width="1.6"/><ellipse cx="1565.2" cy="1444.3" rx="6.6" ry="11.0" fill="#1f1f1f" opacity="0.92" stroke="#050505" stroke-width="1.6"/><ellipse cx="1565.9" cy="1510.0" rx="6.6" ry="8.8" fill="#1f1f1f" opacity="0.92" stroke="#050505" stroke-width="1.6"/><ellipse cx="1467.8" cy="1507.8" rx="15.3" ry="11.0" fill="#242424" opacity="0.92" stroke="#0a0a0a" stroke-width="1.6"/><ellipse cx="1255.3" cy="1503.4" rx="17.5" ry="15.3" fill="#575757" opacity="0.92" stroke="#3d3d3d" stroke-width="1.6"/><ellipse cx="1397.7" cy="1485.9" rx="9.9" ry="13.1" fill="#424242" opacity="0.92" stroke="#292929" stroke-width="1.6"/><ellipse cx="1349.5" cy="1510.0" rx="17.5" ry="13.1" fill="#636363" opacity="0.92" stroke="#4a4a4a" stroke-width="1.6"/><ellipse cx="1303.5" cy="1450.8" rx="13.1" ry="11.0" fill="#575757" opacity="0.92" stroke="#3d3d3d" stroke-width="1.6"/><ellipse cx="1507.2" cy="1400.5" rx="8.8" ry="11.0" fill="#1f1f1f" opacity="0.92" stroke="#050505" stroke-width="1.6"/><ellipse cx="1430.5" cy="1308.4" rx="13.1" ry="17.5" fill="#575757" opacity="0.92" stroke="#3d3d3d" stroke-width="1.6"/><ellipse cx="1553.2" cy="1236.2" rx="6.6" ry="11.0" fill="#575757" opacity="0.92" stroke="#3d3d3d" stroke-width="1.6"/><ellipse cx="1318.8" cy="1374.2" rx="26.3" ry="21.9" fill="#575757" opacity="0.92" stroke="#3d3d3d" stroke-width="1.6"/><ellipse cx="1244.3" cy="1450.8" rx="21.9" ry="17.5" fill="#575757" opacity="0.92" stroke="#3d3d3d" stroke-width="1.6"/><ellipse cx="1496.2" cy="1505.6" rx="13.1" ry="13.1" fill="#575757" opacity="0.92" stroke="#3d3d3d" stroke-width="1.6"/></g><g filter="url(#bl1)"><ellipse cx="1260.4" cy="1256.5" rx="2.6" ry="2.2" fill="#0d0d0d" opacity="0.9" transform="rotate(2 1260.4 1256.5)"/><ellipse cx="1251.8" cy="1256.0" rx="3.1" ry="3.6" fill="#0d0d0d" opacity="0.9" transform="rotate(28 1251.8 1256.0)"/><ellipse cx="1239.4" cy="1299.5" rx="2.0" ry="1.8" fill="#262626" opacity="0.9" transform="rotate(3 1239.4 1299.5)"/><ellipse cx="1243.8" cy="1285.5" rx="3.1" ry="2.8" fill="#262626" opacity="0.9" transform="rotate(39 1243.8 1285.5)"/><ellipse cx="1308.5" cy="1226.4" rx="3.2" ry="3.9" fill="#262626" opacity="0.9" transform="rotate(11 1308.5 1226.4)"/><ellipse cx="1317.2" cy="1228.1" rx="2.4" ry="2.2" fill="#262626" opacity="0.9" transform="rotate(31 1317.2 1228.1)"/><ellipse cx="1306.1" cy="1283.5" rx="3.1" ry="4.0" fill="#424242" opacity="0.9" transform="rotate(38 1306.1 1283.5)"/><ellipse cx="1311.9" cy="1275.7" rx="2.9" ry="2.8" fill="#424242" opacity="0.9" transform="rotate(65 1311.9 1275.7)"/><ellipse cx="1309.6" cy="1279.8" rx="2.3" ry="2.3" fill="#424242" opacity="0.9" transform="rotate(29 1309.6 1279.8)"/><ellipse cx="1359.8" cy="1346.8" rx="1.9" ry="2.0" fill="#333333" opacity="0.9" transform="rotate(35 1359.8 1346.8)"/><ellipse cx="1352.3" cy="1333.5" rx="2.9" ry="2.5" fill="#333333" opacity="0.9" transform="rotate(86 1352.3 1333.5)"/><ellipse cx="1296.6" cy="1339.2" rx="2.8" ry="2.9" fill="#141414" opacity="0.9" transform="rotate(23 1296.6 1339.2)"/><ellipse cx="1285.9" cy="1349.6" rx="2.3" ry="2.5" fill="#141414" opacity="0.9" transform="rotate(41 1285.9 1349.6)"/><ellipse cx="1427.7" cy="1357.7" rx="2.2" ry="2.4" fill="#050505" opacity="0.9" transform="rotate(30 1427.7 1357.7)"/><ellipse cx="1516.1" cy="1293.7" rx="2.5" ry="2.1" fill="#141414" opacity="0.9" transform="rotate(89 1516.1 1293.7)"/><ellipse cx="1549.1" cy="1345.2" rx="3.0" ry="3.8" fill="#0d0d0d" opacity="0.9" transform="rotate(2 1549.1 1345.2)"/><ellipse cx="1506.8" cy="1248.6" rx="3.0" ry="3.1" fill="#1f1f1f" opacity="0.9" transform="rotate(79 1506.8 1248.6)"/><ellipse cx="1508.3" cy="1235.9" rx="2.8" ry="3.5" fill="#1f1f1f" opacity="0.9" transform="rotate(37 1508.3 1235.9)"/><ellipse cx="1459.2" cy="1231.6" rx="2.1" ry="2.2" fill="#333333" opacity="0.9" transform="rotate(46 1459.2 1231.6)"/><ellipse cx="1460.0" cy="1226.3" rx="3.1" ry="3.0" fill="#333333" opacity="0.9" transform="rotate(37 1460.0 1226.3)"/><ellipse cx="1385.8" cy="1239.5" rx="3.3" ry="2.8" fill="#333333" opacity="0.9" transform="rotate(7 1385.8 1239.5)"/><ellipse cx="1483.4" cy="1370.0" rx="3.4" ry="3.7" fill="#1a1a1a" opacity="0.9" transform="rotate(69 1483.4 1370.0)"/><ellipse cx="1458.9" cy="1409.7" rx="1.9" ry="2.3" fill="#0a0a0a" opacity="0.9" transform="rotate(37 1458.9 1409.7)"/><ellipse cx="1459.6" cy="1403.6" rx="3.4" ry="3.5" fill="#0a0a0a" opacity="0.9" transform="rotate(30 1459.6 1403.6)"/><ellipse cx="1461.6" cy="1416.7" rx="2.2" ry="2.2" fill="#0a0a0a" opacity="0.9" transform="rotate(82 1461.6 1416.7)"/><ellipse cx="1453.3" cy="1446.8" rx="1.9" ry="1.7" fill="#000000" opacity="0.9" transform="rotate(31 1453.3 1446.8)"/><ellipse cx="1438.2" cy="1438.7" rx="2.5" ry="2.3" fill="#000000" opacity="0.9" transform="rotate(41 1438.2 1438.7)"/><ellipse cx="1458.6" cy="1455.8" rx="2.7" ry="3.5" fill="#000000" opacity="0.9" transform="rotate(51 1458.6 1455.8)"/><ellipse cx="1285.0" cy="1414.9" rx="2.1" ry="2.6" fill="#1a1a1a" opacity="0.9" transform="rotate(21 1285.0 1414.9)"/><ellipse cx="1343.7" cy="1450.2" rx="3.2" ry="3.1" fill="#1f1f1f" opacity="0.9" transform="rotate(53 1343.7 1450.2)"/><ellipse cx="1339.1" cy="1442.9" rx="2.9" ry="2.7" fill="#1f1f1f" opacity="0.9" transform="rotate(50 1339.1 1442.9)"/><ellipse cx="1395.5" cy="1429.4" rx="3.3" ry="3.8" fill="#0d0d0d" opacity="0.9" transform="rotate(5 1395.5 1429.4)"/><ellipse cx="1387.4" cy="1432.2" rx="3.0" ry="2.8" fill="#0d0d0d" opacity="0.9" transform="rotate(7 1387.4 1432.2)"/><ellipse cx="1389.8" cy="1420.2" rx="2.5" ry="2.6" fill="#0d0d0d" opacity="0.9" transform="rotate(51 1389.8 1420.2)"/><ellipse cx="1238.0" cy="1397.6" rx="3.3" ry="2.6" fill="#262626" opacity="0.9" transform="rotate(32 1238.0 1397.6)"/><ellipse cx="1241.5" cy="1400.8" rx="3.1" ry="3.8" fill="#262626" opacity="0.9" transform="rotate(70 1241.5 1400.8)"/><ellipse cx="1243.2" cy="1398.7" rx="2.1" ry="2.3" fill="#262626" opacity="0.9" transform="rotate(71 1243.2 1398.7)"/><ellipse cx="1550.6" cy="1428.8" rx="1.9" ry="2.2" fill="#050505" opacity="0.9" transform="rotate(14 1550.6 1428.8)"/><ellipse cx="1539.1" cy="1431.6" rx="2.8" ry="2.4" fill="#050505" opacity="0.9" transform="rotate(46 1539.1 1431.6)"/><ellipse cx="1553.3" cy="1434.8" rx="3.2" ry="3.1" fill="#050505" opacity="0.9" transform="rotate(44 1553.3 1434.8)"/><ellipse cx="1538.0" cy="1481.0" rx="2.4" ry="2.9" fill="#262626" opacity="0.9" transform="rotate(39 1538.0 1481.0)"/><ellipse cx="1468.3" cy="1511.3" rx="3.3" ry="2.8" fill="#000000" opacity="0.9" transform="rotate(14 1468.3 1511.3)"/><ellipse cx="1473.8" cy="1505.3" rx="2.4" ry="3.1" fill="#000000" opacity="0.9" transform="rotate(53 1473.8 1505.3)"/><ellipse cx="1472.1" cy="1504.0" rx="1.9" ry="2.4" fill="#000000" opacity="0.9" transform="rotate(25 1472.1 1504.0)"/><ellipse cx="1260.3" cy="1501.3" rx="2.0" ry="2.1" fill="#333333" opacity="0.9" transform="rotate(47 1260.3 1501.3)"/><ellipse cx="1257.5" cy="1501.5" rx="2.0" ry="2.1" fill="#333333" opacity="0.9" transform="rotate(43 1257.5 1501.5)"/><ellipse cx="1392.8" cy="1484.2" rx="2.9" ry="2.4" fill="#1f1f1f" opacity="0.9" transform="rotate(39 1392.8 1484.2)"/><ellipse cx="1398.7" cy="1487.2" rx="3.1" ry="3.4" fill="#1f1f1f" opacity="0.9" transform="rotate(67 1398.7 1487.2)"/><ellipse cx="1344.5" cy="1509.5" rx="2.3" ry="2.1" fill="#404040" opacity="0.9" transform="rotate(23 1344.5 1509.5)"/><ellipse cx="1301.3" cy="1447.2" rx="2.3" ry="2.9" fill="#333333" opacity="0.9" transform="rotate(59 1301.3 1447.2)"/><ellipse cx="1434.5" cy="1306.2" rx="2.5" ry="2.8" fill="#333333" opacity="0.9" transform="rotate(50 1434.5 1306.2)"/><ellipse cx="1434.2" cy="1314.5" rx="2.4" ry="2.7" fill="#333333" opacity="0.9" transform="rotate(17 1434.2 1314.5)"/><ellipse cx="1322.6" cy="1376.0" rx="3.1" ry="2.8" fill="#333333" opacity="0.9" transform="rotate(47 1322.6 1376.0)"/><ellipse cx="1322.7" cy="1383.6" rx="2.9" ry="3.6" fill="#333333" opacity="0.9" transform="rotate(9 1322.7 1383.6)"/><ellipse cx="1307.6" cy="1380.7" rx="2.1" ry="2.4" fill="#333333" opacity="0.9" transform="rotate(41 1307.6 1380.7)"/><ellipse cx="1243.6" cy="1452.7" rx="1.8" ry="2.3" fill="#333333" opacity="0.9" transform="rotate(11 1243.6 1452.7)"/><ellipse cx="1247.5" cy="1443.1" rx="3.3" ry="2.9" fill="#333333" opacity="0.9" transform="rotate(74 1247.5 1443.1)"/><ellipse cx="1492.4" cy="1499.5" rx="1.9" ry="2.4" fill="#333333" opacity="0.9" transform="rotate(14 1492.4 1499.5)"/><ellipse cx="1498.2" cy="1509.3" rx="3.2" ry="2.9" fill="#333333" opacity="0.9" transform="rotate(84 1498.2 1509.3)"/><ellipse cx="1494.0" cy="1512.0" rx="2.4" ry="2.7" fill="#333333" opacity="0.9" transform="rotate(62 1494.0 1512.0)"/></g></g></g>
</svg></body></html>
